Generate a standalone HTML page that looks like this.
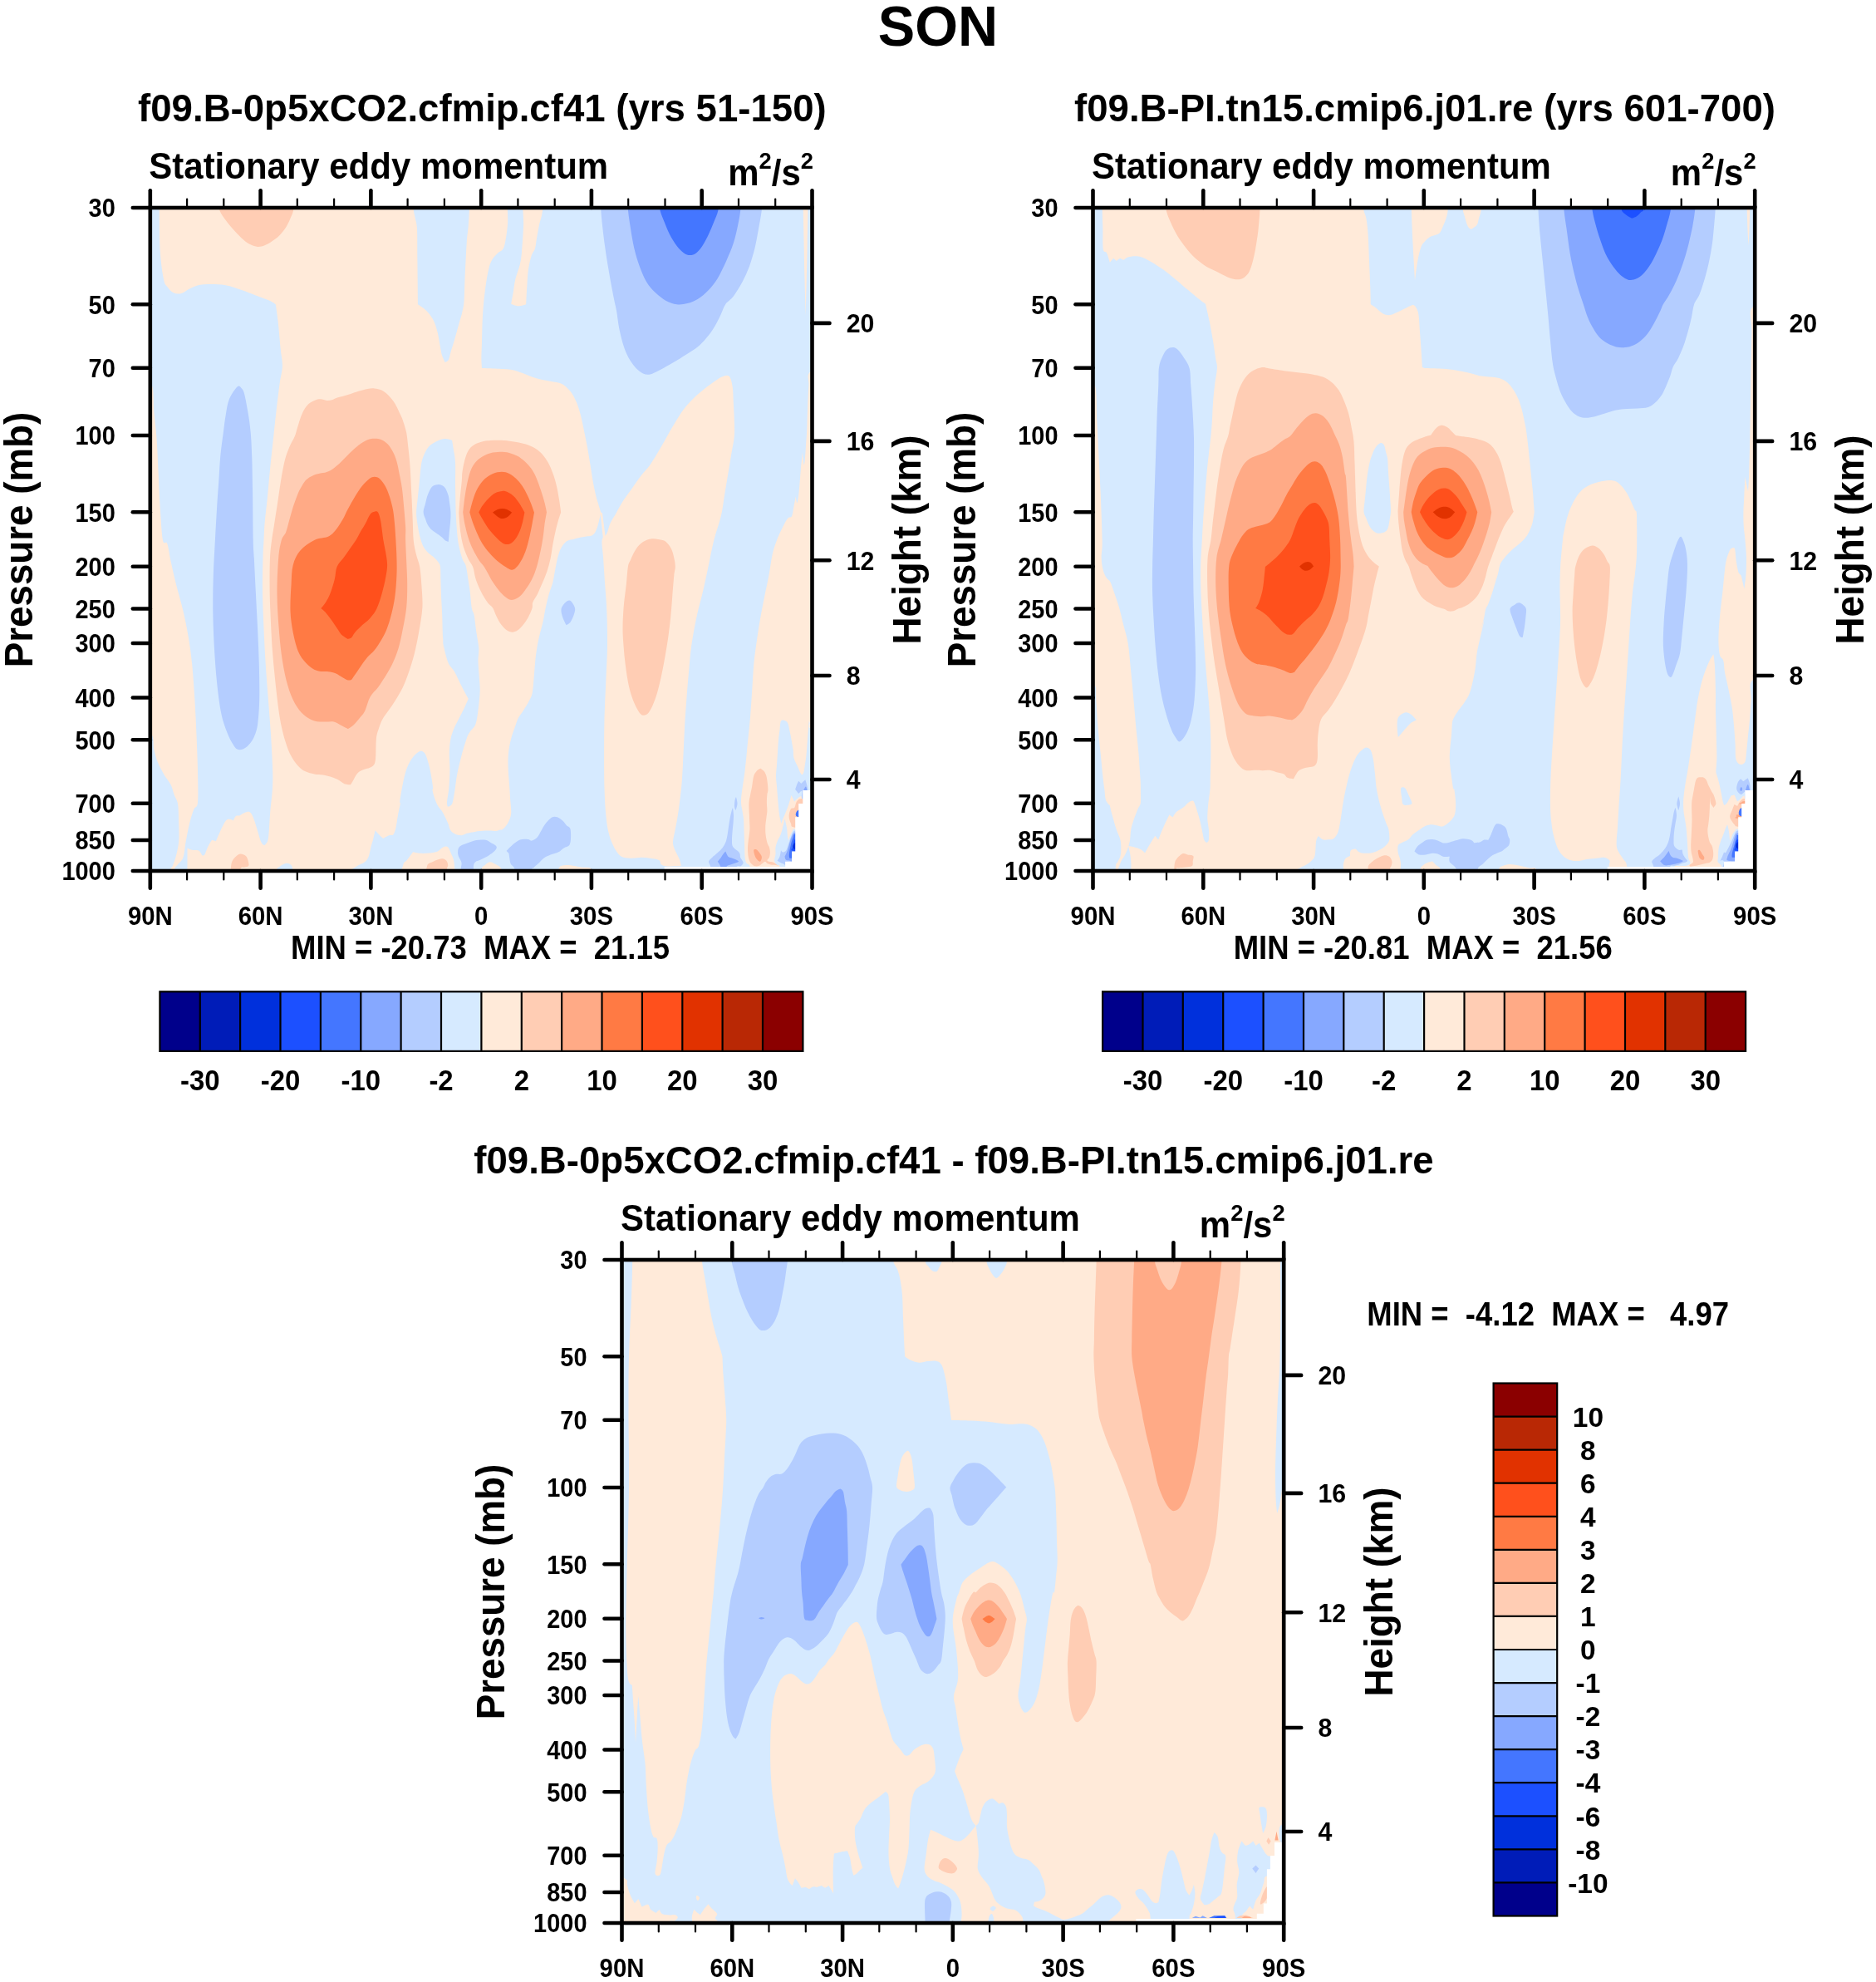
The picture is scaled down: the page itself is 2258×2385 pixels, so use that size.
<!DOCTYPE html>
<html><head><meta charset="utf-8"><title>SON</title>
<style>html,body{margin:0;padding:0;background:#fff}svg{display:block}body{will-change:transform}text{font-family:"Liberation Sans",sans-serif;font-weight:bold;fill:#000}</style></head><body>
<svg width="2258" height="2385" viewBox="0 0 2258 2385">
<rect width="2258" height="2385" fill="#fff"/>
<text transform="translate(1129 55.3) scale(0.965 1)" font-size="69" text-anchor="middle">SON</text>
<clipPath id="cp1"><rect x="180.8" y="250" width="796.7" height="798"/></clipPath>
<g clip-path="url(#cp1)">
<rect x="180.8" y="250" width="796.7" height="798" fill="#D6EAFF"/>
<path d="M191.7 237.2C242.7 234.7 446.7 234.7 497.7 237.2C548.7 239.7 497.3 247.9 497.7 252.1C498.1 256.4 499.1 258.9 499.8 262.8C500.5 266.7 501.5 267.1 502 275.6C502.4 284.1 502.2 298.9 502.4 314C502.6 329.1 503 366.2 503 366.2C503 366.2 508.2 369.6 510.5 371.5C512.8 373.5 514.9 375.4 516.9 377.9C518.8 380.4 520.6 382.9 522.2 386.5C523.8 390 525.2 394.3 526.5 399.3C527.7 404.2 528.8 411.7 529.7 416.3C530.6 420.9 530.8 423.7 531.8 427C532.8 430.2 535.7 435.9 535.7 435.9C535.7 435.9 538.8 435 539.9 432.9C541.1 430.9 541.3 427.6 542.5 423.8C543.6 419.9 545.1 415.4 546.7 409.9C548.3 404.4 550.5 396.4 552.1 390.7C553.7 385 555.3 380.4 556.3 375.8C557.4 371.2 557.9 369.8 558.5 363C559 356.3 559 347 559.5 335.3C560.1 323.6 561 303.3 561.7 292.6C562.4 282 563.3 278.1 563.8 271.3C564.3 264.6 564.7 257.8 564.9 252.1C565 246.4 557.2 239.7 564.9 237.2C572.5 234.7 603.2 234.7 610.9 237.2C618.6 239.7 610.9 246.4 610.9 252.1C610.9 257.8 611.6 263.9 610.9 271.3C610.2 278.8 608.6 291.4 606.7 296.9C604.7 302.4 601.5 301.9 599.2 304.4C596.9 306.9 594.6 308.8 592.8 311.8C591 314.9 590 316.8 588.5 322.5C587.1 328.2 585.5 336.7 584.3 345.9C583 355.2 581.8 366.9 581.1 377.9C580.4 388.9 580.3 403.2 580 412C579.7 420.9 579.4 426.1 579.4 431.2C579.4 436.4 580 443 580 443C580 443 604.2 443.6 612 444.5C619.8 445.3 621.6 446.6 626.9 448.3C632.2 450 638.3 453 644 454.7C649.7 456.4 656 457.5 661 458.5C666 459.6 670.3 459.8 673.8 461.1C677.4 462.4 679.9 464.3 682.3 466.4C684.8 468.6 686.8 470.9 688.7 473.9C690.7 476.9 692.5 480.6 694.1 484.5C695.7 488.5 696.9 492 698.3 497.3C699.8 502.7 701.2 509.8 702.6 516.5C704 523.3 705.6 530.7 706.9 537.8C708.2 545 709.3 552.1 710.5 559.2C711.7 566.3 712.7 574.1 713.9 580.5C715.1 586.9 716.4 592.9 717.5 597.5C718.7 602.2 719.8 605 720.7 608.2C721.7 611.4 723.3 616.7 723.3 616.7C723.3 616.7 723 618.5 722.4 621C721.8 623.5 720.7 628.5 719.7 631.7C718.7 634.9 717.7 638.1 716.5 640.2C715.2 642.3 714 643.6 712.2 644.5C710.4 645.3 707.9 645.2 705.8 645.5C703.7 645.9 701.9 646.1 699.4 646.6C696.9 647.1 693.7 648 690.9 648.7C688 649.5 684.8 649.4 682.3 651.1C679.9 652.7 677.7 655.5 675.9 658.5C674.2 661.5 672.9 664.9 671.7 669.2C670.4 673.5 669.6 678.8 668.5 684.1C667.4 689.4 666.5 696.2 665.3 701.2C664 706.1 662.4 709 661 714C659.6 718.9 658 725.3 656.8 731C655.5 736.7 655 741.7 653.6 748.1C652.1 754.5 649.7 762.7 648.2 769.4C646.8 776.2 645.9 781.5 645 788.6C644.1 795.7 643.6 804.6 642.9 812C642.2 819.5 641.8 828 640.8 833.4C639.7 838.7 638.3 840.5 636.5 844C634.7 847.6 632.2 851.3 630.1 854.7C628 858.1 625.5 860.7 623.7 864.3C621.9 867.8 620.9 871.9 619.4 876C618 880.1 616.4 883.8 615.2 888.8C613.9 893.8 612.6 900.2 612 905.9C611.4 911.5 611.4 916.5 611.6 922.9C611.7 929.3 612.6 937.8 613 944.2C613.5 950.6 613.8 955.6 614.1 961.3C614.5 967 615.5 973.7 615.2 978.4C614.8 983 613.4 986 612 989C610.6 992 608.4 994.7 606.7 996.5C604.9 998.3 601.8 999.4 601.3 999.7C600.8 999.9 604.2 997.9 603.5 998C602.8 998 600.3 999.6 597.1 999.9C593.9 1000.2 588.6 999.4 584.3 999.6C580.1 999.7 575.3 1000.3 571.5 1000.9C567.8 1001.4 564.6 1002.1 561.9 1002.8C559.3 1003.5 557.9 1005 555.5 1005.2C553.2 1005.3 549.8 1004.6 547.6 1003.6C545.3 1002.5 543.3 1000.8 542 998.8C540.6 996.8 540.5 994 539.6 991.6C538.6 989.2 537.7 987 536.4 984.4C535 981.7 533.2 978.1 531.6 975.6C530 973.1 528.2 971.9 526.8 969.2C525.3 966.5 523.8 962.8 522.8 959.6C521.7 956.4 520.6 951.8 520.4 950C520.1 948.2 521.4 951.2 521.2 948.5C520.9 945.8 519.9 938.6 519 933.6C518.1 928.6 517.1 923.1 515.8 918.7C514.6 914.2 513.2 909.4 511.6 906.9C510 904.4 508.2 903.6 506.2 903.7C504.3 903.9 502 905.9 499.8 908C497.7 910.1 495.4 913 493.4 916.5C491.5 920.1 489.7 924 488.1 929.3C486.5 934.6 485 942.5 483.8 948.5C482.7 954.5 481.4 962.7 481.1 965.6C480.8 968.5 482.4 963.3 482 966C481.6 968.7 479.7 976.9 478.8 982C477.9 987 477.3 992.6 476.4 996.4C475.5 1000.1 474.5 1002.9 473.2 1004.4C471.9 1005.8 470.4 1004.4 468.4 1005.2C466.4 1005.9 461.2 1008.9 461.2 1008.9C461.2 1008.9 458 1006 456.4 1004.4C454.8 1002.8 451.6 999.3 451.6 999.3C451.6 999.3 449.9 1007.1 449.1 1010.3C448.2 1013.6 447.5 1015.3 446.5 1018.9C445.6 1022.4 444.7 1028.5 443.3 1031.7C441.9 1034.9 440.3 1036.3 438 1038.1C435.7 1039.8 432.3 1040.3 429.5 1042.3C426.6 1044.3 422.4 1045.7 420.9 1050C419.5 1054.3 453.5 1064.9 420.9 1067.9C388.4 1070.9 258.4 1070.9 225.8 1067.9C193.3 1064.9 225.9 1053.7 225.8 1050C225.8 1046.3 225.6 1050.9 225.5 1046C225.5 1041 225.5 1020.4 225.5 1020.4C225.5 1020.4 228.9 1022.2 231.1 1022.8C233.4 1023.3 237.1 1022.5 239.1 1023.6C241.1 1024.6 243.1 1029.2 243.1 1029.2C243.1 1029.2 245.1 1030.1 246.3 1028.4C247.5 1026.6 248.9 1021.7 250.3 1018.8C251.8 1015.8 255.1 1010.8 255.1 1010.8C255.1 1010.8 259.9 1012.4 259.9 1012.4C259.9 1012.4 262.7 1005.3 264.7 1001.2C266.7 997 269.8 990.1 271.9 987.6C274 985 276 986 277.5 986C279 986 280.7 987.6 280.7 987.6C280.7 987.6 282.6 983.1 283.9 982C285.2 980.9 287 981.9 288.7 981.2C290.4 980.5 292.3 978.7 294.3 978C296.3 977.3 299 976.3 300.7 977.2C302.4 978.1 303.2 980.1 304.7 983.6C306.2 987 307.9 993 309.5 998C311.1 1002.9 312.8 1010 314.3 1013.2C315.8 1016.4 318.3 1017.2 318.3 1017.2C318.3 1017.2 321.4 1014.8 322.3 1011.6C323.2 1008.4 323.4 1004.2 323.9 998C324.4 991.7 324.8 982 325.5 974C326.2 966 327.4 957.8 327.9 950C328.3 942.2 328.5 938.1 328.2 927.2C327.9 916.3 326.9 898.8 326.1 884.5C325.2 870.3 323.9 856.1 322.9 841.9C321.8 827.7 320.5 813.5 319.7 799.3C318.8 785 318.1 770.8 317.5 756.6C316.9 742.4 316.2 728.2 316 714C315.9 699.8 316.2 682 316.5 671.3C316.7 660.7 317.2 657 317.5 650C317.9 643 317.9 637.9 318.6 629.5C319.3 621.1 320.7 610.3 321.8 599.7C322.9 589 323.7 578 325 565.6C326.2 553.1 328 536.8 329.3 525.1C330.5 513.3 331.2 505.9 332.5 495.2C333.7 484.5 335.5 470.1 336.7 461.1C338 452 339.7 447.6 339.9 440.8C340.1 434.1 338.7 429.6 337.8 420.6C336.9 411.5 335.6 395.5 334.6 386.5C333.6 377.4 331.8 366.2 331.8 366.2C331.8 366.2 329 363.7 325 361.9C321 360.2 313.6 357.7 307.9 355.5C302.2 353.4 296.9 351.2 290.9 349.1C284.8 347.1 277.7 344.3 271.7 343.2C265.6 342 259.8 342.2 254.6 342.1C249.5 342 245 341.9 240.8 342.8C236.5 343.6 232.8 345.3 229 347C225.3 348.7 221.8 352.1 218.4 353C215 353.9 211.6 353.7 208.8 352.3C205.9 351 203.3 347.5 201.3 344.9C199.4 342.2 198.5 343.3 197.1 336.4C195.6 329.4 193.7 317.3 192.8 303.3C191.9 289.3 191.9 263.1 191.7 252.1C191.5 241.1 140.7 239.7 191.7 237.2Z" fill="#FFEAD9"/>
<path d="M167.2 463.2C169.8 393 179.5 457.9 182.6 463.2C185.6 468.6 184.3 484.5 185.3 495.2C186.3 505.9 187.6 514.7 188.5 527.2C189.4 539.6 190 555.6 190.7 569.8C191.4 584 191.9 599.1 192.8 612.5C193.7 625.8 194.6 643 196 650C197.4 657 199.7 650 201.3 654.3C202.9 658.5 203.8 667.4 205.6 675.6C207.4 683.8 209.5 693.4 212 703.3C214.5 713.3 218 724.6 220.5 735.3C223 745.9 225.1 756.6 226.9 767.3C228.7 777.9 229.9 786.8 231.2 799.3C232.4 811.7 233.5 827.7 234.4 841.9C235.3 856.1 235.9 870.3 236.5 884.5C237.1 898.8 237.7 913.7 238 927.2C238.2 940.7 238.8 957.7 238 965.6C237.2 973.4 235 969.8 233.3 974.1C231.6 978.4 229.6 984.8 228 991.2C226.4 997.5 225 1005.7 223.7 1012.5C222.5 1019.2 222.1 1027 220.5 1031.7C218.9 1036.3 215.9 1037.7 214.1 1040.2C212.3 1042.7 210.6 1042 209.9 1046.6C209.1 1051.2 210.6 1064.4 209.9 1067.9C209.1 1071.5 206.3 1071.5 205.6 1067.9C204.9 1064.4 205.2 1050.9 205.6 1046.6C205.9 1042.3 206.7 1045.2 207.7 1042.3C208.8 1039.5 210.7 1034.5 212 1029.5C213.2 1024.6 214.6 1018.9 215.2 1012.5C215.7 1006.1 215.4 998.6 215.2 991.2C215 983.7 215 973.4 214.1 967.7C213.2 962 211.3 960.9 209.9 957C208.4 953.1 207.7 948.5 205.6 944.2C203.5 940 199.7 936.1 197.1 931.4C194.4 926.8 191.5 921.5 189.6 916.5C187.6 911.5 186.5 906.9 185.3 901.6C184.2 896.3 185.6 887.4 182.6 884.5C179.5 881.7 169.8 954.8 167.2 884.5C164.6 814.3 164.6 533.4 167.2 463.2Z" fill="#FFEAD9"/>
<path d="M877.4 452.6C875.3 450.6 872.3 452.2 868.9 453.6C865.5 455 861.3 458.2 857.2 461.1C853.1 463.9 848.7 467.1 844.4 470.7C840.1 474.2 835.5 478.3 831.6 482.4C827.7 486.5 824.5 490.2 820.9 495.2C817.4 500.2 813.5 506.9 810.3 512.3C807.1 517.6 804.6 522.2 801.7 527.2C798.9 532.2 796.4 536.8 793.2 542.1C790 547.4 786.1 554.2 782.6 559.2C779 564.1 775.5 567.3 771.9 572C768.3 576.6 764.8 581.9 761.2 586.9C757.7 591.9 753.8 596.8 750.6 601.8C747.4 606.8 744.7 612.1 742 616.7C739.4 621.4 736.5 625.3 734.6 629.5C732.6 633.8 732 638.9 730.3 642.3C728.6 645.7 725.3 645.2 724.6 650C723.9 654.8 725.5 662.4 726.1 671.3C726.7 680.2 727.5 692.6 728.2 703.3C728.9 714 729.9 722.9 730.3 735.3C730.8 747.7 731.1 763.7 731 777.9C730.8 792.1 729.8 806.4 729.3 820.6C728.7 834.8 727.9 849 727.5 863.2C727.2 877.4 727.1 891.6 727.1 905.9C727.1 920.1 727.2 936.1 727.5 948.5C727.9 960.9 728.4 971.6 729.3 980.5C730.1 989.4 731 995.8 732.5 1001.8C733.9 1007.9 735.8 1012.5 737.8 1016.7C739.7 1021 742 1024.9 744.2 1027.4C746.3 1029.9 747.7 1030.8 750.6 1031.7C753.4 1032.6 757.7 1032.7 761.2 1032.7C764.8 1032.7 768.3 1031.7 771.9 1031.7C775.5 1031.7 779 1032.2 782.6 1032.7C786.1 1033.3 791 1033.6 793.2 1034.9C795.4 1036.1 794.4 1038.9 795.8 1040.2C797.2 1041.4 799.3 1042 801.7 1042.3C804.2 1042.7 807.3 1042.4 810.3 1042.3C813.3 1042.3 819.9 1041.9 819.9 1041.9C819.9 1041.9 818.8 1036.6 817.7 1033.8C816.7 1031 814.7 1028.1 813.5 1025.3C812.2 1022.4 810.8 1019.2 810.3 1016.7C809.7 1014.3 809.9 1013.2 810.3 1010.3C810.6 1007.5 811.5 1004.3 812.4 999.7C813.3 995.1 814.5 989.4 815.6 982.6C816.7 975.9 817.9 966.6 818.8 959.2C819.7 951.7 820.3 946.7 820.9 937.8C821.6 929 822.1 916.5 822.6 905.9C823.2 895.2 823.5 884.5 824.1 873.9C824.7 863.2 825.4 853.6 826.3 841.9C827.2 830.2 828.4 814.9 829.5 803.5C830.5 792.1 831.1 784.3 832.7 773.7C834.3 763 836.8 750.2 839.1 739.6C841.4 728.9 844.2 719.7 846.5 709.7C848.8 699.8 850.8 689.8 852.9 679.9C855.1 669.9 856.8 659.8 859.3 650C861.8 640.2 865.7 630.1 867.8 621C870 611.9 870.7 603.9 872.1 595.4C873.5 586.9 875 578.4 876.4 569.8C877.8 561.3 879.4 551.7 880.6 544.2C881.9 536.8 883.3 531.4 883.8 525.1C884.4 518.7 884 512.6 883.8 505.9C883.7 499.1 883.1 491.3 882.8 484.5C882.4 477.8 882.6 470.7 881.7 465.4C880.8 460 879.6 454.5 877.4 452.6Z" fill="#FFEAD9"/>
<path d="M1006.4 437.6C1002.1 366.1 981 443 975.5 447.2C970 451.5 973.9 457 973.4 463.2C972.9 469.4 972.7 475.7 972.3 484.5C972 493.4 971.6 508.4 971.3 516.5C970.9 524.7 970.7 526.5 970.2 533.6C969.7 540.7 968.8 557.4 968.1 559.2C967.3 560.9 965.9 544.2 965.9 544.2C965.9 544.2 964.5 557.7 963.8 565.6C963.1 573.4 962.4 584.6 961.7 591.2C961 597.7 960.2 603.9 959.5 605C958.9 606.1 957.8 597.5 957.8 597.5C957.8 597.5 956.5 604.3 955.7 608.2C954.9 612.1 954.3 618.5 953.1 621C952 623.5 950.3 621.7 948.9 623.1C947.4 624.6 946 627 944.6 629.5C943.2 632 941.9 634.6 940.3 638.1C938.7 641.5 936.8 645.2 935 650C933.2 654.8 931.3 660 929.7 667.1C928.1 674.2 927 684.1 925.4 692.6C923.8 701.2 921.9 709.3 920.1 718.2C918.3 727.1 916.4 736.7 914.8 745.9C913.2 755.2 911.7 764.8 910.5 773.7C909.2 782.6 908.2 789.7 907.3 799.3C906.4 808.8 905.9 820.6 905.2 831.2C904.4 841.9 903.9 852.6 903 863.2C902.1 873.9 900.9 884.5 899.8 895.2C898.8 905.9 897.9 916.2 896.6 927.2C895.3 938.2 892.6 952.9 892.1 961C891.6 969.2 893.1 972 893.6 976.2C894.1 980.4 894.8 982.1 895.1 986.3C895.4 990.5 895.4 996.4 895.6 1001.4C895.8 1006.5 895.9 1011.5 896.1 1016.5C896.3 1021.6 896.2 1028 896.6 1031.7C897 1035.4 897.6 1036.9 898.6 1038.8C899.6 1040.6 902 1039.1 902.7 1043C903.3 1046.9 896.7 1058.8 902.7 1062C908.6 1065.1 932.5 1065.1 938.5 1062C944.5 1058.8 939.1 1046.5 938.5 1043C937.9 1039.5 936 1042 935 1040.8C933.9 1039.6 932.4 1037.9 932.1 1035.7C931.9 1033.5 933.2 1030.3 933.5 1027.7C933.7 1025 933 1022.3 933.5 1019.6C933.9 1016.9 935 1014 936 1011.5C937 1009 938.5 1007.1 939.5 1004.4C940.5 1001.7 941.9 997.6 942 995.4C942.2 993.1 940.5 990.8 940.5 990.8C940.5 990.8 939.1 986.5 938.5 983.2C937.9 980 937.4 975.2 937 971.1C936.6 967.1 936.3 963.2 936 959C935.6 954.8 935.3 950.1 935 945.9C934.6 941.7 934 938 934 933.8C934 929.6 934.6 925.4 935 920.7C935.3 915.9 935.6 910.6 936 905.5C936.3 900.5 936.6 894.9 937 890.4C937.4 885.8 938 882 938.5 878.3C939 874.5 938.9 869.5 940 867.7C941.1 865.8 943.6 866.6 945.1 867.2C946.5 867.7 947.7 869 948.6 871.2C949.5 873.4 949.9 877.1 950.6 880.3C951.3 883.5 952 886.7 952.6 890.4C953.3 894.1 954.2 899.1 954.7 902.5C955.1 905.9 954.7 908.2 955.2 910.6C955.6 912.9 956.3 914.6 957.2 916.6C958 918.6 959.2 920.5 960.2 922.7C961.2 924.9 962.4 928.1 963.2 929.7C964.1 931.3 965.3 932.3 965.3 932.3C965.3 932.3 966.7 931.7 967.3 929.7C967.9 927.8 968.3 923.9 968.8 920.7C969.3 917.5 969.9 914.3 970.3 910.6C970.7 906.9 971 902.7 971.3 898.5C971.7 894.2 972 889.2 972.3 885.3C972.6 881.5 972.9 878.3 973.1 875.2C973.4 872.2 973.8 867.2 973.8 867.2C973.8 867.2 974.5 868.7 974.8 870.2C975.2 871.7 971.4 875.2 975.9 876.2C980.3 877.3 996.5 949.3 1001.6 876.2C1006.7 803.1 1010.8 509.1 1006.4 437.6Z" fill="#FFEAD9"/>
<path d="M940.5 990.8C940.9 988.3 943.2 983.7 944.6 980.2C945.9 976.8 947.3 974 948.6 970.1C949.9 966.2 952.6 957 952.6 957C952.6 957 956.2 964.6 956.2 964.6C956.2 964.6 958.2 962.1 959.7 961C961.2 959.9 961.6 958.5 965.3 958C968.9 957.5 978.7 951.4 981.4 958C984.1 964.6 985.4 990.8 981.4 997.4C977.4 1003.9 961.8 996.9 957.2 997.4C952.6 997.9 954.7 998.9 953.6 1000.4C952.6 1001.9 951.4 1004.6 950.6 1006.5C949.9 1008.3 949.1 1011.5 949.1 1011.5C949.1 1011.5 948.2 1008 947.9 1005.4C947.6 1002.9 947.6 999.7 947.1 996.4C946.5 993 944.6 985.3 944.6 985.3C944.6 985.3 942.7 994.4 942 995.4C941.4 996.3 940.1 993.3 940.5 990.8Z" fill="#FFEAD9"/>
<path d="M967 237.2C966.2 246.4 967.4 276.3 967.6 292.6C967.9 309 968.1 320.7 968.5 335.3C968.8 349.9 969.8 380.1 969.8 380.1C969.8 380.1 970.5 349.9 970.8 335.3C971.2 320.7 971.5 309 971.7 292.6C971.9 276.3 972.9 246.4 972.1 237.2C971.3 228 967.7 228 967 237.2Z" fill="#FFEAD9"/>
<path d="M631.2 237.2C627.3 242.9 630.6 260.3 630.1 271.3C629.6 282.3 628.7 295.5 628 303.3C627.3 311.1 627.1 312.9 625.8 318.2C624.6 323.6 621.8 330 620.5 335.3C619.2 340.6 618.8 345.1 618 350.2C617.1 355.3 615.2 365.8 615.2 365.8C615.2 365.8 620.7 368.3 623.7 368.3C626.7 368.4 633.3 366.2 633.3 366.2C633.3 366.2 633.9 350.7 634.4 343.8C634.8 336.9 635 330.7 635.9 324.6C636.8 318.6 638.4 311.8 639.7 307.6C641.1 303.3 642.9 302.6 644 299C645 295.5 645.2 291.2 646.1 286.2C647 281.3 648.2 274.2 649.3 269.2C650.4 264.2 651.8 261.7 652.5 256.4C653.2 251.1 657.1 240.4 653.6 237.2C650 234 635.1 231.5 631.2 237.2Z" fill="#FFEAD9"/>
<path d="M722.4 615.7L724.1 631.7L726.3 650.9L729.3 650.9L727.1 633.8L725 617.8Z" fill="#FFEAD9"/>
<path d="M485.2 1061.9C474.8 1058.5 484.4 1045.7 485.2 1041.2C486 1036.6 488 1037.4 490 1034.8C492 1032.1 497.2 1025.2 497.2 1025.2C497.2 1025.2 502.6 1026.5 506 1026.8C509.3 1027 513.7 1026.8 517.2 1026.4C520.6 1026 524.1 1025.5 526.8 1024.4C529.4 1023.2 531.2 1020.4 533.2 1019.6C535.2 1018.7 537.2 1017.9 538.8 1019.1C540.4 1020.3 541.6 1024.2 542.8 1026.8C544 1029.4 545.2 1031.6 546 1034.8C546.7 1038 547 1041.4 547.2 1046C547.4 1050.5 557.6 1059.3 547.2 1061.9C536.9 1064.6 495.5 1065.4 485.2 1061.9Z" fill="#FFEAD9"/>
<path d="M579.5 1061.9C575.5 1059.3 578.7 1049.6 579.5 1046C580.3 1042.4 582.6 1041.8 584.3 1040.4C586.1 1038.9 588.1 1037.3 589.9 1037.2C591.8 1037 593.3 1038.1 595.5 1039.6C597.8 1041 602.2 1042.2 603.5 1046C604.9 1049.7 607.5 1059.3 603.5 1061.9C599.5 1064.6 583.5 1064.6 579.5 1061.9Z" fill="#FFEAD9"/>
<path d="M672.3 1061.9C665.6 1059.3 671.5 1049.4 672.3 1046C673.1 1042.5 674.7 1042.3 677.1 1041.5C679.5 1040.7 683 1040.8 686.7 1041.2C690.4 1041.5 695.2 1042.8 699.5 1043.6C703.7 1044.4 710.1 1042.9 712.3 1046C714.4 1049 718.9 1059.3 712.3 1061.9C705.6 1064.6 679 1064.6 672.3 1061.9Z" fill="#FFEAD9"/>
<path d="M544.1 529.7C544.1 529.7 538.2 527.9 535.3 528C532.5 528.1 529.7 529.2 526.8 530.4C524 531.6 520.7 533.3 518.4 535.3C516 537.3 514.4 539.6 512.7 542.4C511.1 545.2 509.5 548.7 508.5 552.3C507.4 555.8 506.9 559.1 506.4 563.6C505.8 568.1 505.5 573.2 504.9 579.1C504.4 585 503.5 592.6 502.8 598.9C502.2 605.3 501.1 611.6 501.1 617.3C501.1 622.9 502.1 627.9 502.8 632.8C503.6 637.8 504.5 642.7 505.7 647C506.8 651.2 508.2 655.2 509.9 658.3C511.5 661.3 513.4 663.2 515.5 665.3C517.7 667.4 520.6 669.1 522.6 671C524.6 672.9 526.3 674.7 527.6 676.6C528.8 678.5 529.5 678.7 530 682.3C530.4 685.8 530.2 691.7 530.4 697.8C530.6 703.9 530.8 712 531.1 719C531.4 726.1 531.9 733.1 532.2 740.2C532.5 747.3 532.5 754.8 532.8 761.4C533.1 768.1 534.3 782.6 533.9 780.1C533.6 777.5 530.9 747.7 530.7 745.9C530.6 744.2 532 762.7 532.9 769.4C533.8 776.2 534.8 781.5 536.1 786.5C537.3 791.4 538.6 795.7 540.3 799.3C542.1 802.8 544.8 804.6 546.7 807.8C548.7 811 550.1 814.5 552.1 818.4C554 822.4 556.5 827.5 558.5 831.2C560.4 835 563.8 840.8 563.8 840.8C563.8 840.8 561.3 846.7 559.5 850.4C557.8 854.2 555.3 859 553.1 863.2C551 867.5 548.5 871.7 546.7 876C545 880.3 543.5 883.8 542.5 888.8C541.5 893.8 540.9 899.5 540.8 905.9C540.6 912.3 541.5 920.1 541.4 927.2C541.3 934.3 540.9 942 540.3 948.5C539.8 955 538.1 962.3 538 966C537.8 969.7 539.2 970.8 539.2 970.8C539.2 970.8 543 970.3 544.4 966.8C545.7 963.3 546.6 955.5 547.6 950C548.5 944.5 548.7 940.2 549.9 933.6C551.2 926.9 553.3 917.6 555.3 910.1C557.2 902.7 559.9 893.8 561.7 888.8C563.4 883.8 564.2 883.1 565.9 880.3C567.7 877.4 570.7 876 572.3 871.7C573.9 867.5 574.6 861.4 575.5 854.7C576.4 847.9 577.5 838.3 577.7 831.2C577.8 824.1 576.9 818.1 576.6 812C576.2 806 575.6 800.3 575.5 795C575.5 789.7 576.6 785.7 576.3 780.1C576 774.5 574.4 768.1 573.5 761.4C572.5 754.8 571.6 745.2 570.7 740.2C569.7 735.3 568.6 736.4 567.8 731.7C567 727 566.4 717.6 565.7 712C565 706.3 564.4 703 563.6 697.8C562.8 692.6 561.9 685.1 560.8 680.9C559.6 676.6 557.9 676.4 556.5 672.4C555.1 668.4 553.3 662 552.3 656.8C551.2 651.7 550.8 647.9 550.2 641.3C549.6 634.7 549.1 626.7 548.7 617.3C548.4 607.9 548.2 594.9 548 584.8C547.9 574.7 548.4 563.8 548 556.5C547.7 549.2 546.6 545.5 545.9 541C545.3 536.5 544.1 529.7 544.1 529.7Z" fill="#D6EAFF"/>
<path d="M332.5 1067.9C329.1 1064.6 331.6 1052.2 332.5 1047.9C333.3 1043.5 335.7 1043.4 337.8 1041.9C339.9 1040.4 343.1 1038.8 345.2 1038.7C347.4 1038.6 349.4 1039.7 350.6 1041.3C351.7 1042.8 352 1043.4 352.3 1047.9C352.6 1052.3 355.6 1064.6 352.3 1067.9C349 1071.3 335.8 1071.3 332.5 1067.9Z" fill="#D6EAFF"/>
<path d="M264.2 237.2C249.4 239.8 263 247.9 264.2 252.6C265.5 257.2 268.7 260.7 271.7 264.9C274.7 269.1 278.8 273.8 282.3 277.7C285.9 281.6 289.8 285.6 293 288.4C296.2 291.2 298.7 292.9 301.5 294.3C304.4 295.8 307.2 296.8 310.1 296.9C312.9 297.1 315.7 296.3 318.6 295.2C321.4 294.1 324.3 292.4 327.1 290.5C330 288.7 332.8 287 335.7 284.1C338.5 281.3 341.9 277 344.2 273.5C346.5 269.9 348 266.3 349.5 262.8C351 259.3 352.5 256.8 353.1 252.6C353.7 248.3 368 239.8 353.1 237.2C338.3 234.6 279 234.6 264.2 237.2Z" fill="#FFCDB4"/>
<path d="M330.3 629.5C331.6 621.5 333.2 611.1 334.6 601.8C336 592.6 337.4 582.3 338.8 574.1C340.3 565.9 341.5 558.8 343.1 552.8C344.7 546.7 346.5 542.5 348.4 537.8C350.4 533.2 353.2 529 354.8 525.1C356.4 521.1 356.6 518.8 358 514.4C359.5 510 361.4 502.8 363.4 498.4C365.3 494 367.3 490.5 369.8 487.7C372.3 485 375.6 483.2 378.3 482C381 480.7 383.3 480.3 385.8 480.3C388.2 480.3 390.9 481.8 393.2 482C395.5 482.2 397.5 481.9 399.6 481.3C401.7 480.8 402.8 479.6 406 478.6C409.2 477.5 414.5 476.3 418.8 474.9C423.1 473.6 427.7 471.9 431.6 470.7C435.5 469.5 439.1 468.4 442.3 467.9C445.5 467.4 447.9 467.2 450.8 467.5C453.6 467.8 456.5 468.2 459.3 469.6C462.2 471 465.2 473.3 467.8 476C470.5 478.7 473.2 482.2 475.3 485.6C477.4 489 479 492.9 480.6 496.3C482.2 499.6 483.5 501.8 484.9 505.9C486.3 510 488.1 515.5 489.2 520.8C490.2 526.1 490.6 531.4 491.3 537.8C492 544.2 492.8 550.3 493.4 559.2C494.1 568.1 494.6 580.5 495.1 591.2C495.7 601.8 496.2 613.3 496.6 623.1C497.1 632.9 497 642.7 497.7 650C498.4 657.3 499.7 661.7 500.9 667.1C502.1 672.4 504.1 675.9 505.2 682C506.2 688 506.8 695.1 507.3 703.3C507.8 711.5 508.9 721.4 508.4 731C507.8 740.6 505.7 751.6 504.1 760.9C502.5 770.1 500.7 778.6 498.8 786.5C496.8 794.3 494.7 801 492.4 807.8C490.1 814.5 487.6 821.3 484.9 827C482.2 832.7 479.2 837.3 476.4 841.9C473.5 846.5 470.5 850.8 467.8 854.7C465.2 858.6 462.3 861.8 460.4 865.4C458.4 868.9 457.4 872.1 456.1 876C454.9 879.9 453.6 882.4 452.9 888.8C452.2 895.2 452.7 908.8 451.9 914.4C451 920 450.3 920.4 447.6 922.5C444.9 924.6 438.9 925.3 435.9 926.8C432.8 928.3 431.2 929.4 429.5 931.4C427.7 933.5 426.4 936.8 425.2 938.9C424 941 422 944.2 422 944.2C422 944.2 417.2 944.2 414.5 943.2C411.9 942.1 408.9 939.3 406 937.8C403.2 936.4 400.3 935.5 397.5 934.6C394.6 933.8 392.2 933 389 932.5C385.8 932 381.8 932.2 378.3 931.4C374.7 930.7 370.8 929.9 367.6 928.3C364.4 926.7 361.9 924.9 359.1 921.9C356.3 918.8 353.2 915.3 350.6 910.1C347.9 905 345.4 898.8 343.1 890.9C340.8 883.1 338.7 874.9 336.7 863.2C334.8 851.5 332.9 834.8 331.4 820.6C329.9 806.4 328.5 792.1 327.5 777.9C326.6 763.7 325.9 747.7 325.4 735.3C324.9 722.9 324.6 714 324.6 703.3C324.5 692.6 324.6 680.2 325 671.3C325.4 662.4 326.2 657 327.1 650C328 643 329.1 637.6 330.3 629.5Z" fill="#FFCDB4"/>
<path d="M598.9 529.7C601.7 529.7 603.9 529.6 607.4 530C610.9 530.3 615.9 531 620.1 531.8C624.3 532.6 628.8 533.3 632.8 534.6C636.8 535.9 640.8 537.6 644.1 539.6C647.4 541.6 650 543.8 652.6 546.6C655.2 549.5 657.6 552.8 659.7 556.5C661.8 560.3 663.7 564.8 665.3 569.2C667 573.7 668.3 578 669.6 583.4C670.9 588.8 672.2 596.2 673.1 601.7C674 607.3 675.2 616.6 675.2 616.6C675.2 616.6 672.9 623.1 671.7 627.2C670.5 631.3 669.2 636.6 668.2 641.3C667.1 646 666.3 650.3 665.3 655.4C664.4 660.6 663.7 667 662.5 672.4C661.3 677.8 659.9 683 658.3 687.9C656.6 692.9 654.5 697.6 652.6 702.1C650.7 706.5 648.8 711 647 714.8C645.1 718.5 642.4 721.8 641.3 724.7C640.2 727.5 641.5 728.7 640.6 731.7C639.7 734.8 637.4 739.7 635.7 743C633.9 746.3 632.1 748.9 630 751.5C627.9 754.1 625.2 757.1 622.9 758.6C620.7 760.1 618.7 760.7 616.6 760.7C614.5 760.7 612.5 760.1 610.2 758.6C608 757.1 605.3 754.3 603.2 751.5C601 748.7 599.1 744.9 597.5 741.6C595.9 738.3 594.9 734.3 593.3 731.7C591.6 729.1 589.5 728.4 587.6 726.1C585.7 723.7 583.8 720.9 582 717.6C580.1 714.3 578 710.1 576.3 706.3C574.7 702.5 573.2 699 572.1 695C570.9 691 570.7 686 569.2 682.3C567.8 678.5 565.5 676.4 563.6 672.4C561.7 668.4 559.5 663.4 557.9 658.3C556.4 653.1 555.3 648.1 554.4 641.3C553.5 634.5 552.3 617.3 552.3 617.3C552.3 617.3 553.1 605.3 553.7 598.9C554.3 592.6 555.3 584.3 555.8 579.1C556.3 573.9 555.9 572.1 556.5 567.8C557.1 563.6 558.2 557.9 559.3 553.7C560.5 549.5 561.7 545.5 563.6 542.4C565.5 539.3 567.6 537.2 570.7 535.3C573.7 533.4 578.7 532 582 531.1C585.3 530.2 587.6 530.2 590.4 530C593.3 529.7 596.1 529.7 598.9 529.7Z" fill="#FFCDB4"/>
<path d="M774 652.1C770.8 654.2 768 657.1 765.5 660.7C763 664.2 760.7 669.9 759.1 673.5C757.5 677 756.8 677 755.9 682C755 687 754.7 695.1 753.8 703.3C752.9 711.5 751.3 722.1 750.6 731C749.9 739.9 749.5 748.8 749.5 756.6C749.5 764.4 750 770.8 750.6 777.9C751.1 785 751.8 792.1 752.7 799.3C753.6 806.4 754.7 814.2 755.9 820.6C757.1 827 758.6 832.7 760.2 837.6C761.8 842.6 763.7 846.9 765.5 850.4C767.3 854 769.2 857.2 770.8 859C772.4 860.7 773.5 860.8 775.1 860.7C776.7 860.5 778.6 860 780.4 857.9C782.2 855.8 784 852.4 785.8 848.3C787.5 844.2 789.5 838.7 791.1 833.4C792.7 828 793.9 822.7 795.4 816.3C796.8 809.9 798.2 802.8 799.6 795C801 787.2 802.6 777.9 803.9 769.4C805.1 760.9 806.2 752.3 807.1 743.8C808 735.3 808.5 726.8 809.2 718.2C809.9 709.7 810.7 698.7 811.3 692.6C811.9 686.6 812.8 685.5 812.8 682C812.8 678.4 812.1 674.9 811.3 671.3C810.6 667.8 809.6 663.7 808.1 660.7C806.7 657.6 804.6 655 802.8 653.2C801 651.4 800.5 650.8 797.5 650C794.5 649.2 788.6 647.9 784.7 648.3C780.8 648.6 777.2 650.1 774 652.1Z" fill="#FFCDB4"/>
<path d="M914.8 924.9C913.8 925.2 912 926.2 910.8 927.7C909.5 929.2 908.1 930.8 907.2 933.8C906.3 936.8 905.9 942.2 905.2 945.9C904.5 949.6 903.8 952.6 903.2 956C902.6 959.4 901.7 961.9 901.5 966.1C901.2 970.3 901.7 976.2 901.9 981.2C902 986.3 902.5 992.2 902.5 996.4C902.4 1000.6 901.9 1003.1 901.5 1006.5C901.1 1009.8 900.4 1013.2 900.2 1016.5C899.9 1019.9 899.9 1023.6 900.2 1026.6C900.4 1029.7 900.9 1032.5 901.7 1034.7C902.4 1036.9 903.5 1038.5 904.7 1039.8C905.9 1041 907.2 1042 908.7 1042.3C910.2 1042.6 912.3 1042.4 913.8 1041.8C915.3 1041.2 916.6 1039.6 917.8 1038.8C919 1037.9 919.8 1036.7 920.8 1036.7C921.9 1036.8 922.5 1038.6 923.9 1039.3C925.2 1039.9 927.1 1040.4 928.9 1040.8C930.8 1041.1 933.5 1041 935 1041.3C936.4 1041.5 938.2 1042.9 937.5 1042.3C936.8 1041.7 932.9 1038.7 930.9 1037.7C929 1036.8 927.2 1037.2 925.9 1036.7C924.6 1036.3 923.4 1036.1 923.4 1035.2C923.4 1034.4 925.3 1033.3 925.9 1031.7C926.5 1030.1 926.9 1027.7 926.9 1025.6C926.9 1023.6 926.4 1021.3 925.9 1019.6C925.4 1017.9 924.5 1017.2 923.9 1015.5C923.3 1013.9 922.8 1011.8 922.4 1009.5C921.9 1007.1 921.5 1004.1 921.3 1001.4C921.2 998.7 921.2 996.2 921.3 993.3C921.5 990.5 922 987.1 922.4 984.2C922.7 981.4 923.3 979.2 923.4 976.2C923.5 973.1 922.9 969.4 922.9 966.1C922.9 962.7 923.1 958.5 923.4 956C923.6 953.5 924.3 953.1 924.4 950.9C924.5 948.8 924.2 945.7 923.9 942.9C923.5 940 923 936.2 922.4 933.8C921.7 931.3 920.8 929.6 919.8 928.2C918.9 926.9 917.6 926.3 916.8 925.7C916 925.1 915.8 924.6 914.8 924.9Z" fill="#FFCDB4"/>
<path d="M981.4 961C978.7 955.3 968.6 960.9 965.3 961C961.9 961.2 962.4 961.2 961.2 962C960 962.9 959 964.4 958.2 966.1C957.4 967.8 957.2 971 956.2 972.1C955.2 973.3 953.2 971.5 952.1 973.1C951 974.8 949.6 979.2 949.6 982.2C949.6 985.3 951.1 989.1 952.1 991.3C953.1 993.5 950.8 994.7 955.7 995.4C960.5 996 977.1 1001.1 981.4 995.4C985.7 989.6 984.1 966.8 981.4 961Z" fill="#FFCDB4"/>
<path d="M514 1061.9C510 1058.7 512.9 1046.6 514 1042.4C515 1038.3 517.4 1038.7 520.4 1037.2C523.3 1035.6 528.8 1033.4 531.6 1033.2C534.4 1032.9 535.9 1034.2 537.2 1035.6C538.4 1036.9 539.1 1039.4 539.2 1041.2C539.4 1042.9 538.2 1042.5 538 1046C537.7 1049.4 542 1059.3 538 1061.9C534 1064.6 518 1065.2 514 1061.9Z" fill="#FFCDB4"/>
<path d="M277.8 1061.9C276.2 1059.3 277.6 1050.2 277.8 1046C278.1 1041.7 278.3 1039 279.4 1036.4C280.6 1033.7 283 1031.4 284.7 1030C286.4 1028.5 287.6 1027.6 289.5 1027.6C291.4 1027.6 294.4 1028.5 295.9 1030C297.5 1031.4 298.3 1034.4 298.8 1036.4C299.3 1038.4 299.9 1040.8 299.1 1042C298.4 1043.2 295.9 1043 294.3 1043.6C292.7 1044.1 290.6 1042.4 289.5 1045.5C288.4 1048.5 289.9 1059.2 287.9 1061.9C286 1064.7 279.5 1064.6 277.8 1061.9Z" fill="#FFCDB4"/>
<path d="M344.2 640.2C345.8 636.1 347 630.2 348.4 625.3C349.9 620.3 351.1 615.3 352.7 610.3C354.3 605.4 356.3 599.7 358 595.4C359.8 591.2 361.6 587.8 363.4 584.8C365.1 581.7 366.6 579.4 368.7 577.3C370.8 575.2 373.5 573.6 376.2 572.4C378.8 571.1 381.8 570.5 384.7 569.8C387.5 569.1 390.4 569.2 393.2 568.1C396.1 567.1 398.9 565.5 401.7 563.4C404.6 561.4 407.1 559 410.3 556C413.5 552.9 417.4 548.7 420.9 545.3C424.5 541.9 428 538.4 431.6 535.7C435.2 533 439.1 530.6 442.3 529.3C445.5 528 447.9 527.8 450.8 527.8C453.6 527.8 456.7 528.2 459.3 529.3C462 530.5 464.5 532.2 466.8 534.6C469.1 537.1 471.4 540.9 473.2 544.2C475 547.6 476.2 550.6 477.4 554.9C478.7 559.2 479.6 564.5 480.6 569.8C481.7 575.2 482.9 580.5 483.8 586.9C484.7 593.3 485.3 600.4 486 608.2C486.7 616 487.7 626.8 488.1 633.8C488.5 640.8 487.9 643 488.1 650C488.3 657 488.8 666.7 489.2 675.6C489.5 684.5 490.2 694.1 490.2 703.3C490.2 712.5 490.1 722.1 489.2 731C488.3 739.9 486.5 748.4 484.9 756.6C483.3 764.8 481.7 773 479.6 780.1C477.4 787.2 474.8 793.6 472.1 799.3C469.4 804.9 466.4 809.6 463.6 814.2C460.7 818.8 458.1 822.9 455.1 827C452 831.1 448.1 833.9 445.5 838.7C442.8 843.5 441.2 851.5 439.1 855.8C436.9 860 435 861.4 432.7 864.3C430.4 867.1 427.5 870.7 425.2 872.8C422.9 874.9 418.8 877.1 418.8 877.1C418.8 877.1 413.1 874.2 410.3 872.8C407.4 871.4 404.9 869.3 401.7 868.6C398.6 867.8 395 868.7 391.1 868.6C387.2 868.4 382.6 868.9 378.3 867.5C374 866.1 369.4 863.6 365.5 860C361.6 856.5 358 852 354.8 846.2C351.6 840.3 348.8 833.4 346.3 824.8C343.8 816.3 341.7 806.4 339.9 795C338.1 783.6 336.7 770.1 335.7 756.6C334.6 743.1 333.6 728.2 333.5 714C333.4 699.8 334.3 682 335.2 671.3C336.1 660.7 337.4 655.2 338.8 650C340.3 644.8 342.6 644.3 344.2 640.2Z" fill="#FFAA86"/>
<path d="M601.7 543.8C605.5 543.8 609.5 544.1 613 544.9C616.6 545.8 619.9 547.1 622.9 548.7C626 550.4 628.7 552.6 631.4 555.1C634.1 557.6 636.8 560.3 639.2 563.6C641.5 566.9 643.5 570.4 645.5 574.9C647.5 579.4 649.5 585.5 651.2 590.4C652.8 595.4 654.3 600.2 655.4 604.6C656.6 608.9 658 616.6 658 616.6C658 616.6 656.2 626.1 655.4 631.4C654.7 636.7 654.3 642.5 653.3 648.4C652.4 654.3 651.1 660.8 649.8 666.7C648.5 672.6 647.2 678.5 645.5 683.7C643.9 688.9 642 693.6 639.9 697.8C637.8 702.1 635.2 705.8 632.8 709.1C630.5 712.4 628.4 715.5 625.8 717.6C623.2 719.7 619.9 721.5 617.3 721.8C614.7 722.2 612.8 721.4 610.2 719.7C607.6 718.1 604.6 715.1 601.7 712C598.9 708.8 595.9 704.7 593.3 700.6C590.7 696.6 588.1 691.2 586.2 687.9C584.3 684.6 583.6 683.2 582 680.9C580.3 678.5 578.4 677.1 576.3 673.8C574.2 670.5 571.4 665.6 569.2 661.1C567.1 656.6 565.2 652.1 563.6 647C561.9 641.8 560.4 635.1 559.3 630C558.3 624.9 557.2 616.6 557.2 616.6C557.2 616.6 558.5 604.7 559.3 598.9C560.2 593.1 561 587.4 562.2 582C563.4 576.5 564.8 570.7 566.4 566.4C568.1 562.2 569.7 559.3 572.1 556.5C574.4 553.7 577.5 551.3 580.5 549.5C583.6 547.6 586.9 546.2 590.4 545.2C594 544.3 598 543.9 601.7 543.8Z" fill="#FFAA86"/>
<path d="M907.2 1023.1C907.5 1022 908.8 1021.8 909.7 1022.1C910.7 1022.4 911.6 1023.2 912.8 1024.6C913.9 1026.1 916.3 1028.8 916.8 1030.7C917.3 1032.5 916.2 1034.7 915.8 1035.7C915.4 1036.7 915.1 1037.1 914.3 1036.7C913.4 1036.4 911.8 1035.1 910.8 1033.7C909.7 1032.4 908.8 1030.4 908.2 1028.7C907.6 1026.9 907 1024.2 907.2 1023.1Z" fill="#FFAA86"/>
<path d="M395.4 645.5C399.6 643.5 401 641.4 403.9 638.1C406.7 634.7 409.9 629.5 412.4 625.3C414.9 621 416.3 617.1 418.8 612.5C421.3 607.9 424.5 602.2 427.3 597.5C430.2 592.9 433 588.3 435.9 584.8C438.7 581.2 441.9 578.1 444.4 576.2C446.9 574.4 448.7 573.7 450.8 573.7C452.9 573.7 455.1 574.4 457.2 576.2C459.3 578.1 461.6 581.2 463.6 584.8C465.5 588.3 467.3 592.6 468.9 597.5C470.5 602.5 472.1 608.6 473.2 614.6C474.2 620.6 474.8 627.9 475.3 633.8C475.8 639.7 476 643.7 476.4 650C476.7 656.3 477.3 664.2 477.4 671.3C477.6 678.4 477.8 684.8 477.4 692.6C477.1 700.5 476.4 710.4 475.3 718.2C474.2 726 472.6 733.2 471 739.6C469.4 745.9 467.7 751.6 465.7 756.6C463.8 761.6 461.8 765.1 459.3 769.4C456.8 773.7 453.6 778.6 450.8 782.2C447.9 785.7 444.7 787.9 442.3 790.7C439.8 793.6 438 796.2 435.9 799.3C433.7 802.3 431.6 805.7 429.5 808.8C427.3 812 423.1 818 423.1 818C423.1 818 420.6 818.9 418.8 818.4C417 818 414.9 816.6 412.4 815.2C409.9 813.9 406.7 811.5 403.9 810.3C401 809.2 398.6 808.6 395.4 808.2C392.2 807.8 387.9 808.4 384.7 807.8C381.5 807.2 379 806.4 376.2 804.6C373.3 802.8 370.5 800.5 367.6 797.1C364.8 793.7 361.6 790.4 359.1 784.3C356.6 778.3 354.3 769 352.7 760.9C351.1 752.7 349.9 744.9 349.5 735.3C349.2 725.7 350 712.5 350.6 703.3C351.1 694.1 350.9 686.6 352.7 679.9C354.5 673.1 357 667.8 361.2 662.8C365.5 657.8 372.6 652.9 378.3 650C384 647.1 391.1 647.5 395.4 645.5Z" fill="#FF7A44"/>
<path d="M603.9 567.8C607.2 567.8 610.1 568.5 613 569.9C616 571.4 618.9 573.8 621.5 576.3C624.1 578.8 626.5 581.7 628.6 584.8C630.7 587.8 632.5 591.1 634.2 594.7C636 598.2 637.7 602.3 639.2 606C640.6 609.6 643 616.6 643 616.6C643 616.6 641.5 625.4 640.6 630C639.7 634.6 638.8 639.4 637.8 644.1C636.7 648.8 635.5 654 634.2 658.3C632.9 662.5 631.6 666 630 669.6C628.4 673.1 626.2 676.9 624.3 679.5C622.5 682 620.3 684.1 618.7 685.1C617 686.1 616.1 686 614.5 685.5C612.8 685.1 611.4 684 608.8 682.3C606.2 680.6 602.2 678 598.9 675.2C595.6 672.4 592.1 668.9 589 665.3C586 661.8 583.1 658.3 580.5 654C578 649.8 575.5 644.4 573.5 639.9C571.5 635.4 569.9 631.1 568.5 627.2C567.2 623.3 565.3 616.6 565.3 616.6C565.3 616.6 567.6 606.6 569.2 601.7C570.8 596.9 572.5 591.8 574.9 587.6C577.2 583.4 580.3 579.2 583.4 576.3C586.4 573.4 589.8 571.4 593.3 569.9C596.7 568.5 600.6 567.8 603.9 567.8Z" fill="#FF7A44"/>
<path d="M433.7 640.2C435.7 636.8 438.2 633.1 440.1 629.5C442.1 626 443.7 621.2 445.5 618.9C447.2 616.6 449.2 616 450.8 615.7C452.4 615.3 453.8 614.8 455.1 616.7C456.3 618.7 457.2 621.9 458.3 627.4C459.3 632.9 460.4 643.4 461.4 650C462.5 656.6 463.9 662.1 464.6 667.1C465.4 672 466.1 675.6 466.1 679.9C466.1 684.1 465.4 688 464.6 692.6C463.9 697.3 462.7 702.6 461.4 707.6C460.2 712.5 458.8 717.9 457.2 722.5C455.6 727.1 454 731.6 451.9 735.3C449.7 739 447.1 742 444.4 744.9C441.7 747.7 438.7 749.7 435.9 752.3C433 755 429.5 758.4 427.3 760.9C425.2 763.4 424.5 765.9 423.1 767.3C421.6 768.6 418.8 769 418.8 769C418.8 769 413.5 766.1 411.3 764.1C409.2 762 408 759.5 406 756.6C404.1 753.8 401.9 750.2 399.6 747C397.3 743.8 394.4 739.9 392.2 737.4C390 734.9 386.4 732.1 386.4 732.1C386.4 732.1 390.3 727.6 392.2 724.6C394 721.6 395.7 718.6 397.5 714C399.3 709.3 401.5 702.2 402.8 696.9C404.2 691.6 403.8 686.2 405.6 682C407.4 677.7 410.9 674.9 413.5 671.3C416 667.8 418.5 664.2 420.9 660.7C423.4 657.1 426.3 653.4 428.4 650C430.5 646.6 431.8 643.6 433.7 640.2Z" fill="#FF501C"/>
<path d="M604.6 590.9C607.2 590.7 609.3 591.4 611.6 592.6C614 593.7 616.6 595.5 618.7 597.5C620.8 599.5 622.7 602.2 624.3 604.6C626 606.9 627.4 609.6 628.6 611.6C629.8 613.6 631.4 616.6 631.4 616.6C631.4 616.6 630.2 623.5 629.3 627.2C628.4 630.8 627.1 635.2 625.8 638.5C624.5 641.8 623.2 644.5 621.5 647C619.9 649.4 617.8 652 615.9 653.3C614 654.7 612.1 655 610.2 655C608.3 655 606.9 654.9 604.6 653.3C602.2 651.7 598.9 648.5 596.1 645.5C593.3 642.6 590.2 639.2 587.6 635.7C585 632.1 582.4 627.5 580.5 624.3C578.7 621.2 576.3 616.6 576.3 616.6C576.3 616.6 578.7 611.5 580.5 608.8C582.4 606.1 585 602.9 587.6 600.3C590.2 597.7 593.3 594.8 596.1 593.3C598.9 591.7 602 591 604.6 590.9Z" fill="#FF501C"/>
<path d="M593 616.6C593 616.6 597 613.8 598.9 613C600.8 612.3 602.7 611.9 604.6 611.9C606.4 611.9 608.3 612.3 610.2 613C612.1 613.8 616.2 616.6 616.2 616.6C616.2 616.6 613.4 620.3 611.6 621.5C609.8 622.8 607.3 623.9 605.3 624.1C603.3 624.2 601.7 623.5 599.6 622.2C597.6 621 593 616.6 593 616.6Z" fill="#E13200"/>
<path d="M285.5 465.4C283.1 467.5 278.3 474.6 275.9 480.3C273.6 486 272.9 492.4 271.7 499.5C270.4 506.6 269.6 514.7 268.5 522.9C267.4 531.1 266.2 538.9 265.3 548.5C264.4 558.1 263.9 569.8 263.2 580.5C262.4 591.2 261.7 600.9 261 612.5C260.3 624.1 259.6 636.6 258.9 650C258.2 663.4 257.2 678.4 256.8 692.6C256.3 706.9 256.2 721.1 256.3 735.3C256.5 749.5 257 763.7 257.8 777.9C258.6 792.1 259.6 807.1 261 820.6C262.4 834.1 264.2 848.6 266.4 859C268.5 869.3 271.5 876.4 273.8 882.4C276.1 888.5 278.3 892 280.2 895.2C282.2 898.4 283.4 900.6 285.5 901.6C287.7 902.6 290.7 902.1 293 901.2C295.3 900.3 297.3 898.7 299.4 896.3C301.5 893.9 304 890.8 305.8 886.7C307.6 882.6 309 879.2 310.1 871.7C311.1 864.3 311.9 854 312.2 841.9C312.5 829.8 312.1 813.5 311.8 799.3C311.4 785 310.7 770.8 310.1 756.6C309.4 742.4 308.6 728.2 307.9 714C307.2 699.8 306.3 682 305.8 671.3C305.3 660.7 305 663.4 304.7 650C304.4 636.6 304.3 608.1 304.1 591.2C303.8 574.2 303.7 560.6 303.2 548.5C302.8 536.4 302.4 527.5 301.5 518.7C300.7 509.8 299.6 502.7 298.3 495.2C297.1 487.7 295.3 478.5 294.1 473.9C292.8 469.3 292.3 468.9 290.9 467.5C289.5 466.1 288 463.2 285.5 465.4Z" fill="#B4CDFF"/>
<path d="M527.6 583.1C525.8 583.2 523 583.6 521.2 584.8C519.4 586 518.1 588.3 517 590.4C515.8 592.6 515 594.9 514.1 597.5C513.3 600.1 512.8 602.9 512 606C511.3 609 509.6 612.8 509.6 615.9C509.6 618.9 511.1 621.8 512 624.3C512.9 626.9 513.5 629.2 514.8 631.4C516.1 633.6 517.8 635.9 519.8 637.8C521.8 639.7 524.7 641.2 526.8 642.7C529 644.2 531 645.7 532.5 647C534 648.3 534.8 649.7 536 650.5C537.3 651.3 539.8 651.9 539.8 651.9C539.8 651.9 540.3 645.4 540.7 641.3C541.1 637.2 541.8 631.4 542.1 627.2C542.4 622.9 542.6 619.6 542.4 615.9C542.2 612.1 541.4 607.9 541 604.6C540.5 601.3 540.4 598.9 539.6 596.1C538.7 593.3 537.3 589.6 536 587.6C534.7 585.6 533.2 584.8 531.8 584.1C530.4 583.3 529.3 583 527.6 583.1Z" fill="#B4CDFF"/>
<path d="M723.3 237.2C691 239.7 723 246.4 723.3 252.1C723.6 257.8 724.2 263.9 725 271.3C725.8 278.8 726.9 288 728.2 296.9C729.4 305.8 730.7 314.3 732.5 324.6C734.2 334.9 737.2 350.6 738.8 358.7C740.4 366.9 741 367.6 742 373.7C743.1 379.7 743.8 387.9 745.2 395C746.7 402.1 748.6 410.3 750.6 416.3C752.5 422.4 754.5 426.8 757 431.2C759.5 435.7 762.7 439.9 765.5 443C768.3 446 771.2 448.1 774 449.4C776.9 450.6 779.4 451 782.6 450.4C785.8 449.8 789.3 447.7 793.2 445.7C797.1 443.8 801.7 441.1 806 438.7C810.3 436.3 814.5 433.8 818.8 431.2C823.1 428.6 827.7 425.8 831.6 423.1C835.5 420.5 838.7 418.5 842.3 415.2C845.8 412 849.7 407.6 852.9 403.5C856.1 399.4 859 395 861.4 390.7C863.9 386.5 865.9 382 867.8 377.9C869.8 373.8 870.7 369.8 873.2 366.2C875.7 362.7 879.4 361.1 882.8 356.6C886.1 352.2 890.2 345.6 893.4 339.6C896.6 333.5 899.5 327.1 902 320.4C904.4 313.6 906.6 306.1 908.4 299C910.1 291.9 911.2 285.5 912.6 277.7C914 269.9 916.2 258.9 916.9 252.1C917.6 245.4 949.2 239.7 916.9 237.2C884.6 234.7 755.6 234.7 723.3 237.2Z" fill="#B4CDFF"/>
<path d="M755.9 237.2C733.3 239.7 755.4 245.7 755.9 252.1C756.4 258.5 757.9 267.8 759.1 275.6C760.3 283.4 761.6 291.6 763.4 299C765.1 306.5 767.3 313.6 769.8 320.4C772.3 327.1 775.1 334.2 778.3 339.6C781.5 344.9 785 348.6 789 352.3C792.9 356.1 797.5 359.6 801.7 361.9C806 364.3 810.3 365.7 814.5 366.2C818.8 366.7 823.1 366.2 827.3 365.1C831.6 364.1 835.9 362.5 840.1 359.8C844.4 357.1 849 353.2 852.9 349.1C856.8 345.1 860 341.2 863.6 335.3C867.1 329.4 871 321.1 874.2 314C877.4 306.9 880.5 299.8 882.8 292.6C885.1 285.5 886.7 278.1 888.1 271.3C889.5 264.6 890.8 257.8 891.3 252.1C891.8 246.4 913.9 239.7 891.3 237.2C868.7 234.7 778.5 234.7 755.9 237.2Z" fill="#86A8FF"/>
<path d="M794.3 237.2C782.6 239.7 793.4 247.2 794.3 252.1C795.2 257.1 797.7 262.1 799.6 267.1C801.6 272 803.5 277.2 806 282C808.5 286.8 811.7 292.1 814.5 295.8C817.4 299.6 820.4 302.5 823.1 304.4C825.7 306.3 828 307.1 830.5 307.1C833 307.1 835.5 306.3 838 304.4C840.5 302.5 843 299.6 845.5 295.8C847.9 292.1 850.6 286.8 852.9 282C855.2 277.2 857.4 272 859.3 267.1C861.3 262.1 863.8 257.1 864.6 252.1C865.5 247.2 876.4 239.7 864.6 237.2C852.9 234.7 806 234.7 794.3 237.2Z" fill="#4476FF"/>
<path d="M685.1 722.6C686.8 722.6 688.2 724.3 689.3 726.1C690.5 727.9 692.1 730.6 692.2 733.1C692.3 735.7 691 739 690.1 741.6C689.1 744.2 687.9 746.9 686.5 748.7C685.1 750.5 681.6 752.2 681.6 752.2C681.6 752.2 678.3 746.2 677.3 743C676.3 739.9 675.1 736 675.5 733.1C675.9 730.3 677.9 727.9 679.5 726.1C681.1 724.3 683.5 722.6 685.1 722.6Z" fill="#B4CDFF"/>
<path d="M554.7 1061.9C552.2 1059.3 554.6 1050 554.7 1046C554.9 1042 555.9 1040.4 555.5 1038C555.1 1035.6 553.1 1033.7 552.4 1031.6C551.6 1029.4 550.9 1027.3 551.1 1025.2C551.2 1023 551.3 1020.5 553.2 1018.8C555 1017 558.6 1016 561.9 1014.8C565.3 1013.5 569.4 1011.8 573.1 1011.1C576.9 1010.4 581.4 1010.3 584.3 1010.8C587.3 1011.3 588.5 1012.7 590.7 1014C592.9 1015.2 596.6 1016.8 597.4 1018.4C598.3 1020 597.5 1021.6 595.8 1023.6C594.2 1025.5 590.5 1028.1 587.5 1030C584.5 1031.8 580.5 1033.6 577.9 1034.8C575.4 1036 573.7 1035.8 572.3 1037.2C571 1038.5 570.3 1038.6 569.9 1042.8C569.5 1046.9 572.5 1058.7 569.9 1061.9C567.4 1065.1 557.3 1064.6 554.7 1061.9Z" fill="#B4CDFF"/>
<path d="M619.5 1061.9C616.1 1059.3 620.3 1049.7 619.5 1046C618.7 1042.2 615.8 1042 614.7 1039.6C613.7 1037.2 613.5 1033.7 613.1 1031.6C612.7 1029.4 612.9 1028 612.3 1026.8C611.7 1025.5 609.6 1023.9 609.6 1023.9C609.6 1023.9 613.6 1019.4 616.3 1017.2C619 1014.9 622.7 1011.7 625.9 1010.5C629.1 1009.3 633.1 1009.8 635.5 1010C637.9 1010.2 638.4 1012 640.3 1011.6C642.2 1011.2 644.8 1009.6 646.7 1007.6C648.6 1005.6 649.9 1002.2 651.5 999.6C653.1 996.9 654.2 994.2 656.3 991.6C658.4 988.9 661.9 985 664.3 983.6C666.7 982.2 668.6 982.6 670.7 983.3C672.8 983.9 675.2 985.9 677.1 987.6C679 989.2 680.3 991.6 681.9 993.2C683.4 994.8 685.5 994.5 686.4 997.2C687.2 999.8 687.2 1005.8 687 1009.2C686.8 1012.5 686.5 1015.3 685.1 1017.2C683.7 1019 680.8 1019 678.7 1020.4C676.6 1021.7 675 1023.8 672.3 1025.2C669.6 1026.5 665.6 1027.2 662.7 1028.4C659.8 1029.6 657.1 1030.6 654.7 1032.4C652.3 1034.1 650.4 1036.8 648.3 1038.8C646.2 1040.8 643.2 1043.2 641.9 1044.4C640.6 1045.6 640.6 1043 640.3 1046C640 1048.9 643.8 1059.3 640.3 1061.9C636.8 1064.6 623 1064.6 619.5 1061.9Z" fill="#B4CDFF"/>
<path d="M886 959C886 959 887.6 964.4 887.5 967.1C887.5 969.8 885.5 975.2 885.5 975.2C885.5 975.2 884.2 973.1 884 971.1C883.8 969.1 884.2 965.1 884.5 963.1C884.8 961 886 959 886 959Z" fill="#B4CDFF"/>
<path d="M882 972.1C882 972.1 882.9 978 883 981.2C883.1 984.4 882.7 987.9 882.5 991.3C882.2 994.7 881.7 998 881.5 1001.4C881.2 1004.8 881 1008.8 881 1011.5C881 1014.2 880.9 1015.9 881.5 1017.6C882.1 1019.2 883.3 1020.4 884.5 1021.6C885.7 1022.8 887.5 1023.6 888.5 1024.6C889.6 1025.6 890.1 1026.5 890.6 1027.7C891 1028.8 890.6 1030.3 891.1 1031.7C891.6 1033 893 1034.5 893.6 1035.7C894.2 1036.9 894.9 1037.7 894.6 1038.8C894.3 1039.8 892.9 1041.6 891.6 1042.3C890.2 1043 887.4 1041.4 886.5 1043C885.7 1044.6 891.7 1050.4 886.5 1051.9C881.3 1053.4 860.4 1053.4 855.2 1051.9C850 1050.4 855.6 1045.5 855.2 1043C854.9 1040.5 852.7 1038.6 853 1036.7C853.4 1034.9 855.5 1033.4 857.3 1031.7C859 1030 861.3 1028.5 863.3 1026.6C865.3 1024.8 867.7 1022.8 869.4 1020.6C871 1018.4 872.4 1016 873.4 1013.5C874.4 1011 874.8 1008.5 875.4 1005.4C876 1002.4 876.4 998.7 876.9 995.4C877.4 992 877.9 988.5 878.5 985.3C879 982.1 879.9 978.4 880.5 976.2C881.1 974 882 972.1 882 972.1Z" fill="#B4CDFF"/>
<path d="M873.4 1024.6C873.4 1024.6 875.1 1029.3 876.4 1030.7C877.8 1032 879.8 1032 881.5 1032.7C883.2 1033.4 885.3 1034 886.5 1034.7C887.8 1035.4 889.4 1036.1 889 1036.7C888.7 1037.4 886.3 1038.1 884.5 1038.8C882.7 1039.4 880.1 1040.1 878.5 1040.8C876.8 1041.5 875.1 1041.1 874.4 1043C873.7 1044.8 875.6 1050.4 874.4 1051.9C873.2 1053.4 868.5 1053.4 867.3 1051.9C866.2 1050.4 867.9 1045.5 867.3 1043C866.8 1040.5 863.8 1036.7 863.8 1036.7C863.8 1036.7 866.6 1033.4 867.9 1031.7C869.1 1030 870.5 1027.8 871.4 1026.6C872.3 1025.5 873.4 1024.6 873.4 1024.6Z" fill="#86A8FF"/>
<path d="M961.2 939.8C961.2 939.8 964.2 942.9 964.2 942.9C964.2 942.9 969.3 938.3 969.3 938.3C969.3 938.3 970.8 942.8 971.3 944.9C971.8 947 972.2 948.2 972.3 950.9C972.5 953.6 973.5 959.4 972.3 961C971.1 962.7 966.4 962.5 965.3 961C964.1 959.5 965.9 953 965.3 951.9C964.6 950.9 961.2 955 961.2 955C961.2 955 957.2 949.9 957.2 949.9C957.2 949.9 958.5 945.6 959.2 943.9C959.9 942.2 961.2 939.8 961.2 939.8Z" fill="#B4CDFF"/>
<path d="M969.8 946.4C970.5 946.4 971.7 951 971.3 951.9C970.9 952.9 967.5 952.9 967.3 951.9C967 951 969.1 946.4 969.8 946.4Z" fill="#86A8FF"/>
<path d="M940 1023.1C940 1023.1 941 1025.5 942 1025.6C943.1 1025.7 944.9 1025.3 946.1 1023.6C947.3 1021.9 947.9 1018.7 949.1 1015.5C950.3 1012.3 951.8 1007.1 953.1 1004.4C954.5 1001.7 954.2 1000.2 957.2 999.4C960.2 998.5 969 990.6 971.3 999.4C973.7 1008.1 975.7 1043.1 971.3 1051.9C966.9 1060.6 949.4 1053.6 945.1 1051.9C940.7 1050.2 945.7 1044 945.1 1041.8C944.4 1039.6 942.6 1039.8 941 1038.8C939.4 1037.7 935.5 1035.7 935.5 1035.7C935.5 1035.7 937.8 1032.8 938.5 1030.7C939.3 1028.6 940 1023.1 940 1023.1Z" fill="#B4CDFF"/>
<path d="M952.6 1007.5C951.3 1010.5 950 1016.5 949.1 1019.6C948.2 1022.6 947.8 1023.8 947.1 1025.6C946.3 1027.5 944.6 1030.7 944.6 1030.7C944.6 1030.7 945 1033.9 946.1 1034.7C947.2 1035.6 949.9 1035.4 951.1 1035.7C952.3 1036.1 949.8 1036.6 953.1 1036.7C956.5 1036.9 968.3 1042.6 971.3 1036.7C974.3 1030.8 973.7 1007.3 971.3 1001.4C969 995.5 960.3 1000.4 957.2 1001.4C954.1 1002.4 954 1004.4 952.6 1007.5Z" fill="#86A8FF"/>
<path d="M954.7 1007.5C953.8 1009.5 952.9 1012.5 952.1 1015.5C951.4 1018.6 950.5 1022.9 950.1 1025.6C949.8 1028.3 949.6 1030.5 950.1 1031.7C950.6 1032.9 949.6 1032.5 953.1 1032.7C956.7 1032.9 968.3 1037.6 971.3 1032.7C974.3 1027.8 973.7 1008.3 971.3 1003.4C969 998.5 960 1002.8 957.2 1003.4C954.4 1004.1 955.5 1005.4 954.7 1007.5Z" fill="#4476FF"/>
<path d="M955.7 1011.5C955.2 1013 954.5 1017.6 954.2 1019.6C953.8 1021.6 950.8 1022.8 953.6 1023.6C956.5 1024.5 968.4 1026.6 971.3 1024.6C974.3 1022.6 973.7 1013.9 971.3 1011.5C969 1009.1 959.8 1010.5 957.2 1010.5C954.6 1010.5 956.2 1010 955.7 1011.5Z" fill="#1C50FF"/>
<path d="M956.7 1014.5C954.1 1015.7 953.2 1020.2 955.7 1021.6C958.1 1022.9 968.7 1023.8 971.3 1022.6C973.9 1021.4 973.8 1015.9 971.3 1014.5C968.9 1013.2 959.3 1013.4 956.7 1014.5Z" fill="#0030DC"/>
<path d="M960.2 975.2C958.1 976.5 956.8 980.9 958.7 982.2C960.5 983.6 969.2 984.6 971.3 983.2C973.4 981.9 973.2 975.5 971.3 974.2C969.5 972.8 962.3 973.8 960.2 975.2Z" fill="#4476FF"/>
<path d="M966.3 950.9L991.5 950.9L991.5 1062L799.7 1062L799.7 1043L945.1 1043L945.1 1036.7L953.1 1036.7L953.1 1024.6L957.2 1024.6L957.2 983.2L961.2 983.2L961.2 967.1L966.3 967.1Z" fill="#fff"/>
</g>
<g stroke="#000" stroke-linecap="round" fill="none">
<rect x="180.8" y="250" width="796.7" height="798" stroke-width="4.6" stroke-linejoin="miter"/>
<path d="M180.8 250L180.8 229.2" stroke-width="4.6"/>
<path d="M180.8 1048L180.8 1068.8" stroke-width="4.6"/>
<path d="M225.1 250L225.1 239.6" stroke-width="2.2"/>
<path d="M225.1 1048L225.1 1058.4" stroke-width="2.2"/>
<path d="M269.3 250L269.3 239.6" stroke-width="2.2"/>
<path d="M269.3 1048L269.3 1058.4" stroke-width="2.2"/>
<path d="M313.6 250L313.6 229.2" stroke-width="4.6"/>
<path d="M313.6 1048L313.6 1068.8" stroke-width="4.6"/>
<path d="M357.8 250L357.8 239.6" stroke-width="2.2"/>
<path d="M357.8 1048L357.8 1058.4" stroke-width="2.2"/>
<path d="M402.1 250L402.1 239.6" stroke-width="2.2"/>
<path d="M402.1 1048L402.1 1058.4" stroke-width="2.2"/>
<path d="M446.4 250L446.4 229.2" stroke-width="4.6"/>
<path d="M446.4 1048L446.4 1068.8" stroke-width="4.6"/>
<path d="M490.6 250L490.6 239.6" stroke-width="2.2"/>
<path d="M490.6 1048L490.6 1058.4" stroke-width="2.2"/>
<path d="M534.9 250L534.9 239.6" stroke-width="2.2"/>
<path d="M534.9 1048L534.9 1058.4" stroke-width="2.2"/>
<path d="M579.2 250L579.2 229.2" stroke-width="4.6"/>
<path d="M579.2 1048L579.2 1068.8" stroke-width="4.6"/>
<path d="M623.4 250L623.4 239.6" stroke-width="2.2"/>
<path d="M623.4 1048L623.4 1058.4" stroke-width="2.2"/>
<path d="M667.7 250L667.7 239.6" stroke-width="2.2"/>
<path d="M667.7 1048L667.7 1058.4" stroke-width="2.2"/>
<path d="M711.9 250L711.9 229.2" stroke-width="4.6"/>
<path d="M711.9 1048L711.9 1068.8" stroke-width="4.6"/>
<path d="M756.2 250L756.2 239.6" stroke-width="2.2"/>
<path d="M756.2 1048L756.2 1058.4" stroke-width="2.2"/>
<path d="M800.5 250L800.5 239.6" stroke-width="2.2"/>
<path d="M800.5 1048L800.5 1058.4" stroke-width="2.2"/>
<path d="M844.7 250L844.7 229.2" stroke-width="4.6"/>
<path d="M844.7 1048L844.7 1068.8" stroke-width="4.6"/>
<path d="M889 250L889 239.6" stroke-width="2.2"/>
<path d="M889 1048L889 1058.4" stroke-width="2.2"/>
<path d="M933.2 250L933.2 239.6" stroke-width="2.2"/>
<path d="M933.2 1048L933.2 1058.4" stroke-width="2.2"/>
<path d="M977.5 250L977.5 229.2" stroke-width="4.6"/>
<path d="M977.5 1048L977.5 1068.8" stroke-width="4.6"/>
<path d="M180.8 250L159.8 250" stroke-width="4.6"/>
<path d="M180.8 366.3L159.8 366.3" stroke-width="4.6"/>
<path d="M180.8 442.8L159.8 442.8" stroke-width="4.6"/>
<path d="M180.8 524L159.8 524" stroke-width="4.6"/>
<path d="M180.8 616.3L159.8 616.3" stroke-width="4.6"/>
<path d="M180.8 681.7L159.8 681.7" stroke-width="4.6"/>
<path d="M180.8 732.5L159.8 732.5" stroke-width="4.6"/>
<path d="M180.8 774L159.8 774" stroke-width="4.6"/>
<path d="M180.8 839.5L159.8 839.5" stroke-width="4.6"/>
<path d="M180.8 890.3L159.8 890.3" stroke-width="4.6"/>
<path d="M180.8 966.8L159.8 966.8" stroke-width="4.6"/>
<path d="M180.8 1011L159.8 1011" stroke-width="4.6"/>
<path d="M180.8 1048L159.8 1048" stroke-width="4.6"/>
<path d="M977.5 388.9L998.5 388.9" stroke-width="4.6"/>
<path d="M977.5 530.9L998.5 530.9" stroke-width="4.6"/>
<path d="M977.5 674.2L998.5 674.2" stroke-width="4.6"/>
<path d="M977.5 813L998.5 813" stroke-width="4.6"/>
<path d="M977.5 938L998.5 938" stroke-width="4.6"/>
</g>
<text transform="translate(138.8 261.3) scale(0.905 1)" font-size="32" text-anchor="end">30</text>
<text transform="translate(138.8 377.6) scale(0.905 1)" font-size="32" text-anchor="end">50</text>
<text transform="translate(138.8 454.1) scale(0.905 1)" font-size="32" text-anchor="end">70</text>
<text transform="translate(138.8 535.3) scale(0.905 1)" font-size="32" text-anchor="end">100</text>
<text transform="translate(138.8 627.6) scale(0.905 1)" font-size="32" text-anchor="end">150</text>
<text transform="translate(138.8 693) scale(0.905 1)" font-size="32" text-anchor="end">200</text>
<text transform="translate(138.8 743.8) scale(0.905 1)" font-size="32" text-anchor="end">250</text>
<text transform="translate(138.8 785.3) scale(0.905 1)" font-size="32" text-anchor="end">300</text>
<text transform="translate(138.8 850.8) scale(0.905 1)" font-size="32" text-anchor="end">400</text>
<text transform="translate(138.8 901.6) scale(0.905 1)" font-size="32" text-anchor="end">500</text>
<text transform="translate(138.8 978.1) scale(0.905 1)" font-size="32" text-anchor="end">700</text>
<text transform="translate(138.8 1022.3) scale(0.905 1)" font-size="32" text-anchor="end">850</text>
<text transform="translate(138.8 1059.3) scale(0.905 1)" font-size="32" text-anchor="end">1000</text>
<text transform="translate(1018.7 400.2) scale(0.947 1)" font-size="32" text-anchor="start">20</text>
<text transform="translate(1018.7 542.2) scale(0.947 1)" font-size="32" text-anchor="start">16</text>
<text transform="translate(1018.7 685.5) scale(0.947 1)" font-size="32" text-anchor="start">12</text>
<text transform="translate(1018.7 824.3) scale(0.947 1)" font-size="32" text-anchor="start">8</text>
<text transform="translate(1018.7 949.3) scale(0.947 1)" font-size="32" text-anchor="start">4</text>
<text transform="translate(180.8 1112.9) scale(0.917 1)" font-size="32" text-anchor="middle">90N</text>
<text transform="translate(313.6 1112.9) scale(0.917 1)" font-size="32" text-anchor="middle">60N</text>
<text transform="translate(446.4 1112.9) scale(0.917 1)" font-size="32" text-anchor="middle">30N</text>
<text transform="translate(579.2 1112.9) scale(0.917 1)" font-size="32" text-anchor="middle">0</text>
<text transform="translate(711.9 1112.9) scale(0.917 1)" font-size="32" text-anchor="middle">30S</text>
<text transform="translate(844.7 1112.9) scale(0.917 1)" font-size="32" text-anchor="middle">60S</text>
<text transform="translate(977.5 1112.9) scale(0.917 1)" font-size="32" text-anchor="middle">90S</text>
<text x="580.4" y="145.6" font-size="45.6" text-anchor="middle">f09.B-0p5xCO2.cfmip.cf41 (yrs 51-150)</text>
<text transform="translate(179.3 215) scale(0.961 1)" font-size="43.7" text-anchor="start">Stationary eddy momentum</text>
<text transform="translate(979 223) scale(0.961 1)" font-size="43.7" text-anchor="end">m<tspan font-size="28.5" dy="-20.3">2</tspan><tspan dy="20.3">/s</tspan><tspan font-size="28.5" dy="-20.3">2</tspan></text>
<text transform="translate(39.4 649.5) rotate(-90) scale(0.965 1)" font-size="47.4" text-anchor="middle">Pressure (mb)</text>
<text transform="translate(1108.4 649.5) rotate(-90) scale(0.972 1)" font-size="47.2" text-anchor="middle">Height (km)</text>
<clipPath id="cp2"><rect x="1315.5" y="250" width="796.7" height="798"/></clipPath>
<g clip-path="url(#cp2)">
<rect x="1315.5" y="250" width="796.7" height="798" fill="#D6EAFF"/>
<path d="M1326.7 237.2C1379.1 234.7 1588.8 234.7 1641.2 237.2C1693.6 239.7 1640.7 247.9 1641.2 252.1C1641.8 256.4 1643.5 257.8 1644.4 262.8C1645.3 267.8 1646 273.5 1646.6 282C1647.2 290.5 1647.6 303.3 1648 314C1648.5 324.6 1649 337.2 1649.3 345.9C1649.6 354.7 1649.8 366.2 1649.8 366.2C1649.8 366.2 1653.7 368.6 1656.2 370.5C1658.6 372.4 1661.8 376.1 1664.7 377.5C1667.5 378.9 1670 379.5 1673.2 379C1676.4 378.5 1680.3 376.3 1683.9 374.7C1687.4 373.1 1691.7 370.7 1694.5 369.4C1697.4 368.1 1700.9 366.8 1700.9 366.8C1700.9 366.8 1703.1 367.6 1704.1 369.4C1705.2 371.3 1706.5 373 1707.3 377.9C1708.1 382.9 1708.5 392.1 1709 399.3C1709.6 406.4 1710 413.5 1710.5 420.6C1711 427.7 1712 441.9 1712 441.9C1712 441.9 1715 443 1715 443C1715 443 1726.4 443.2 1732.1 443.6C1737.7 444 1743.4 444.3 1749.1 445.1C1754.8 445.9 1760.5 447.1 1766.2 448.3C1771.9 449.5 1777.5 451.6 1783.2 452.6C1788.9 453.6 1796 453.6 1800.3 454.3C1804.6 455 1806.2 455.5 1808.8 456.8C1811.5 458.1 1814 459.8 1816.3 462.2C1818.6 464.5 1820.7 467.5 1822.7 470.7C1824.6 473.9 1826.4 477.3 1828 481.3C1829.6 485.4 1831 490.4 1832.3 495.2C1833.5 500 1834.5 504.8 1835.5 510.1C1836.5 515.5 1836.7 514.1 1838.2 527.2C1839.8 540.3 1843.4 575.6 1844.7 588.9C1846 602.3 1845.7 602.8 1846.1 607.3C1846.4 611.8 1846.8 615.8 1846.8 615.8C1846.8 615.8 1845.6 624.7 1844.7 628.5C1843.7 632.2 1842.6 635.3 1841.1 638.4C1839.7 641.4 1838.2 644.3 1836.2 646.8C1834.2 649.4 1831.7 651.6 1829.1 653.9C1826.5 656.3 1823.2 658.6 1820.6 661C1818.1 663.3 1815.7 665.7 1813.6 668C1811.5 670.4 1809.3 673 1807.9 675.1C1806.5 677.2 1805.9 678.2 1805.1 680.8C1804.3 683.3 1803.9 687.1 1803 690.6C1802 694.2 1800.7 697.7 1799.5 702C1798.2 706.2 1796.6 711.8 1795.2 716.1C1793.8 720.3 1792.2 724.6 1791 727.4C1789.8 730.2 1789 730.2 1788.2 733C1787.3 735.9 1787 740.1 1786 744.3C1785.1 748.6 1782.4 758.2 1782.5 758.5C1782.6 758.7 1786.5 744.8 1786.4 745.9C1786.4 747.1 1783.6 758.7 1782.2 765.1C1780.7 771.5 1779 777.9 1777.9 784.3C1776.8 790.7 1776.7 797.5 1775.8 803.5C1774.9 809.6 1773.8 815.2 1772.6 820.6C1771.3 825.9 1770.1 831.2 1768.3 835.5C1766.5 839.8 1764 843 1761.9 846.2C1759.8 849.4 1757.5 851.8 1755.5 854.7C1753.6 857.5 1751.4 860.7 1750.2 863.2C1748.9 865.7 1748.6 866.1 1748 869.6C1747.5 873.2 1747.4 879.2 1747 884.5C1746.5 889.9 1745.6 896.6 1745.3 901.6C1744.9 906.6 1744.6 909.4 1744.9 914.4C1745.1 919.4 1745.8 925.8 1746.6 931.4C1747.3 937.1 1748.5 945.4 1749.1 948.5C1749.8 951.6 1749.9 947.1 1750.4 950C1750.9 952.9 1752 961.2 1752.1 966C1752.3 970.8 1752 975.6 1751.3 978.8C1750.7 982 1749.6 983.2 1748.1 985.2C1746.7 987.2 1744.5 989.2 1742.5 990.8C1740.5 992.3 1738.4 994.1 1736.1 994.5C1733.9 994.9 1731.5 993.5 1728.9 993.2C1726.4 992.8 1723.2 992.2 1720.9 992.4C1718.7 992.5 1717.5 992.9 1715.3 994C1713.2 995 1710.7 997 1708.1 998.8C1705.6 1000.5 1702.3 1002.5 1700.1 1004.4C1698 1006.2 1697.5 1008.4 1695.3 1010C1693.2 1011.6 1689.4 1012.8 1687.4 1014C1685.3 1015.2 1683.7 1015.3 1682.9 1017.2C1682.1 1019 1682.2 1022.5 1682.6 1025.2C1682.9 1027.8 1684.4 1030.8 1685 1033.2C1685.5 1035.6 1685.9 1037.4 1686.1 1039.6C1686.2 1041.7 1685.8 1042.2 1685.8 1046C1685.7 1049.7 1697.2 1059.3 1685.8 1061.9C1674.3 1064.6 1628.4 1064.6 1617 1061.9C1605.5 1059.3 1617 1049.7 1617 1046C1617 1042.2 1616.6 1041.7 1617 1039.6C1617.4 1037.4 1618.1 1034.8 1619.4 1033.2C1620.7 1031.6 1625 1030 1625 1030C1625 1030 1624.7 1025 1625.8 1023.6C1626.8 1022.2 1629.9 1021.5 1631.4 1021.6C1632.8 1021.8 1633 1023.5 1634.6 1024.4C1636.2 1025.2 1638 1026.5 1641 1026.8C1643.9 1027 1648.7 1026.8 1652.2 1026C1655.6 1025.2 1659.1 1023.4 1661.8 1022C1664.4 1020.5 1666.4 1019 1668.2 1017.2C1669.9 1015.3 1671.6 1014 1672.2 1010.8C1672.7 1007.6 1672 1001.4 1671.4 998C1670.7 994.5 1669.8 994.5 1668.2 990C1666.6 985.4 1663.6 977.5 1661.8 970.8C1659.9 964.1 1658.1 956.6 1657 950C1655.9 943.4 1655.4 934.5 1655.1 931.4C1654.8 928.4 1655.4 934.3 1655.1 931.4C1654.7 928.6 1653.8 919.2 1653 914.4C1652.1 909.6 1651.2 905.2 1649.8 902.7C1648.3 900.2 1646.2 899.5 1644.4 899.5C1642.6 899.5 1641 900.9 1639.1 902.7C1637.1 904.4 1634.8 906.4 1632.7 910.1C1630.6 913.9 1628.3 919.4 1626.3 925.1C1624.3 930.7 1622.6 937.5 1621 944.2C1619.4 951 1617.9 958.5 1616.7 965.6C1615.5 972.7 1614.6 980.8 1613.5 986.9C1612.4 992.9 1611.7 998.1 1610.3 1001.8C1608.9 1005.5 1606.9 1007.9 1605 1009.3C1603 1010.7 1600.7 1010.2 1598.6 1010.3C1596.4 1010.5 1594.1 1011.1 1592.2 1010.3C1590.2 1009.6 1586.9 1006.1 1586.9 1006.1C1586.9 1006.1 1584.8 1008.6 1584.1 1012.5C1583.4 1016.4 1583.6 1025.6 1582.6 1029.5C1581.6 1033.4 1580.3 1034 1578.3 1035.9C1576.4 1037.9 1573.2 1039.8 1570.9 1041.3C1568.6 1042.7 1566.6 1043 1564.5 1044.5C1562.3 1045.9 1559.1 1046.1 1558.1 1050C1557 1053.9 1590.9 1064.9 1558.1 1067.9C1525.2 1070.9 1393.7 1070.9 1360.8 1067.9C1328 1064.9 1360.8 1053.7 1360.8 1050C1360.9 1046.3 1361.3 1048.2 1361.3 1046C1361.4 1043.7 1361.6 1039.6 1361.3 1036.4C1361.1 1033.2 1360.6 1029.8 1360.1 1026.8C1359.5 1023.7 1358.1 1018 1358.1 1018C1358.1 1018 1360.8 1018.2 1362.9 1018.8C1365.1 1019.3 1369.1 1020.5 1370.9 1021.2C1372.8 1021.8 1372.9 1021.9 1374.1 1022.8C1375.3 1023.6 1378.1 1026.4 1378.1 1026.4C1378.1 1026.4 1380 1022.7 1381.3 1020.4C1382.7 1018 1384.6 1014.8 1386.1 1012.4C1387.6 1009.9 1390.4 1005.7 1390.4 1005.7C1390.4 1005.7 1394.1 1010.5 1394.1 1010.5C1394.1 1010.5 1395.3 1007.3 1396.5 1004.4C1397.7 1001.5 1399.5 997.2 1401.3 993.2C1403.1 989.2 1407.4 980.4 1407.4 980.4C1407.4 980.4 1411.7 983.3 1411.7 983.3C1411.7 983.3 1414.2 978.7 1415.7 977.2C1417.2 975.6 1418.9 975.1 1420.5 974C1422.1 972.9 1423.7 972.1 1425.3 970.8C1426.9 969.5 1428.4 967.2 1430.1 966C1431.8 964.8 1434.4 963.3 1435.7 963.6C1437 963.9 1437.2 965.3 1438.1 967.6C1439 969.9 1440.2 973.7 1441.3 977.2C1442.4 980.7 1443.6 984.7 1444.5 988.4C1445.4 992.1 1446.1 995.8 1446.9 999.6C1447.7 1003.3 1448.4 1008.4 1449.3 1010.8C1450.2 1013.2 1452.5 1014 1452.5 1014C1452.5 1014 1454.5 1013.4 1454.9 1010.8C1455.3 1008.1 1455.2 1002.2 1454.9 998C1454.6 993.7 1453.4 990 1453.3 985.2C1453.2 980.4 1453.6 975.1 1454.1 969.2C1454.6 963.3 1456 955.2 1456.5 950C1456.9 944.8 1456.6 945.2 1456.8 937.8C1456.9 930.5 1457.4 916.5 1457.4 905.9C1457.4 895.2 1457.3 884.5 1456.8 873.9C1456.3 863.2 1455.5 852.6 1454.7 841.9C1453.8 831.2 1452.8 820.6 1451.9 809.9C1451 799.3 1450.1 788.6 1449.3 777.9C1448.5 767.3 1447.8 756.6 1447.2 745.9C1446.6 735.3 1445.8 724.6 1445.5 714C1445.1 703.3 1444.9 692.6 1445.1 682C1445.3 671.3 1446.2 659.8 1446.8 650C1447.3 640.2 1447.7 632.2 1448.3 623.1C1448.9 614 1449.7 604.3 1450.4 595.4C1451.1 586.5 1451.8 577.6 1452.5 569.8C1453.2 562 1453.8 556 1454.7 548.5C1455.5 541 1456.7 532.2 1457.4 525.1C1458.1 517.9 1458.5 512.6 1458.9 505.9C1459.3 499.1 1459.5 491.6 1460 484.5C1460.5 477.4 1461.3 470.1 1462.1 463.2C1462.9 456.3 1464.7 448.3 1464.9 443C1465.1 437.6 1464 436.7 1463.2 431.2C1462.4 425.7 1461.2 417.4 1460 409.9C1458.7 402.5 1457.2 393.8 1455.7 386.5C1454.2 379.1 1451 365.8 1451 365.8C1451 365.8 1446.4 362.6 1442.9 359.8C1439.4 357 1434.8 353.1 1430.1 349.1C1425.5 345.2 1420.2 340.4 1415.2 336.4C1410.2 332.3 1405.3 328.2 1400.3 324.6C1395.3 321.1 1389.8 317.6 1385.4 315C1380.9 312.5 1377 310.4 1373.6 309.3C1370.3 308.1 1367.9 308.1 1365.1 308.2C1362.3 308.3 1356.6 309.7 1356.6 309.7C1356.6 309.7 1352.3 312.9 1352.3 312.9C1352.3 312.9 1348 310.8 1348 310.8C1348 310.8 1343.8 314 1343.8 314C1343.8 314 1340.2 310.8 1340.2 310.8C1340.2 310.8 1335.9 315.7 1335.9 315.7C1335.9 315.7 1333.4 307 1332.1 304.4C1330.7 301.8 1328.6 304.9 1327.8 300.1C1327 295.3 1327.5 283.6 1327.4 275.6C1327.2 267.6 1326.8 258.5 1326.7 252.1C1326.6 245.7 1274.3 239.7 1326.7 237.2Z" fill="#FFEAD9"/>
<path d="M1698.8 237.2C1691.5 239.7 1698.5 242.9 1698.8 252.1C1699.1 261.4 1699.8 278.4 1700.5 292.6C1701.2 306.9 1703.1 337.4 1703.1 337.4C1703.1 337.4 1705 320.7 1706.3 314C1707.5 307.2 1709.1 300.8 1710.5 296.9C1712 293 1713.7 292.1 1715 290.5C1716.3 288.9 1716.8 288.4 1718.2 287.3C1719.6 286.2 1721.2 285.2 1723.5 284.1C1725.8 283 1729.9 282.7 1732.1 280.9C1734.2 279.1 1734.9 276.5 1736.3 273.5C1737.7 270.4 1739.5 266.3 1740.6 262.8C1741.7 259.2 1742.4 256.4 1742.7 252.1C1743.1 247.9 1750 239.7 1742.7 237.2C1735.4 234.7 1706.1 234.7 1698.8 237.2Z" fill="#FFEAD9"/>
<path d="M1760.8 237.2C1757.2 239.7 1760.5 248.2 1760.8 252.1C1761.2 256 1762.1 257.5 1763 260.7C1763.9 263.9 1765 268.8 1766.2 271.3C1767.3 273.8 1768.8 275.2 1770 275.6C1771.3 276 1772.3 274.8 1773.6 273.9C1775 273 1776.8 272.1 1777.9 270.3C1779 268.4 1779.2 265.8 1780 262.8C1780.8 259.8 1782.3 256.4 1782.8 252.1C1783.3 247.9 1786.5 239.7 1782.8 237.2C1779.1 234.7 1764.5 234.7 1760.8 237.2Z" fill="#FFEAD9"/>
<path d="M2102.6 237.2C2102.2 242.9 2103 261.5 2103.3 271.3C2103.6 281.1 2104.6 295.8 2104.6 295.8C2104.6 295.8 2105.4 281.1 2105.6 271.3C2105.9 261.5 2106.5 242.9 2106 237.2C2105.5 231.5 2103.1 231.5 2102.6 237.2Z" fill="#FFEAD9"/>
<path d="M1302.2 463.2C1304.8 402.9 1314.5 456.1 1317.6 463.2C1320.6 470.3 1319.5 491.6 1320.3 505.9C1321.1 520.1 1321.8 534.3 1322.5 548.5C1323.2 562.7 1323.9 574.2 1324.6 591.2C1325.3 608.1 1326.5 636.6 1326.7 650C1326.9 663.4 1325.5 665.3 1325.7 671.3C1325.8 677.4 1326.7 682.2 1327.8 686.2C1328.9 690.3 1330.6 693.5 1332.1 695.8C1333.5 698.2 1334.9 697.4 1336.3 700.1C1337.7 702.8 1338.8 706.7 1340.6 711.8C1342.4 717 1345 724.3 1347 731C1348.9 737.8 1350.5 745.2 1352.3 752.3C1354.1 759.5 1356.2 765.1 1357.6 773.7C1359.1 782.2 1359.8 792.9 1360.8 803.5C1361.9 814.2 1363 825.9 1364 837.6C1365.1 849.4 1366.2 862.5 1367.2 873.9C1368.3 885.3 1369.5 895.2 1370.4 905.9C1371.3 916.5 1372.1 930.7 1372.6 937.8C1373 945 1372.9 946.5 1373 948.5C1373 950.5 1372.9 947.1 1372.9 950C1372.8 952.9 1373.4 962 1372.9 966C1372.3 970 1370.7 970.5 1369.3 974C1367.9 977.5 1365.9 982.8 1364.5 986.8C1363.2 990.8 1362.1 994 1361.3 998C1360.6 1002 1360.6 1007.3 1360.1 1010.8C1359.5 1014.2 1358.9 1016.4 1358.1 1018.8C1357.4 1021.2 1356.5 1023.3 1355.7 1025.2C1354.9 1027 1354.4 1028.1 1353.3 1030C1352.3 1031.8 1350.4 1034.2 1349.3 1036.4C1348.3 1038.5 1347.5 1041.2 1346.9 1042.8C1346.4 1044.4 1346.3 1042.8 1346.1 1046C1346 1049.2 1346.7 1059.3 1346.1 1061.9C1345.6 1064.6 1343.5 1065.3 1342.9 1061.9C1342.4 1058.6 1342.5 1046.1 1342.9 1042C1343.3 1037.8 1344.4 1039.2 1345.3 1037.2C1346.3 1035.2 1347.9 1032.5 1348.5 1030C1349.2 1027.4 1349.3 1025.2 1349.3 1022C1349.3 1018.8 1349.5 1014.8 1348.5 1010.8C1347.6 1006.8 1345.3 1002.8 1343.7 998C1342.1 993.2 1340.3 986.8 1339 982C1337.6 977.2 1335.8 969.2 1335.8 969.2C1335.8 969.2 1332 966 1331 962.8C1329.9 959.6 1329.9 954.2 1329.4 950C1328.8 945.8 1328.6 945.2 1327.8 937.8C1327 930.5 1325.7 916.5 1324.6 905.9C1323.5 895.2 1322.3 884.5 1321.4 873.9C1320.5 863.2 1319.9 850.1 1319.3 841.9C1318.6 833.7 1320.4 827.7 1317.6 824.8C1314.7 822 1304.8 885.1 1302.2 824.8C1299.6 764.6 1299.6 523.5 1302.2 463.2Z" fill="#FFEAD9"/>
<path d="M1936.7 577.9C1933.2 578 1928.2 578.9 1924 580.1C1919.7 581.2 1914.7 582.9 1911.2 584.8C1907.6 586.6 1905.1 588.7 1902.6 591.2C1900.1 593.6 1898.4 596.1 1896.2 599.7C1894.1 603.2 1891.6 608.2 1889.8 612.5C1888.1 616.7 1886.8 620.6 1885.6 625.3C1884.3 629.9 1883.2 636.1 1882.4 640.2C1881.6 644.3 1881.6 643 1880.9 650C1880.2 657 1878.7 671.3 1878.1 682C1877.5 692.6 1877.5 703.3 1877.5 714C1877.5 724.6 1878.3 735.3 1878.1 745.9C1878 756.6 1877.2 767.3 1876.6 777.9C1876 788.6 1875.2 799.3 1874.5 809.9C1873.8 820.6 1873.1 831.2 1872.4 841.9C1871.6 852.6 1870.9 863.2 1870.2 873.9C1869.5 884.5 1868.7 895.2 1868.1 905.9C1867.5 916.5 1866.7 927.2 1866.4 937.8C1866 948.5 1865.8 960.9 1866 969.8C1866.1 978.7 1866.7 984.8 1867.5 991.2C1868.2 997.5 1869.2 1002.9 1870.7 1008.2C1872.1 1013.5 1873.8 1019.2 1876 1023.1C1878.1 1027 1880.8 1029.6 1883.4 1031.7C1886.1 1033.7 1889.1 1034.8 1892 1035.5C1894.8 1036.2 1897.3 1036.2 1900.5 1035.9C1903.7 1035.6 1907.6 1034.3 1911.2 1033.8C1914.7 1033.3 1918.6 1033.1 1921.8 1032.7C1925 1032.4 1928 1031.5 1930.4 1031.7C1932.7 1031.8 1934.4 1032.9 1935.7 1033.8C1936.9 1034.7 1937.6 1035.6 1937.8 1037C1938 1038.3 1936.9 1036.7 1936.7 1041.9C1936.6 1047.1 1933.2 1063.6 1936.7 1067.9C1940.3 1072.2 1954.5 1072.2 1958.1 1067.9C1961.6 1063.6 1958.8 1047.6 1958.1 1041.9C1957.4 1036.2 1955.2 1036.2 1953.8 1033.8C1952.4 1031.4 1950.8 1029.5 1949.5 1027.4C1948.3 1025.3 1947 1023.5 1946.3 1021C1945.7 1018.5 1945.6 1016.7 1945.7 1012.5C1945.8 1008.2 1946.5 1002.5 1947 995.4C1947.4 988.3 1947.9 979.4 1948.5 969.8C1949.1 960.2 1950 948.5 1950.6 937.8C1951.2 927.2 1951.6 916.5 1952.1 905.9C1952.6 895.2 1953.2 884.5 1953.8 873.9C1954.4 863.2 1955.2 852.6 1955.9 841.9C1956.6 831.2 1957.4 820.6 1958.1 809.9C1958.8 799.3 1959.5 788.6 1960.2 777.9C1960.9 767.3 1961.6 756.6 1962.3 745.9C1963.1 735.3 1964 722.9 1964.9 714C1965.8 705.1 1966.8 699.8 1967.7 692.6C1968.5 685.5 1969.4 678.4 1969.8 671.3C1970.2 664.2 1970.2 656.3 1970.2 650C1970.3 643.7 1970.3 639.3 1970.2 633.8C1970.2 628.3 1970.2 620.1 1969.8 616.7C1969.4 613.4 1968.7 615.7 1967.7 613.5C1966.6 611.4 1965 607.3 1963.4 603.9C1961.8 600.6 1960 596.5 1958.1 593.3C1956.1 590.1 1953.8 587.1 1951.7 584.8C1949.5 582.4 1947.8 580.6 1945.3 579.4C1942.8 578.3 1940.3 577.8 1936.7 577.9Z" fill="#FFEAD9"/>
<path d="M2141.4 365.1C2136.1 290.3 2115 363.7 2109.5 369.4C2103.9 375.1 2108.7 383.6 2108.4 399.3C2108 414.9 2107.7 441.9 2107.3 463.2C2107 484.5 2106.6 509.4 2106.3 527.2C2105.9 545 2105.5 559.2 2105.2 569.8C2104.8 580.5 2104.1 591.2 2104.1 591.2C2104.1 591.2 2100.5 574.1 2100.5 574.1C2100.5 574.1 2099.8 588.3 2099.4 595.4C2099.1 602.5 2098.5 610.3 2098.4 616.7C2098.3 623.1 2098.4 628.3 2098.8 633.8C2099.2 639.3 2100 643.7 2100.5 650C2101 656.3 2101.9 664.2 2102 671.3C2102.1 678.4 2101.8 686.4 2101.4 692.6C2100.9 698.9 2099.4 708.6 2099.4 708.6C2099.4 708.6 2098.4 703.8 2097.7 701.2C2097.1 698.5 2096.5 694.8 2095.6 692.6C2094.7 690.5 2093.4 691.2 2092.4 688.4C2091.4 685.5 2090.6 680.2 2089.8 675.6C2089.1 671 2089 663.3 2088.1 660.7C2087.3 658 2086 659.2 2084.9 659.6C2083.9 660 2083 660.1 2081.7 662.8C2080.5 665.5 2078.5 670.6 2077.5 675.6C2076.4 680.6 2076.1 686.2 2075.3 692.6C2074.6 699 2074 706.9 2073.2 714C2072.4 721.1 2071.4 728.2 2070.7 735.3C2069.9 742.4 2069.3 750.2 2068.9 756.6C2068.6 763 2068.3 768.3 2068.5 773.7C2068.7 779 2069.1 785 2070 788.6C2071 792.1 2073.3 791.8 2074.3 795C2075.2 798.2 2075.1 803.5 2075.8 807.8C2076.5 812 2077.5 816 2078.5 820.6C2079.5 825.2 2080.7 830.2 2081.7 835.5C2082.8 840.8 2084 846.2 2084.9 852.6C2085.8 859 2086.5 866.8 2087.1 873.9C2087.7 881 2088.2 888.8 2088.6 895.2C2088.9 901.6 2088.6 908.4 2089.2 912.3C2089.8 916.2 2091.2 917.4 2092.4 918.7C2093.6 919.9 2095.3 920.1 2096.7 919.7C2098 919.4 2099.6 918.8 2100.5 916.5C2101.4 914.2 2101.4 911.2 2102 905.9C2102.6 900.5 2103.4 891.6 2104.1 884.5C2104.8 877.4 2105.7 870.3 2106.3 863.2C2106.9 856.1 2107.2 849.4 2107.8 841.9C2108.3 834.4 2103.8 822.4 2109.5 818.4C2115.1 814.5 2136.1 894 2141.4 818.4C2146.8 742.9 2146.8 440 2141.4 365.1Z" fill="#FFEAD9"/>
<path d="M2062.4 787.3C2062.4 787.3 2059.5 791.2 2057.9 794.4C2056.3 797.6 2054.3 802.5 2052.8 806.5C2051.3 810.6 2050 814.6 2048.8 818.6C2047.6 822.7 2046.7 826.5 2045.8 830.8C2044.8 835 2043.8 840.7 2043.2 843.9C2042.6 847.1 2042.7 846.5 2042.2 850C2041.7 853.5 2040.9 860.1 2040.2 865.1C2039.5 870.2 2038.9 874.7 2038.2 880.3C2037.4 885.8 2036.4 893.1 2035.7 898.5C2034.9 903.8 2034.4 907.5 2033.6 912.6C2032.9 917.6 2032 923.7 2031.1 928.7C2030.3 933.8 2029.3 938.3 2028.6 942.9C2027.9 947.4 2027.2 952.1 2026.8 956C2026.4 959.9 2026.1 962.5 2026.1 966.1C2026 969.6 2026.2 973.8 2026.6 977.2C2026.9 980.5 2027.6 983.1 2028.1 986.3C2028.6 989.5 2029.2 993 2029.6 996.4C2030 999.7 2030.2 1003.1 2030.4 1006.5C2030.7 1009.8 2030.9 1013.2 2031.1 1016.5C2031.3 1019.9 2031.4 1023.8 2031.6 1026.6C2031.9 1029.5 2032.1 1031.9 2032.6 1033.7C2033.1 1035.6 2034.6 1036.6 2034.6 1037.7C2034.6 1038.9 2033.5 1040.1 2032.6 1040.8C2031.8 1041.4 2031.5 1041.5 2029.6 1041.8C2027.8 1042 2023.9 1042.1 2021.5 1042.3C2019.2 1042.5 2016.5 1039.7 2015.5 1043C2014.5 1046.3 2006 1058.8 2015.5 1062C2024.9 1065.1 2062.6 1065.1 2072 1062C2081.4 1058.8 2072.3 1046.7 2072 1043C2071.7 1039.3 2070.7 1040.8 2070 1039.8C2069.2 1038.7 2067.8 1038.1 2067.5 1036.7C2067.1 1035.4 2067.8 1034.2 2068 1031.7C2068.1 1029.2 2068.1 1024.3 2068.5 1021.6C2068.8 1018.9 2069.4 1017.6 2070 1015.5C2070.6 1013.5 2071.2 1011.5 2072 1009.5C2072.8 1007.5 2073.7 1005.6 2074.5 1003.4C2075.4 1001.2 2076.3 998.2 2077 996.4C2077.8 994.5 2079.1 992.3 2079.1 992.3C2079.1 992.3 2080.2 996.2 2080.6 998.4C2081 1000.6 2081.3 1003.3 2081.6 1005.4C2081.8 1007.6 2082.1 1011.5 2082.1 1011.5C2082.1 1011.5 2083 1009.8 2083.6 1008.5C2084.2 1007.1 2084.8 1004.9 2085.6 1003.4C2086.5 1001.9 2087.6 1000.4 2088.6 999.4C2089.7 998.4 2087.1 997.7 2091.7 997.4C2096.3 997 2112.3 1004 2116.4 997.4C2120.5 990.7 2119.1 964.1 2116.4 957.5C2113.7 950.9 2103.6 957.1 2100.3 957.5C2096.9 957.9 2097.4 959.1 2096.2 960C2095 960.9 2094 962.3 2093.2 963.1C2092.4 963.8 2091.2 964.6 2091.2 964.6C2091.2 964.6 2090.2 962.9 2089.7 961.5C2089.1 960.2 2087.6 956.5 2087.6 956.5C2087.6 956.5 2083.6 957.5 2083.6 957.5C2083.6 957.5 2082 960.4 2081.1 962C2080.2 963.6 2079 965.9 2078.1 967.1C2077.1 968.3 2075.2 969.1 2075.2 969.1C2075.2 969.1 2074 966.2 2073.5 964.1C2073 961.9 2072.6 959 2072 956C2071.4 953 2070.6 948.9 2070 945.9C2069.3 942.9 2068.5 940 2068 937.8C2067.4 935.6 2066.9 934.3 2066.4 932.8C2066 931.3 2065.5 930.8 2065.4 928.7C2065.3 926.7 2065.8 923.7 2065.9 920.7C2066.1 917.6 2066.4 915.6 2066.4 910.6C2066.4 905.5 2066.1 897.1 2065.9 890.4C2065.8 883.6 2065.6 876.9 2065.4 870.2C2065.3 863.5 2065 854.7 2064.9 850C2064.9 845.3 2065.1 846.8 2065.1 841.9C2065.1 837 2064.9 827.7 2064.7 820.6C2064.5 813.5 2064.2 804.8 2063.8 799.3C2063.4 793.7 2062.4 787.3 2062.4 787.3Z" fill="#FFEAD9"/>
<path d="M1709.7 1061.9C1705.7 1059.3 1709.2 1049.4 1709.7 1046C1710.3 1042.5 1711.3 1042.5 1712.9 1041.2C1714.5 1039.8 1717.5 1038.4 1719.3 1037.6C1721.2 1036.8 1724.1 1036.4 1724.1 1036.4C1724.1 1036.4 1727.3 1039.6 1728.9 1041.2C1730.5 1042.8 1732.9 1042.5 1733.7 1046C1734.5 1049.4 1737.7 1059.3 1733.7 1061.9C1729.7 1064.6 1713.7 1064.6 1709.7 1061.9Z" fill="#FFEAD9"/>
<path d="M1804.1 1061.9C1796.6 1059.3 1803.3 1049.3 1804.1 1046C1804.9 1042.6 1806.8 1043 1808.9 1042C1811 1040.9 1813.7 1040 1816.9 1039.9C1820.1 1039.8 1824.1 1040.7 1828.1 1041.5C1832.1 1042.2 1837.4 1043.6 1840.9 1044.4C1844.3 1045.1 1847.5 1043 1848.9 1046C1850.2 1048.9 1856.3 1059.3 1848.9 1061.9C1841.4 1064.6 1811.6 1064.6 1804.1 1061.9Z" fill="#FFEAD9"/>
<path d="M1661.7 533.1C1663.3 532.7 1664.9 533.7 1665.9 535.5C1667 537.3 1667.3 540.9 1668 543.7C1668.7 546.5 1669.7 548.4 1670.2 552.2C1670.6 555.9 1670.5 560.7 1670.9 566.3C1671.2 572 1671.9 580 1672.3 586.1C1672.7 592.2 1673.1 598.1 1673.4 603C1673.7 608 1674.1 612 1674 615.8C1673.8 619.5 1673.1 622.4 1672.6 625.7C1672 628.9 1671.5 633.2 1670.6 635.5C1669.7 637.9 1668.7 638.8 1667.3 639.8C1666 640.8 1664.2 641.2 1662.4 641.5C1660.6 641.7 1658.6 641.9 1656.7 641.2C1654.9 640.4 1652.7 638.8 1651.1 637C1649.4 635.1 1648 632.2 1646.8 629.9C1645.7 627.5 1644.9 625.2 1644 622.8C1643.1 620.5 1641.7 619.1 1641.5 615.8C1641.2 612.5 1642.2 607.5 1642.6 603C1643 598.6 1643.6 593.6 1644 588.9C1644.5 584.2 1644.7 580 1645.4 574.8C1646.1 569.6 1647.2 562.5 1648.3 557.8C1649.3 553.1 1650.5 549.8 1651.8 546.5C1653.1 543.2 1654.4 540.3 1656 538C1657.7 535.8 1660 533.5 1661.7 533.1Z" fill="#D6EAFF"/>
<path d="M1692.4 857.2C1694.5 857.2 1696.7 858.5 1698.8 860C1700.9 861.5 1704.8 866.4 1704.8 866.4C1704.8 866.4 1700.9 868 1698.8 869.6C1696.7 871.2 1694.5 873.7 1692.4 876C1690.3 878.3 1687.6 881.6 1686 883.5C1684.4 885.3 1682.8 887.1 1682.8 887.1C1682.8 887.1 1681.8 879.6 1681.7 876C1681.6 872.4 1681.5 868 1682.2 865.4C1682.9 862.7 1684.3 861.4 1686 860C1687.7 858.7 1690.3 857.2 1692.4 857.2Z" fill="#D6EAFF"/>
<path d="M1687.1 947.4C1688 947.1 1689.9 946.9 1691.3 948.5C1692.8 950.1 1694.2 954 1695.6 957C1696.9 960.1 1699.6 964.7 1699.4 966.6C1699.3 968.6 1696.3 968.6 1694.5 968.8C1692.7 968.9 1689.8 969.3 1688.6 967.7C1687.3 966.1 1687.5 962 1687.1 959.2C1686.6 956.3 1686 952.6 1686 950.6C1686 948.7 1686.2 947.8 1687.1 947.4Z" fill="#D6EAFF"/>
<path d="M1403.5 237.2C1384.7 239.7 1402.6 247.2 1403.5 252.1C1404.4 257.1 1406.5 261.7 1408.8 267.1C1411.1 272.4 1414.1 278.8 1417.3 284.1C1420.5 289.4 1424.5 294.6 1428 299C1431.6 303.5 1434.8 307.2 1438.7 310.8C1442.6 314.3 1447.2 317.7 1451.5 320.4C1455.7 323 1460 324.6 1464.3 326.8C1468.5 328.9 1473.5 331.6 1477 333.2C1480.6 334.7 1482.9 335.5 1485.6 335.9C1488.2 336.4 1490.9 336.4 1493 335.9C1495.2 335.5 1496.6 334.7 1498.4 333.2C1500.1 331.6 1502.1 330 1503.7 326.8C1505.3 323.6 1506.7 318.6 1508 314C1509.2 309.3 1510.1 305.1 1511.2 299C1512.2 293 1513.5 285.5 1514.4 277.7C1515.2 269.9 1516.1 258.9 1516.5 252.1C1516.8 245.4 1535.3 239.7 1516.5 237.2C1497.7 234.7 1422.3 234.7 1403.5 237.2Z" fill="#FFCDB4"/>
<path d="M1459.6 629.5C1460.3 622.6 1461.2 616 1462.1 608.2C1463.1 600.4 1464.2 590.8 1465.3 582.6C1466.5 574.4 1467.7 566.3 1468.9 559.2C1470.2 552.1 1471.3 545.7 1472.8 540C1474.3 534.3 1476.9 529.3 1478.1 525.1C1479.4 520.8 1479.4 518.7 1480.2 514.4C1481.1 510.1 1482.4 504.4 1483.4 499.5C1484.5 494.5 1485.4 489.5 1486.6 484.5C1487.9 479.6 1489.1 474.2 1490.9 469.6C1492.7 465 1495 460.4 1497.3 456.8C1499.6 453.3 1502.1 450.5 1504.8 448.3C1507.4 446.1 1510.6 444.7 1513.3 443.6C1516 442.5 1518.3 441.9 1520.8 441.9C1523.2 441.9 1524.1 442.9 1528.2 443.6C1532.3 444.3 1539.6 445.4 1545.3 446.2C1551 446.9 1556.6 447.6 1562.3 448.3C1568 449 1574.4 449.5 1579.4 450.4C1584.4 451.3 1588.3 452 1592.2 453.6C1596.1 455.2 1599.6 457.4 1602.8 460C1606 462.7 1608.9 465.9 1611.4 469.6C1613.9 473.3 1615.8 477.8 1617.8 482.4C1619.7 487 1621.6 492 1623.1 497.3C1624.6 502.7 1625.7 508.7 1626.7 514.4C1627.8 520.1 1628.9 524 1629.5 531.4C1630.1 538.9 1630.2 549.2 1630.6 559.2C1630.9 569.1 1631.7 596.8 1631.6 591.2C1631.6 585.5 1630.3 532.8 1630.2 525.3C1630 517.9 1630.4 538.3 1630.6 546.5C1630.8 554.8 1631.1 565.4 1631.3 574.8C1631.5 584.2 1631.7 594.8 1632 603C1632.4 611.3 1632.6 617.2 1633.4 624.2C1634.2 631.3 1635.7 639.5 1637 645.4C1638.3 651.3 1639.5 655.6 1641.2 659.6C1642.8 663.6 1644.8 666.6 1646.8 669.5C1648.8 672.3 1651 674.5 1653.2 676.5C1655.4 678.5 1659.8 681.5 1659.8 681.5C1659.8 681.5 1658.4 686.8 1657.4 690.6C1656.5 694.5 1655.1 699.4 1653.9 704.8C1652.7 710.2 1651.6 717 1650.4 723.1C1649.2 729.3 1648 735.6 1646.8 741.5C1645.7 747.4 1645.7 750.6 1643.3 758.5C1641 766.3 1635.9 780 1632.7 788.6C1629.5 797.2 1627 803.5 1624.2 809.9C1621.3 816.3 1618.5 821.6 1615.6 827C1612.8 832.3 1610 837.3 1607.1 841.9C1604.3 846.5 1601.4 850.8 1598.6 854.7C1595.7 858.6 1592 861.1 1590.1 865.4C1588.1 869.6 1587.6 875.3 1586.9 880.3C1586.1 885.3 1586 889.9 1585.8 895.2C1585.6 900.5 1586.3 907.9 1585.8 912.3C1585.3 916.6 1585.1 919.3 1582.6 921.2C1580.1 923.2 1574.1 923 1570.9 924C1567.7 925 1565.2 925.9 1563.4 927.2C1561.6 928.4 1561.3 929.8 1560.2 931.4C1559.1 933.1 1557 937.2 1557 937.2C1557 937.2 1551.5 936.7 1549.5 935.7C1547.6 934.8 1547.4 932.5 1545.3 931.4C1543.1 930.4 1539.6 930.1 1536.7 929.3C1533.9 928.5 1531.1 927.1 1528.2 926.8C1525.4 926.4 1522.5 927.2 1519.7 927.2C1516.8 927.2 1514.4 926.8 1511.2 926.8C1508 926.8 1503.3 927.6 1500.5 927.2C1497.7 926.7 1496.2 925.8 1494.1 924C1492 922.2 1489.7 919.5 1487.7 916.5C1485.8 913.5 1484.2 910.5 1482.4 905.9C1480.6 901.2 1478.6 895.9 1477 888.8C1475.4 881.7 1474.4 872.8 1472.8 863.2C1471.2 853.6 1469.2 841.9 1467.5 831.2C1465.7 820.6 1463.7 809.9 1462.1 799.3C1460.5 788.6 1459.1 777.9 1457.9 767.3C1456.6 756.6 1455.4 745.9 1454.7 735.3C1453.9 724.6 1453.3 714 1453.2 703.3C1453 692.6 1452.9 680.2 1453.6 671.3C1454.3 662.4 1456.4 657 1457.4 650C1458.4 643 1458.8 636.5 1459.6 629.5Z" fill="#FFCDB4"/>
<path d="M1736.6 511.9C1738.6 512.1 1741 513.4 1742.9 514.7C1744.8 516 1746.3 518.1 1747.9 519.7C1749.4 521.2 1752.1 523.9 1752.1 523.9C1752.1 523.9 1757.9 524.8 1761.3 525.3C1764.7 525.8 1769.1 526.3 1772.6 527C1776.1 527.7 1779.4 528.6 1782.5 529.6C1785.6 530.6 1788.5 531.6 1791 533.1C1793.4 534.6 1795.5 536.5 1797.3 538.7C1799.2 541 1800.7 543.6 1802.3 546.5C1803.8 549.5 1805.2 552.6 1806.5 556.4C1807.8 560.2 1808.9 564.7 1810.1 569.1C1811.2 573.6 1812.4 578.5 1813.6 583.3C1814.8 588 1816.1 592.9 1817.1 597.4C1818.2 601.9 1819.2 607 1819.9 610.1C1820.7 613.2 1821.8 615.8 1821.8 615.8C1821.8 615.8 1818.7 620.5 1817.1 622.8C1815.5 625.2 1813.7 627.3 1812.2 629.9C1810.6 632.5 1809.3 635.3 1807.9 638.4C1806.5 641.4 1805.1 644.7 1803.7 648.3C1802.3 651.8 1800.9 655.8 1799.5 659.6C1798 663.3 1796.6 667.1 1795.2 670.9C1793.8 674.6 1792.2 678.4 1791 682.2C1789.8 685.9 1789.2 689.7 1788.2 693.5C1787.1 697.2 1786 701.2 1784.6 704.8C1783.2 708.3 1781.4 711.8 1779.7 714.7C1777.9 717.5 1776.1 719.6 1774 721.7C1771.9 723.9 1769.3 725.9 1767 727.4C1764.6 728.9 1761.8 730.1 1759.9 730.9C1758 731.7 1757.1 731.7 1755.7 732.3C1754.2 732.9 1752.8 733.9 1751.4 734.5C1750 735 1748.6 735.5 1747.2 735.6C1745.8 735.7 1744.3 735.6 1742.9 735.2C1741.5 734.7 1740.3 733.7 1738.7 733C1737 732.4 1735.2 732.1 1733 731.3C1730.9 730.6 1728.3 729.9 1726 728.8C1723.6 727.7 1721.3 726.2 1718.9 724.6C1716.6 722.9 1714 721.3 1711.8 718.9C1709.7 716.6 1707.8 713.5 1706.2 710.4C1704.5 707.4 1703.3 703.8 1702 700.5C1700.7 697.2 1699.5 693.8 1698.4 690.6C1697.4 687.5 1696.8 684.3 1695.6 681.5C1694.4 678.6 1692.7 676.9 1691.4 673.7C1690.1 670.5 1688.8 666.6 1687.8 662.4C1686.9 658.2 1686.4 653.4 1685.7 648.3C1685 643.1 1684.1 636.7 1683.6 631.3C1683 625.9 1682.5 615.8 1682.5 615.8C1682.5 615.8 1683.4 602.3 1683.9 596C1684.3 589.6 1684.7 583.5 1685.3 577.6C1685.8 571.7 1686.3 565.8 1687.1 560.7C1687.9 555.5 1688.9 550.3 1689.9 546.5C1691 542.8 1691.9 540.4 1693.5 538C1695 535.7 1697 533.9 1699.1 532.4C1701.2 530.9 1703.6 530 1706.2 528.9C1708.8 527.8 1712 526.6 1714.7 525.7C1717.4 524.9 1722.4 523.6 1722.4 523.6C1722.4 523.6 1724.6 520 1726 518.3C1727.4 516.5 1729.2 514.4 1730.9 513.3C1732.7 512.3 1734.6 511.7 1736.6 511.9Z" fill="#FFCDB4"/>
<path d="M1916.5 656.4C1919.3 656.2 1921.6 657.8 1924 659.6C1926.3 661.4 1928.6 664.4 1930.4 667.1C1932.1 669.7 1933.4 673.1 1934.6 675.6C1935.9 678.1 1937.4 677.4 1937.8 682C1938.2 686.6 1937.5 696.2 1937.2 703.3C1936.8 710.4 1936.3 717.5 1935.7 724.6C1935.1 731.7 1934.4 738.8 1933.6 745.9C1932.7 753.1 1931.6 760.2 1930.4 767.3C1929.1 774.4 1927.7 781.8 1926.1 788.6C1924.5 795.3 1922.5 802.5 1920.8 807.8C1919 813.1 1917.2 817.3 1915.4 820.6C1913.6 823.8 1911.7 826.9 1910.1 827.4C1908.5 827.9 1907.3 826 1905.8 823.8C1904.4 821.6 1902.8 818.3 1901.6 814.2C1900.3 810.1 1899.3 804.6 1898.4 799.3C1897.4 793.9 1896.6 788.6 1895.8 782.2C1895 775.8 1894.2 768.7 1893.7 760.9C1893.1 753.1 1892.6 743.1 1892.6 735.3C1892.6 727.5 1893.3 721.1 1893.7 714C1894.1 706.9 1894.7 698 1895.2 692.6C1895.6 687.3 1895.3 685.9 1896.2 682C1897.1 678.1 1898.7 672.7 1900.5 669.2C1902.3 665.6 1904.2 662.8 1906.9 660.7C1909.6 658.5 1913.6 656.6 1916.5 656.4Z" fill="#FFCDB4"/>
<path d="M2047.3 935.3C2048.4 935.3 2049.7 935.2 2050.8 935.8C2051.9 936.4 2053 937.5 2053.8 938.8C2054.7 940.2 2055.2 942.4 2055.8 943.9C2056.5 945.4 2057.2 946.6 2057.9 947.9C2058.5 949.3 2059.1 950.6 2059.9 951.9C2060.6 953.3 2061.6 954.3 2062.4 956C2063.2 957.7 2063.9 960.2 2064.4 962C2064.9 963.9 2065.5 965.7 2065.4 967.1C2065.3 968.4 2064.4 969.3 2063.9 970.1C2063.4 970.9 2062.4 971.9 2062.4 971.9C2062.4 971.9 2061 970.1 2060.4 969.1C2059.8 968.1 2059.2 967.9 2058.9 966.1C2058.5 964.2 2058.4 958 2058.4 958C2058.4 958 2058 967.3 2057.9 971.1C2057.7 975 2057.6 977.9 2057.4 981.2C2057.1 984.6 2056.7 988.3 2056.3 991.3C2056 994.3 2055.3 996.7 2055.3 999.4C2055.3 1002.1 2055.9 1005.1 2056.3 1007.5C2056.8 1009.8 2057.2 1011.8 2057.9 1013.5C2058.5 1015.2 2059.7 1015.9 2060.4 1017.6C2061.1 1019.2 2061.6 1021.6 2061.9 1023.6C2062.2 1025.6 2062.3 1027.8 2062.1 1029.7C2061.9 1031.5 2061.6 1033.4 2060.9 1034.7C2060.2 1036.1 2059 1037.1 2057.9 1037.7C2056.7 1038.4 2055.2 1038.4 2053.8 1038.8C2052.5 1039.1 2051.1 1039.4 2049.8 1039.8C2048.4 1040.1 2047.1 1040.4 2045.8 1040.8C2044.4 1041.1 2043.1 1041.5 2041.7 1041.8C2040.4 1042 2038.9 1042.1 2037.7 1042.3C2036.5 1042.5 2035.3 1043 2034.6 1042.8C2034 1042.5 2033.1 1041.6 2033.6 1040.8C2034.1 1039.9 2037.1 1039.3 2037.7 1037.7C2038.3 1036.2 2037.5 1033.7 2037.2 1031.7C2036.8 1029.7 2036 1028.2 2035.7 1025.6C2035.3 1023.1 2035.2 1019.7 2035.2 1016.5C2035.2 1013.4 2035.5 1009.8 2035.7 1006.5C2035.8 1003.1 2036 999.7 2036.2 996.4C2036.3 993 2036.5 989.6 2036.5 986.3C2036.5 982.9 2036.2 979.5 2036.2 976.2C2036.1 972.8 2036 968.9 2036.2 966.1C2036.3 963.2 2036.8 961.5 2037.2 959C2037.6 956.5 2038.2 953.6 2038.7 950.9C2039.2 948.2 2039.7 945.1 2040.2 942.9C2040.7 940.7 2041 939 2041.7 937.8C2042.4 936.6 2043.3 936 2044.2 935.6C2045.2 935.2 2046.2 935.3 2047.3 935.3Z" fill="#FFCDB4"/>
<path d="M2116.4 961C2113.7 955.4 2103.6 960.8 2100.3 961C2096.9 961.3 2097.4 961.7 2096.2 962.5C2095 963.4 2094 964.8 2093.2 966.1C2092.4 967.3 2091.2 970.1 2091.2 970.1C2091.2 970.1 2087.6 968.1 2087.6 968.1C2087.6 968.1 2086 971.8 2085.1 974.2C2084.2 976.5 2082.2 979.9 2082.1 982.2C2082 984.6 2083.6 986.5 2084.6 988.3C2085.6 990.1 2087 991.7 2088.1 992.8C2089.3 993.9 2087 994.5 2091.7 994.8C2096.4 995.2 2112.3 1000.5 2116.4 994.8C2120.5 989.2 2119.1 966.7 2116.4 961Z" fill="#FFCDB4"/>
<path d="M2116.4 964.1C2113.7 963.5 2103.6 963.8 2100.3 964.1C2096.9 964.3 2097.1 965 2096.2 965.6C2095.3 966.2 2091.3 967.3 2094.7 967.6C2098.1 967.9 2112.8 968.2 2116.4 967.6C2120 967 2119.1 964.6 2116.4 964.1Z" fill="#FFAA86"/>
<path d="M2092.2 980.2C2087.8 980.5 2090.4 981.5 2090.2 982.2C2089.9 983 2086.3 984.3 2090.7 984.8C2095 985.2 2112.1 985.5 2116.4 984.8C2120.7 984 2120.4 981 2116.4 980.2C2112.4 979.5 2096.6 979.9 2092.2 980.2Z" fill="#FFAA86"/>
<path d="M1413.3 1061.9C1412.9 1059.3 1413.2 1050 1413.3 1046C1413.4 1042 1413.6 1040.1 1414.1 1038C1414.6 1035.8 1414.9 1035 1416.5 1033.2C1418.1 1031.3 1421.6 1027.9 1423.7 1027.1C1425.8 1026.3 1427.2 1027.9 1429.3 1028.4C1431.4 1028.8 1435.1 1028.6 1436.2 1030C1437.2 1031.3 1435.9 1034.4 1435.7 1036.4C1435.5 1038.4 1436.4 1040.8 1434.9 1042C1433.4 1043.2 1429.6 1043.2 1426.9 1043.6C1424.2 1044 1420.8 1044 1418.9 1044.4C1417 1044.8 1416.2 1043 1415.7 1046C1415.2 1048.9 1416.1 1059.3 1415.7 1061.9C1415.3 1064.6 1413.7 1064.6 1413.3 1061.9Z" fill="#FFCDB4"/>
<path d="M1646.6 1061.9C1642.2 1059.3 1646.4 1049.4 1646.6 1046C1646.7 1042.5 1646.4 1042.8 1647.4 1041.2C1648.3 1039.6 1650 1038 1652.2 1036.4C1654.3 1034.8 1657.8 1032.8 1660.2 1031.6C1662.6 1030.4 1664.6 1029.3 1666.6 1029.2C1668.6 1029 1670.7 1029.6 1672.2 1030.8C1673.6 1032 1675 1034.5 1675.4 1036.4C1675.8 1038.2 1675 1040.4 1674.6 1042C1674.2 1043.6 1673.2 1042.6 1673 1046C1672.7 1049.3 1677.4 1059.3 1673 1061.9C1668.6 1064.6 1651 1064.6 1646.6 1061.9Z" fill="#FFCDB4"/>
<path d="M1473.8 631.7C1475.3 625.4 1476.7 618.5 1478.1 612.5C1479.5 606.4 1481 600.7 1482.4 595.4C1483.8 590.1 1485 585.1 1486.6 580.5C1488.2 575.9 1490 571.6 1492 567.7C1493.9 563.8 1495.9 559.9 1498.4 557C1500.9 554.2 1503.7 552.4 1506.9 550.6C1510.1 548.9 1514 547.8 1517.6 546.4C1521.1 545 1525 543.9 1528.2 542.1C1531.4 540.3 1533.9 537.8 1536.7 535.7C1539.6 533.6 1542.6 531.1 1545.3 529.3C1547.9 527.5 1550.3 527.4 1552.7 525.1C1555.2 522.7 1557.7 518.5 1560.2 515.5C1562.7 512.4 1565 509.6 1567.7 506.9C1570.3 504.3 1573.5 501.1 1576.2 499.5C1578.9 497.9 1581 497.2 1583.7 497.3C1586.3 497.5 1589.5 498.6 1592.2 500.5C1594.9 502.5 1597.3 505.5 1599.6 509.1C1602 512.6 1604.1 517.8 1606 521.9C1608 525.9 1609.8 529.1 1611.4 533.6C1613 538 1614.4 542.5 1615.6 548.5C1616.9 554.5 1618.1 565.5 1618.8 569.8C1619.6 574.2 1619.3 566.9 1620 574.8C1620.7 582.7 1621.9 605.4 1622.8 617.2C1623.8 628.9 1624.7 637.2 1625.7 645.4C1626.6 653.7 1627.8 660.6 1628.5 666.6C1629.1 672.6 1629.6 681.5 1629.6 681.5C1629.6 681.5 1628.4 695 1627.8 702C1627.1 708.9 1626.5 716.1 1625.7 723.1C1624.8 730.2 1623.8 739.5 1622.8 744.3C1621.9 749.2 1621.5 747.8 1619.9 752.3C1618.4 756.9 1615.8 765.5 1613.5 771.5C1611.2 777.6 1608.5 783.3 1606 788.6C1603.6 793.9 1601.2 798.9 1598.6 803.5C1595.9 808.1 1592.9 812 1590.1 816.3C1587.2 820.6 1584.2 824.8 1581.5 829.1C1578.9 833.4 1576.4 837.6 1574.1 841.9C1571.8 846.2 1570 851.1 1567.7 854.7C1565.4 858.2 1562.3 861.3 1560.2 863.2C1558.1 865.2 1554.9 866.4 1554.9 866.4C1554.9 866.4 1552.2 866.3 1549.5 865.8C1546.9 865.2 1542.4 863.9 1538.9 863.2C1535.3 862.5 1531.8 861.7 1528.2 861.5C1524.7 861.3 1521.1 862.2 1517.6 862.2C1514 862.1 1510.1 861.8 1506.9 861.1C1503.7 860.4 1501.2 860.4 1498.4 857.9C1495.5 855.4 1492.5 851.3 1489.8 846.2C1487.2 841 1484.9 834.8 1482.4 827C1479.9 819.2 1477 809.2 1474.9 799.3C1472.8 789.3 1471.2 777.9 1469.6 767.3C1468 756.6 1466.4 745.9 1465.3 735.3C1464.3 724.6 1463.4 714 1463.2 703.3C1463 692.6 1463.2 680.2 1464.3 671.3C1465.3 662.4 1468 656.6 1469.6 650C1471.2 643.4 1472.4 637.9 1473.8 631.7Z" fill="#FFAA86"/>
<path d="M1737.3 537.8C1741 537.8 1743.9 537.9 1747.2 538.7C1750.5 539.6 1754 541.3 1757.1 543C1760.1 544.6 1762.8 546.4 1765.5 548.6C1768.3 550.9 1771 553.5 1773.3 556.4C1775.7 559.4 1777.8 562.8 1779.7 566.3C1781.6 569.8 1783.1 573.6 1784.6 577.6C1786.1 581.6 1787.6 586.1 1788.9 590.3C1790.2 594.6 1791.3 598.7 1792.4 603C1793.4 607.4 1795.2 616.2 1795.2 616.2C1795.2 616.2 1794 624.3 1793.1 628.5C1792.2 632.6 1790.9 637 1789.6 641.2C1788.3 645.4 1786.9 649.7 1785.3 653.9C1783.8 658.2 1782.1 662.6 1780.4 666.6C1778.6 670.6 1776.5 674.4 1774.7 677.9C1773 681.5 1771.5 684.8 1769.8 687.8C1768 690.9 1766.2 693.7 1764.1 696.3C1762 698.9 1759.4 701.6 1757.1 703.4C1754.7 705.1 1752.1 706.3 1750 706.9C1747.9 707.5 1746.5 707.5 1744.3 706.9C1742.2 706.3 1739.6 705.1 1737.3 703.4C1734.9 701.6 1732.6 698.9 1730.2 696.3C1727.9 693.7 1725.2 690.4 1723.2 687.8C1721.1 685.2 1718.2 680.8 1718.2 680.8C1718.2 680.8 1714.1 679.3 1711.8 677.9C1709.6 676.5 1706.9 674.6 1704.8 672.3C1702.7 669.9 1700.8 667.1 1699.1 663.8C1697.5 660.5 1696.1 656.7 1694.9 652.5C1693.7 648.3 1692.9 642.8 1692.1 638.4C1691.2 633.9 1690.4 629.3 1689.9 625.7C1689.5 622 1689.2 616.2 1689.2 616.2C1689.2 616.2 1690.7 605.2 1691.4 600.2C1692.1 595.2 1692.7 590.8 1693.5 586.1C1694.3 581.4 1695.1 576.4 1696.3 572C1697.5 567.5 1698.9 563 1700.5 559.2C1702.2 555.5 1703.8 552.1 1706.2 549.3C1708.5 546.6 1711.6 544.8 1714.7 543C1717.7 541.2 1720.8 539.6 1724.6 538.7C1728.3 537.9 1733.5 537.8 1737.3 537.8Z" fill="#FFAA86"/>
<path d="M2043.7 1023.6C2044 1022.9 2044.9 1022.4 2045.8 1023.1C2046.6 1023.8 2047.9 1026.2 2048.8 1027.7C2049.7 1029.1 2051.1 1030.5 2051.3 1031.7C2051.6 1032.9 2050.9 1034.3 2050.3 1034.7C2049.7 1035.1 2048.6 1034.7 2047.8 1034.2C2046.9 1033.7 2045.8 1032.8 2045.2 1031.7C2044.7 1030.6 2044.5 1029 2044.2 1027.7C2044 1026.3 2043.5 1024.4 2043.7 1023.6Z" fill="#FFAA86"/>
<path d="M1496.2 643.4C1498 641.2 1500.1 638.6 1502.6 637C1505.1 635.4 1508.3 634.7 1511.2 633.8C1514 632.9 1516.8 632.6 1519.7 631.7C1522.5 630.8 1525.7 630.2 1528.2 628.5C1530.7 626.7 1532.3 624.4 1534.6 621C1536.9 617.6 1539.8 612.5 1542.1 608.2C1544.4 603.9 1546.3 599.3 1548.5 595.4C1550.6 591.5 1552.7 588.3 1554.9 584.8C1557 581.2 1559 577.5 1561.3 574.1C1563.6 570.7 1566.2 567.3 1568.7 564.5C1571.2 561.7 1573.9 559 1576.2 557.5C1578.5 555.9 1580.5 555.2 1582.6 555.3C1584.7 555.4 1587 556.4 1589 558.1C1590.9 559.8 1592.5 562.2 1594.3 565.6C1596.1 568.9 1597.9 573.4 1599.6 578.4C1601.4 583.3 1603.4 589.7 1605 595.4C1606.6 601.1 1608.1 606.8 1609.2 612.5C1610.4 618.2 1611.2 623.3 1611.8 629.5C1612.4 635.8 1612.8 643.7 1613.1 650C1613.4 656.3 1613.4 660.7 1613.5 667.1C1613.6 673.5 1613.9 681.6 1613.5 688.4C1613.2 695.1 1612.3 701.5 1611.4 707.6C1610.5 713.6 1609.6 718.9 1608.2 724.6C1606.8 730.3 1604.8 736.4 1602.8 741.7C1600.9 747 1598.9 751.8 1596.4 756.6C1594 761.4 1590.8 766.2 1587.9 770.5C1585.1 774.7 1582.2 778.5 1579.4 782.2C1576.5 785.9 1573.4 789.8 1570.9 792.9C1568.4 795.9 1566.6 797.7 1564.5 800.3C1562.3 803 1558.1 808.8 1558.1 808.8C1558.1 808.8 1555.2 810.4 1552.7 809.9C1550.3 809.5 1546.5 807.3 1543.1 806.1C1539.8 804.8 1536 803.4 1532.5 802.5C1528.9 801.5 1525 800.9 1521.8 800.3C1518.6 799.8 1516.1 800.1 1513.3 799.3C1510.5 798.4 1507.6 797.1 1504.8 795C1501.9 792.9 1498.7 790 1496.2 786.5C1493.7 782.9 1491.8 778.6 1489.8 773.7C1487.9 768.7 1486.1 763 1484.5 756.6C1482.9 750.2 1481.2 743.1 1480.2 735.3C1479.3 727.5 1478.9 718.6 1478.8 709.7C1478.6 700.8 1478.4 689.1 1479.2 682C1480 674.9 1481.3 672.4 1483.4 667.1C1485.6 661.7 1489.8 653.9 1492 650C1494.1 646.1 1494.5 645.6 1496.2 643.4Z" fill="#FF7A44"/>
<path d="M1738 562.8C1740.3 562.9 1743.3 563.1 1745.8 564.2C1748.2 565.2 1750.6 567.1 1752.8 569.1C1755.1 571.1 1757.2 573.6 1759.2 576.2C1761.2 578.8 1763.1 581.6 1764.8 584.7C1766.6 587.7 1768.3 591.3 1769.8 594.6C1771.3 597.9 1772.6 600.9 1774 604.5C1775.4 608.1 1778.3 616.2 1778.3 616.2C1778.3 616.2 1776.6 624.5 1775.4 628.5C1774.3 632.4 1772.8 636 1771.2 639.8C1769.5 643.5 1767.4 647.6 1765.5 651.1C1763.7 654.6 1762 658.2 1759.9 661C1757.8 663.8 1754.9 666.4 1752.8 668C1750.7 669.7 1749.3 670.4 1747.2 670.9C1745.1 671.3 1742.7 671.5 1740.1 670.9C1737.5 670.3 1734.5 668.7 1731.6 667.3C1728.8 665.9 1725.7 664.2 1723.2 662.4C1720.6 660.6 1718.3 659.1 1716.1 656.7C1713.8 654.4 1711.6 651.3 1709.7 648.3C1707.8 645.2 1706.2 641.9 1704.8 638.4C1703.4 634.8 1702.3 630.8 1701.2 627.1C1700.2 623.4 1698.7 616.2 1698.7 616.2C1698.7 616.2 1700.2 607.1 1701.2 603C1702.3 599 1703.5 595.3 1704.8 591.7C1706.1 588.2 1707.1 584.9 1709 581.8C1710.9 578.8 1713.5 576 1716.1 573.4C1718.7 570.8 1722 568 1724.6 566.3C1727.2 564.7 1729.4 564.1 1731.6 563.5C1733.9 562.9 1735.6 562.7 1738 562.8Z" fill="#FF7A44"/>
<path d="M1558.1 635.9C1559.8 631.4 1561.4 626.9 1563.4 623.1C1565.4 619.4 1567.7 616.2 1569.8 613.5C1571.9 610.9 1574.1 608.6 1576.2 607.1C1578.3 605.7 1580.6 604.8 1582.6 605C1584.5 605.2 1586.1 606.3 1587.9 608.2C1589.7 610.2 1591.7 613.9 1593.3 616.7C1594.9 619.6 1596.4 622.4 1597.5 625.3C1598.6 628.1 1599.2 629.7 1599.6 633.8C1600.1 637.9 1600 643.7 1600.3 650C1600.5 656.3 1601.2 664.9 1601.1 671.3C1601 677.7 1600.4 683 1599.6 688.4C1598.9 693.7 1597.7 698.3 1596.4 703.3C1595.2 708.3 1593.8 713.8 1592.2 718.2C1590.6 722.7 1589 726.4 1586.9 730C1584.7 733.5 1582.1 736.7 1579.4 739.6C1576.7 742.4 1573.7 744.3 1570.9 747C1568 749.7 1564.8 752.9 1562.3 755.5C1559.8 758.2 1558.1 761.7 1555.9 763C1553.8 764.4 1549.5 763.6 1549.5 763.6C1549.5 763.6 1545.6 761.9 1543.1 759.8C1540.7 757.7 1537.5 754.3 1534.6 751.3C1531.8 748.3 1528.9 744.3 1526.1 741.7C1523.2 739 1520 736.9 1517.6 735.3C1515.1 733.7 1511.2 732.1 1511.2 732.1C1511.2 732.1 1514 728.4 1515.4 724.6C1516.8 720.9 1518.6 715 1519.7 709.7C1520.8 704.4 1521.3 697.3 1521.8 692.6C1522.4 688 1522.9 682 1522.9 682C1522.9 682 1525.9 679.7 1528.2 677.7C1530.5 675.8 1533.9 673.1 1536.7 670.3C1539.6 667.4 1542.6 664 1545.3 660.7C1547.9 657.3 1550.6 654.1 1552.7 650C1554.9 645.9 1556.3 640.4 1558.1 635.9Z" fill="#FF501C"/>
<path d="M1738 587.5C1740.1 587.5 1742.3 587.9 1744.3 588.9C1746.3 590 1748.2 592.1 1750 593.9C1751.8 595.6 1753.3 597.3 1754.9 599.5C1756.6 601.7 1758.1 604.5 1759.9 607.3C1761.7 610.1 1765.5 616.2 1765.5 616.2C1765.5 616.2 1763.4 623.6 1762 627.1C1760.6 630.5 1758.8 634.1 1757.1 637C1755.3 639.8 1753.3 642.1 1751.4 644C1749.5 645.9 1747.6 647.4 1745.8 648.3C1743.9 649.1 1742.2 649.3 1740.1 649C1738 648.6 1735.4 647.6 1733 646.1C1730.7 644.7 1728.3 642.7 1726 640.5C1723.6 638.3 1721 635.4 1718.9 632.7C1716.8 630 1714.9 627 1713.3 624.2C1711.6 621.5 1709 616.2 1709 616.2C1709 616.2 1711.6 610.1 1713.3 607.3C1714.9 604.5 1716.9 601.9 1718.9 599.5C1720.9 597.2 1723.2 594.9 1725.3 593.2C1727.4 591.4 1729.5 589.9 1731.6 588.9C1733.7 588 1735.9 587.5 1738 587.5Z" fill="#FF501C"/>
<path d="M1564 681.6C1564 681.6 1567.1 678.6 1568.7 677.7C1570.4 676.8 1572.5 676 1574.1 676C1575.7 676 1577.2 676.8 1578.3 677.7C1579.5 678.6 1581.1 681.6 1581.1 681.6C1581.1 681.6 1577.9 685 1576.2 685.8C1574.5 686.7 1572.5 686.9 1570.9 686.7C1569.3 686.5 1567.7 685.4 1566.6 684.5C1565.5 683.7 1564 681.6 1564 681.6Z" fill="#E13200"/>
<path d="M1724.8 616.2C1724.8 616.2 1728.4 613.2 1730.2 612.2C1732.1 611.2 1734 610.5 1735.9 610.1C1737.8 609.8 1739.8 609.8 1741.5 610.1C1743.3 610.5 1744.9 611.2 1746.5 612.2C1748.1 613.2 1751.1 616.2 1751.1 616.2C1751.1 616.2 1747.6 620.8 1745.8 622.1C1743.9 623.5 1742 624 1740.1 624.2C1738.2 624.5 1736.2 624.1 1734.5 623.5C1732.7 622.9 1731.1 621.9 1729.5 620.7C1727.9 619.5 1724.8 616.2 1724.8 616.2Z" fill="#E13200"/>
<path d="M1411.4 418C1409.2 418 1406.6 418.7 1404.6 420.6C1402.5 422.4 1400.8 425.6 1399.2 429.1C1397.6 432.7 1395.8 436.2 1395 441.9C1394.1 447.6 1394.7 454.3 1394.3 463.2C1394 472.1 1393.3 484.5 1392.8 495.2C1392.4 505.9 1392.1 516.5 1391.8 527.2C1391.4 537.8 1391 548.5 1390.7 559.2C1390.3 569.8 1390 580.5 1389.6 591.2C1389.3 601.8 1388.8 613.3 1388.6 623.1C1388.3 632.9 1388.2 640.2 1387.9 650C1387.7 659.8 1387.2 671.3 1387.1 682C1386.9 692.6 1386.8 703.3 1387.1 714C1387.3 724.6 1388 735.3 1388.6 745.9C1389.2 756.6 1389.8 767.3 1390.7 777.9C1391.6 788.6 1392.6 800 1393.9 809.9C1395.1 819.9 1396.6 829.5 1398.2 837.6C1399.8 845.8 1401.5 852.2 1403.5 859C1405.4 865.7 1407.9 873.3 1409.9 878.1C1411.8 882.9 1413.6 885.4 1415.2 887.7C1416.8 890.1 1417.9 892.4 1419.5 892.4C1421.1 892.4 1423 890.1 1424.8 887.7C1426.6 885.4 1428.5 882.2 1430.1 878.1C1431.7 874.1 1433.2 869.3 1434.4 863.2C1435.6 857.2 1436.8 850.8 1437.6 841.9C1438.4 833 1438.9 820.6 1439.1 809.9C1439.3 799.3 1438.9 788.6 1438.7 777.9C1438.4 767.3 1438 756.6 1437.6 745.9C1437.2 735.3 1436.8 724.6 1436.5 714C1436.3 703.3 1436.3 692.6 1436.1 682C1436 671.3 1435.7 659.8 1435.7 650C1435.7 640.2 1436 632.9 1436.1 623.1C1436.3 613.3 1436.4 601.8 1436.5 591.2C1436.7 580.5 1436.9 569.8 1437 559.2C1437 548.5 1437.2 537.8 1437 527.2C1436.7 516.5 1436.1 505.9 1435.5 495.2C1434.9 484.5 1434 471.9 1433.3 463.2C1432.7 454.5 1433.1 448.5 1431.6 443C1430.2 437.5 1427.2 433.9 1424.8 430.2C1422.4 426.4 1419.6 422.6 1417.3 420.6C1415.1 418.6 1413.5 418 1411.4 418Z" fill="#B4CDFF"/>
<path d="M1851.5 237.2C1815.9 239.7 1851.1 244.7 1851.5 252.1C1851.8 259.6 1852.7 271.7 1853.6 282C1854.5 292.3 1855.7 303.3 1856.8 314C1857.9 324.6 1858.9 335.3 1860 345.9C1861.1 356.6 1862.2 367.3 1863.2 377.9C1864.2 388.6 1865 400 1866 409.9C1866.9 419.9 1867.8 430.2 1868.9 437.6C1870.1 445.1 1871.3 449 1872.8 454.7C1874.3 460.4 1876.2 466.8 1878.1 471.7C1880.1 476.7 1882.2 480.6 1884.5 484.5C1886.8 488.5 1889.3 492.4 1892 495.2C1894.6 498 1897.7 499.9 1900.5 501.2C1903.3 502.4 1905.8 502.7 1909 502.7C1912.2 502.7 1915.8 502.1 1919.7 501.2C1923.6 500.3 1928.2 498.6 1932.5 497.3C1936.7 496.1 1941 494.4 1945.3 493.5C1949.5 492.6 1953.8 492.4 1958.1 492C1962.3 491.6 1966.6 491.7 1970.9 491.4C1975.1 491 1980.1 491 1983.7 489.9C1987.2 488.7 1989.5 486.9 1992.2 484.5C1994.9 482.2 1997.5 479.2 1999.6 476C2001.8 472.8 2003.2 469.3 2005 465.4C2006.8 461.4 2008.9 456.5 2010.3 452.6C2011.7 448.6 2011.9 445.5 2013.5 441.9C2015.1 438.3 2017.8 435.5 2019.9 431.2C2022 427 2024.3 421.6 2026.3 416.3C2028.3 411 2030 404.9 2031.6 399.3C2033.2 393.6 2034.7 387.7 2035.9 382.2C2037.1 376.7 2037.5 370.8 2039.1 366.2C2040.7 361.6 2043.4 359.6 2045.5 354.5C2047.6 349.3 2049.9 342 2051.9 335.3C2053.8 328.5 2055.6 321.8 2057.2 314C2058.8 306.1 2060.2 298.7 2061.5 288.4C2062.7 278.1 2064.1 260.7 2064.7 252.1C2065.2 243.6 2100.2 239.7 2064.7 237.2C2029.1 234.7 1887 234.7 1851.5 237.2Z" fill="#B4CDFF"/>
<path d="M1882.4 237.2C1856.1 239.7 1881.8 245.7 1882.4 252.1C1882.9 258.5 1884.3 266.7 1885.6 275.6C1886.8 284.5 1888.2 296.2 1889.8 305.4C1891.4 314.7 1893.4 323.6 1895.2 331C1896.9 338.5 1898.7 344.3 1900.5 350.2C1902.3 356.1 1904.1 360.9 1905.8 366.2C1907.6 371.5 1909.2 377.4 1911.2 382.2C1913.1 387 1915.2 391.1 1917.6 395C1919.9 398.9 1922.2 402.6 1925 405.7C1927.9 408.7 1931.2 411.2 1934.6 413.1C1938 415.1 1941.7 416.6 1945.3 417.4C1948.8 418.2 1952.4 418.4 1955.9 418C1959.5 417.7 1963.2 416.8 1966.6 415.2C1970 413.7 1973.2 411.5 1976.2 408.8C1979.2 406.2 1982.1 403 1984.7 399.3C1987.4 395.5 1989.9 390.7 1992.2 386.5C1994.5 382.2 1997 377 1998.6 373.7C2000.2 370.3 2000 369.4 2001.8 366.2C2003.6 363 2006.6 359.3 2009.2 354.5C2011.9 349.7 2015.1 343.5 2017.8 337.4C2020.4 331.4 2022.9 325 2025.2 318.2C2027.5 311.5 2029.7 304.4 2031.6 296.9C2033.6 289.4 2035.5 280.9 2037 273.5C2038.4 266 2039.6 258.2 2040.2 252.1C2040.7 246.1 2066.5 239.7 2040.2 237.2C2013.9 234.7 1908.7 234.7 1882.4 237.2Z" fill="#86A8FF"/>
<path d="M1916.5 237.2C1900.7 239.7 1915.8 246.4 1916.5 252.1C1917.2 257.8 1919.2 265.3 1920.8 271.3C1922.4 277.4 1924.1 282.7 1926.1 288.4C1928 294.1 1930.2 300.5 1932.5 305.4C1934.8 310.4 1937.3 314.3 1939.9 318.2C1942.6 322.1 1945.8 326.1 1948.5 328.9C1951.1 331.7 1953.6 333.5 1955.9 334.9C1958.2 336.2 1960 336.9 1962.3 337C1964.6 337.1 1967.1 336.6 1969.8 335.3C1972.5 333.9 1975.7 331.6 1978.3 328.9C1981 326.2 1983.3 323.2 1985.8 319.3C1988.3 315.4 1990.8 310.6 1993.3 305.4C1995.7 300.3 1998.6 294.1 2000.7 288.4C2002.8 282.7 2004.3 277.4 2006 271.3C2007.8 265.3 2010.1 257.8 2010.9 252.1C2011.8 246.4 2026.7 239.7 2010.9 237.2C1995.2 234.7 1932.2 234.7 1916.5 237.2Z" fill="#4476FF"/>
<path d="M1951.7 237.2C1947.2 239.7 1951 248.8 1951.7 252.1C1952.4 255.5 1954.2 255.9 1955.9 257.5C1957.7 259.1 1960.7 260.9 1962.3 261.7C1963.9 262.5 1964.1 262.7 1965.5 262.4C1967 262 1969.3 260.8 1970.9 259.6C1972.5 258.4 1973.9 256.6 1975.1 255.3C1976.4 254.1 1977.8 255.2 1978.3 252.1C1978.9 249.1 1982.8 239.7 1978.3 237.2C1973.9 234.7 1956.1 234.7 1951.7 237.2Z" fill="#1C50FF"/>
<path d="M1828.4 725.3C1830.1 725.4 1832 726.8 1833.4 728.1C1834.8 729.4 1836.4 730.3 1836.9 733C1837.4 735.7 1836.5 740.6 1836.2 744.3C1835.8 748.1 1835.4 751.9 1834.8 755.6C1834.2 759.4 1832.7 767 1832.7 767C1832.7 767 1830.4 767.4 1829.1 765.5C1827.8 763.7 1826.3 759.2 1824.9 755.6C1823.5 752.1 1821.9 748.2 1820.6 744.3C1819.4 740.5 1817.1 735.6 1817.5 732.8C1818 729.9 1821.7 728.6 1823.5 727.4C1825.3 726.1 1826.8 725.2 1828.4 725.3Z" fill="#B4CDFF"/>
<path d="M2023.1 645.7C2024.5 646.1 2026.2 650.7 2027.4 654.3C2028.5 657.8 2029.5 662.4 2030.1 667.1C2030.7 671.7 2031 675.9 2031 682C2031 688 2030.6 696.2 2030.1 703.3C2029.7 710.4 2029.1 717.5 2028.4 724.6C2027.8 731.7 2027 738.8 2026.3 745.9C2025.6 753.1 2024.9 760.5 2024.2 767.3C2023.5 774 2023.1 781.1 2022 786.5C2021 791.8 2019.4 794.7 2017.8 799.3C2016.2 803.8 2014 811.4 2012.4 813.8C2010.8 816.1 2009.4 814.8 2008.2 813.1C2006.9 811.4 2005.9 807.6 2005 803.5C2004.1 799.4 2003.4 793.9 2002.8 788.6C2002.3 783.3 2001.8 778.6 2001.8 771.5C2001.8 764.4 2002.4 753.8 2002.8 745.9C2003.3 738.1 2003.9 731.7 2004.6 724.6C2005.2 717.5 2005.9 710.4 2006.7 703.3C2007.5 696.2 2008.1 688 2009.2 682C2010.4 675.9 2011.9 672 2013.5 667.1C2015.1 662.1 2017.2 655.7 2018.8 652.1C2020.4 648.6 2021.7 645.4 2023.1 645.7Z" fill="#B4CDFF"/>
<path d="M1702.5 1024.4C1702.5 1024.4 1704.8 1019.8 1706.5 1018C1708.3 1016.1 1711.1 1014.4 1712.9 1013.2C1714.8 1011.9 1715.9 1011 1717.7 1010.5C1719.6 1009.9 1722 1009.8 1724.1 1010C1726.3 1010.2 1728.4 1010.8 1730.5 1011.6C1732.7 1012.3 1734.8 1014 1736.9 1014.4C1739.1 1014.8 1740.9 1014.4 1743.3 1014C1745.7 1013.5 1748.4 1012.4 1751.3 1011.6C1754.3 1010.8 1757.7 1009.3 1760.9 1009.2C1764.1 1009 1768.2 1009.9 1770.5 1010.8C1772.8 1011.7 1774.5 1014.4 1774.5 1014.4C1774.5 1014.4 1779.7 1013.8 1781.7 1013.2C1783.7 1012.5 1784.9 1010.9 1786.5 1010.5C1788.1 1010.1 1791.3 1010.8 1791.3 1010.8C1791.3 1010.8 1793.2 1007.3 1794.5 1004.4C1795.8 1001.4 1797.8 995.4 1799.3 993.2C1800.8 991 1801.7 991.3 1803.3 991.3C1804.9 991.3 1807.3 992.2 1808.9 993.2C1810.5 994.2 1811.8 995 1812.9 997.2C1814 999.3 1814.6 1003.7 1815.3 1006C1816 1008.2 1817.1 1008.9 1817.2 1010.8C1817.3 1012.6 1817.2 1015.3 1816.1 1017.2C1815 1019 1812 1020.8 1810.5 1022C1809 1023.2 1809.4 1023.3 1807.3 1024.4C1805.2 1025.4 1800.4 1026.9 1797.7 1028.4C1795 1029.8 1793.4 1031.3 1791.3 1033.2C1789.2 1035 1787 1037.4 1784.9 1039.6C1782.8 1041.7 1779.6 1042.2 1778.5 1046C1777.4 1049.7 1782.8 1059.3 1778.5 1061.9C1774.2 1064.6 1757.2 1064.6 1752.9 1061.9C1748.7 1059.3 1754.3 1050.1 1752.9 1046C1751.6 1041.8 1746.3 1039.7 1744.9 1037.2C1743.6 1034.6 1744.9 1030.8 1744.9 1030.8C1744.9 1030.8 1739.3 1031.3 1736.9 1030.8C1734.5 1030.2 1732.7 1028.2 1730.5 1027.6C1728.4 1026.9 1726.5 1026.6 1724.1 1026.8C1721.7 1026.9 1718.8 1028.1 1716.1 1028.4C1713.5 1028.6 1710.4 1029 1708.1 1028.4C1705.9 1027.7 1702.5 1024.4 1702.5 1024.4Z" fill="#B4CDFF"/>
<path d="M2020.3 958.5C2020.3 958.5 2022 964.3 2022 967.1C2022 969.9 2020.3 975.2 2020.3 975.2C2020.3 975.2 2018.3 969.9 2018.3 967.1C2018.3 964.3 2020.3 958.5 2020.3 958.5Z" fill="#B4CDFF"/>
<path d="M2016.7 972.1C2016.7 972.1 2018 978 2018 981.2C2018 984.4 2017 987.9 2016.5 991.3C2016 994.7 2015.3 998 2015 1001.4C2014.6 1004.8 2014.5 1008.8 2014.5 1011.5C2014.5 1014.2 2014.3 1015.9 2015 1017.6C2015.6 1019.2 2017.4 1020.7 2018.5 1021.6C2019.6 1022.5 2020.5 1022.9 2021.5 1023.1C2022.5 1023.3 2023.9 1022.1 2024.6 1022.8C2025.2 1023.6 2024.9 1026 2025.6 1027.7C2026.2 1029.3 2027.7 1031.4 2028.6 1032.7C2029.5 1034 2031.1 1034.9 2031.1 1035.7C2031.1 1036.6 2029.7 1037.2 2028.6 1037.7C2027.5 1038.3 2025.9 1038.3 2024.6 1038.8C2023.2 1039.3 2022 1040.3 2020.5 1040.8C2019 1041.3 2017.2 1041.5 2015.5 1041.8C2013.8 1042 2011.3 1040.6 2010.4 1042.3C2009.6 1044 2013.8 1050.3 2010.4 1051.9C2007.1 1053.5 1993.6 1053.4 1990.2 1051.9C1986.9 1050.3 1990.6 1045.1 1990.2 1042.6C1989.9 1040.1 1988 1038.4 1988.2 1036.7C1988.5 1035.1 1990.1 1034.2 1991.7 1032.7C1993.4 1031.2 1996.2 1029.7 1998.3 1027.7C2000.4 1025.6 2002.8 1022.9 2004.4 1020.6C2006 1018.2 2007 1016 2007.9 1013.5C2008.8 1011 2009.3 1008.5 2009.9 1005.4C2010.5 1002.4 2010.8 998.9 2011.4 995.4C2012 991.8 2012.9 987.4 2013.5 984.2C2014 981.1 2014.4 978.2 2015 976.2C2015.5 974.2 2016.7 972.1 2016.7 972.1Z" fill="#B4CDFF"/>
<path d="M2008.6 1024.1C2008.6 1024.1 2009.6 1027.4 2010.4 1028.7C2011.2 1029.9 2012.1 1031 2013.5 1031.7C2014.8 1032.4 2016.8 1032.2 2018.5 1032.7C2020.2 1033.2 2022.4 1034.1 2023.5 1034.7C2024.7 1035.3 2025.9 1035.6 2025.6 1036.2C2025.2 1036.8 2023.2 1037.7 2021.5 1038.3C2019.8 1038.8 2017.3 1039.3 2015.5 1039.8C2013.6 1040.2 2012.4 1040.6 2010.4 1040.8C2008.4 1041 2005.4 1041.8 2003.4 1041.1C2001.3 1040.3 1998.3 1036.2 1998.3 1036.2C1998.3 1036.2 2001.5 1033.2 2002.9 1031.7C2004.2 1030.2 2005.4 1028.4 2006.4 1027.1C2007.3 1025.9 2008.6 1024.1 2008.6 1024.1Z" fill="#86A8FF"/>
<path d="M2095.2 937.3C2095.2 937.3 2098.2 940.3 2098.2 940.3C2098.2 940.3 2103.8 936.3 2103.8 936.3C2103.8 936.3 2105.8 941.4 2106.3 943.9C2106.8 946.3 2106.7 948.1 2106.8 950.9C2106.9 953.8 2107.9 959.4 2106.8 961C2105.7 962.7 2101.4 962.4 2100.3 961C2099.2 959.7 2100.9 953.8 2100.3 953C2099.6 952.1 2097.5 955.8 2096.2 956C2095 956.2 2093.7 955.1 2092.7 954C2091.7 952.9 2090.4 951.3 2090.2 949.4C2089.9 947.6 2090.7 944.5 2091.2 942.9C2091.7 941.2 2092.5 940.3 2093.2 939.3C2093.9 938.4 2095.2 937.3 2095.2 937.3Z" fill="#B4CDFF"/>
<path d="M2095.7 946.9C2096.2 946.8 2097.2 948.6 2097.2 949.4C2097.2 950.3 2096.2 951.9 2095.7 951.9C2095.2 952 2094.2 950.8 2094.2 949.9C2094.2 949.1 2095.2 947 2095.7 946.9Z" fill="#86A8FF"/>
<path d="M2103.8 943.9C2104.5 943.9 2105.5 948.4 2105.8 949.9C2106.1 951.4 2106.6 952.5 2105.8 953C2105.1 953.5 2102 953.5 2101.3 953C2100.5 952.5 2100.8 951.4 2101.3 949.9C2101.7 948.4 2103 943.9 2103.8 943.9Z" fill="#86A8FF"/>
<path d="M2075 1025.6C2075 1025.6 2076.3 1026.8 2077 1026.1C2077.8 1025.5 2078.7 1023.2 2079.6 1021.6C2080.4 1020 2081.2 1018.4 2082.1 1016.5C2083 1014.7 2084.2 1012.5 2085.1 1010.5C2086 1008.5 2086.5 1006.3 2087.6 1004.4C2088.7 1002.6 2088.6 1000.2 2091.7 999.4C2094.8 998.5 2103.9 990.6 2106.3 999.4C2108.8 1008.1 2111.5 1043.1 2106.3 1051.9C2101.1 1060.6 2080.2 1054.4 2075 1051.9C2069.8 1049.4 2075.8 1039.4 2075 1036.7C2074.3 1034 2070.5 1035.7 2070.5 1035.7C2070.5 1035.7 2072.2 1032.4 2073 1030.7C2073.8 1029 2075 1025.6 2075 1025.6Z" fill="#B4CDFF"/>
<path d="M2088.6 1005.4C2087.7 1007.3 2087 1010.8 2086.1 1013.5C2085.3 1016.2 2084.5 1019.2 2083.6 1021.6C2082.7 1024 2081.3 1026 2080.6 1027.7C2079.8 1029.3 2079.3 1030.4 2079.1 1031.7C2078.8 1033 2077.6 1034.5 2079.1 1035.2C2080.5 1036 2083.1 1036.1 2087.6 1036.2C2092.2 1036.4 2103.2 1041.7 2106.3 1036.2C2109.4 1030.8 2108.8 1009.1 2106.3 1003.4C2103.9 997.8 2094.6 1002.1 2091.7 1002.4C2088.7 1002.8 2089.6 1003.6 2088.6 1005.4Z" fill="#86A8FF"/>
<path d="M2090.2 1007.5C2089.5 1009.4 2088.4 1013.9 2087.6 1016.5C2086.9 1019.2 2086.1 1021.3 2085.6 1023.6C2085.1 1026 2084.3 1029.3 2084.6 1030.7C2084.9 1032 2084 1031.5 2087.6 1031.7C2091.3 1031.9 2103.2 1036.1 2106.3 1031.7C2109.4 1027.3 2108.8 1009.9 2106.3 1005.4C2103.9 1001 2094.4 1004.6 2091.7 1004.9C2089 1005.3 2090.8 1005.5 2090.2 1007.5Z" fill="#4476FF"/>
<path d="M2091.2 1010.5C2088.3 1011.8 2089.6 1016.4 2089.2 1018.6C2088.7 1020.8 2085.8 1022.7 2088.6 1023.6C2091.5 1024.5 2103.4 1026.3 2106.3 1024.1C2109.3 1021.9 2108.8 1012.8 2106.3 1010.5C2103.8 1008.2 2094 1009.1 2091.2 1010.5Z" fill="#1C50FF"/>
<path d="M2091.7 1013.5C2089 1014.7 2087.7 1019.1 2090.2 1020.6C2092.6 1022.1 2103.6 1023.8 2106.3 1022.6C2109 1021.4 2108.8 1015 2106.3 1013.5C2103.9 1012 2094.4 1012.3 2091.7 1013.5Z" fill="#0030DC"/>
<path d="M2095.2 972.6C2093.1 974.1 2091.8 979.5 2093.7 981.2C2095.5 982.9 2104.2 984.2 2106.3 982.7C2108.4 981.3 2108.2 974.3 2106.3 972.6C2104.5 971 2097.3 971.2 2095.2 972.6Z" fill="#4476FF"/>
<path d="M2100.3 950.9L2126.5 950.9L2126.5 1062L1934.7 1062L1934.7 1043L2075 1043L2075 1036.7L2088.1 1036.7L2088.1 1024.6L2092.2 1024.6L2092.2 983.2L2096.2 983.2L2096.2 967.1L2100.3 967.1Z" fill="#fff"/>
</g>
<g stroke="#000" stroke-linecap="round" fill="none">
<rect x="1315.5" y="250" width="796.7" height="798" stroke-width="4.6" stroke-linejoin="miter"/>
<path d="M1315.5 250L1315.5 229.2" stroke-width="4.6"/>
<path d="M1315.5 1048L1315.5 1068.8" stroke-width="4.6"/>
<path d="M1359.8 250L1359.8 239.6" stroke-width="2.2"/>
<path d="M1359.8 1048L1359.8 1058.4" stroke-width="2.2"/>
<path d="M1404 250L1404 239.6" stroke-width="2.2"/>
<path d="M1404 1048L1404 1058.4" stroke-width="2.2"/>
<path d="M1448.3 250L1448.3 229.2" stroke-width="4.6"/>
<path d="M1448.3 1048L1448.3 1068.8" stroke-width="4.6"/>
<path d="M1492.5 250L1492.5 239.6" stroke-width="2.2"/>
<path d="M1492.5 1048L1492.5 1058.4" stroke-width="2.2"/>
<path d="M1536.8 250L1536.8 239.6" stroke-width="2.2"/>
<path d="M1536.8 1048L1536.8 1058.4" stroke-width="2.2"/>
<path d="M1581.1 250L1581.1 229.2" stroke-width="4.6"/>
<path d="M1581.1 1048L1581.1 1068.8" stroke-width="4.6"/>
<path d="M1625.3 250L1625.3 239.6" stroke-width="2.2"/>
<path d="M1625.3 1048L1625.3 1058.4" stroke-width="2.2"/>
<path d="M1669.6 250L1669.6 239.6" stroke-width="2.2"/>
<path d="M1669.6 1048L1669.6 1058.4" stroke-width="2.2"/>
<path d="M1713.8 250L1713.8 229.2" stroke-width="4.6"/>
<path d="M1713.8 1048L1713.8 1068.8" stroke-width="4.6"/>
<path d="M1758.1 250L1758.1 239.6" stroke-width="2.2"/>
<path d="M1758.1 1048L1758.1 1058.4" stroke-width="2.2"/>
<path d="M1802.4 250L1802.4 239.6" stroke-width="2.2"/>
<path d="M1802.4 1048L1802.4 1058.4" stroke-width="2.2"/>
<path d="M1846.6 250L1846.6 229.2" stroke-width="4.6"/>
<path d="M1846.6 1048L1846.6 1068.8" stroke-width="4.6"/>
<path d="M1890.9 250L1890.9 239.6" stroke-width="2.2"/>
<path d="M1890.9 1048L1890.9 1058.4" stroke-width="2.2"/>
<path d="M1935.2 250L1935.2 239.6" stroke-width="2.2"/>
<path d="M1935.2 1048L1935.2 1058.4" stroke-width="2.2"/>
<path d="M1979.4 250L1979.4 229.2" stroke-width="4.6"/>
<path d="M1979.4 1048L1979.4 1068.8" stroke-width="4.6"/>
<path d="M2023.7 250L2023.7 239.6" stroke-width="2.2"/>
<path d="M2023.7 1048L2023.7 1058.4" stroke-width="2.2"/>
<path d="M2067.9 250L2067.9 239.6" stroke-width="2.2"/>
<path d="M2067.9 1048L2067.9 1058.4" stroke-width="2.2"/>
<path d="M2112.2 250L2112.2 229.2" stroke-width="4.6"/>
<path d="M2112.2 1048L2112.2 1068.8" stroke-width="4.6"/>
<path d="M1315.5 250L1294.5 250" stroke-width="4.6"/>
<path d="M1315.5 366.3L1294.5 366.3" stroke-width="4.6"/>
<path d="M1315.5 442.8L1294.5 442.8" stroke-width="4.6"/>
<path d="M1315.5 524L1294.5 524" stroke-width="4.6"/>
<path d="M1315.5 616.3L1294.5 616.3" stroke-width="4.6"/>
<path d="M1315.5 681.7L1294.5 681.7" stroke-width="4.6"/>
<path d="M1315.5 732.5L1294.5 732.5" stroke-width="4.6"/>
<path d="M1315.5 774L1294.5 774" stroke-width="4.6"/>
<path d="M1315.5 839.5L1294.5 839.5" stroke-width="4.6"/>
<path d="M1315.5 890.3L1294.5 890.3" stroke-width="4.6"/>
<path d="M1315.5 966.8L1294.5 966.8" stroke-width="4.6"/>
<path d="M1315.5 1011L1294.5 1011" stroke-width="4.6"/>
<path d="M1315.5 1048L1294.5 1048" stroke-width="4.6"/>
<path d="M2112.2 388.9L2133.2 388.9" stroke-width="4.6"/>
<path d="M2112.2 530.9L2133.2 530.9" stroke-width="4.6"/>
<path d="M2112.2 674.2L2133.2 674.2" stroke-width="4.6"/>
<path d="M2112.2 813L2133.2 813" stroke-width="4.6"/>
<path d="M2112.2 938L2133.2 938" stroke-width="4.6"/>
</g>
<text transform="translate(1273.5 261.3) scale(0.905 1)" font-size="32" text-anchor="end">30</text>
<text transform="translate(1273.5 377.6) scale(0.905 1)" font-size="32" text-anchor="end">50</text>
<text transform="translate(1273.5 454.1) scale(0.905 1)" font-size="32" text-anchor="end">70</text>
<text transform="translate(1273.5 535.3) scale(0.905 1)" font-size="32" text-anchor="end">100</text>
<text transform="translate(1273.5 627.6) scale(0.905 1)" font-size="32" text-anchor="end">150</text>
<text transform="translate(1273.5 693) scale(0.905 1)" font-size="32" text-anchor="end">200</text>
<text transform="translate(1273.5 743.8) scale(0.905 1)" font-size="32" text-anchor="end">250</text>
<text transform="translate(1273.5 785.3) scale(0.905 1)" font-size="32" text-anchor="end">300</text>
<text transform="translate(1273.5 850.8) scale(0.905 1)" font-size="32" text-anchor="end">400</text>
<text transform="translate(1273.5 901.6) scale(0.905 1)" font-size="32" text-anchor="end">500</text>
<text transform="translate(1273.5 978.1) scale(0.905 1)" font-size="32" text-anchor="end">700</text>
<text transform="translate(1273.5 1022.3) scale(0.905 1)" font-size="32" text-anchor="end">850</text>
<text transform="translate(1273.5 1059.3) scale(0.905 1)" font-size="32" text-anchor="end">1000</text>
<text transform="translate(2153.4 400.2) scale(0.947 1)" font-size="32" text-anchor="start">20</text>
<text transform="translate(2153.4 542.2) scale(0.947 1)" font-size="32" text-anchor="start">16</text>
<text transform="translate(2153.4 685.5) scale(0.947 1)" font-size="32" text-anchor="start">12</text>
<text transform="translate(2153.4 824.3) scale(0.947 1)" font-size="32" text-anchor="start">8</text>
<text transform="translate(2153.4 949.3) scale(0.947 1)" font-size="32" text-anchor="start">4</text>
<text transform="translate(1315.5 1112.9) scale(0.917 1)" font-size="32" text-anchor="middle">90N</text>
<text transform="translate(1448.3 1112.9) scale(0.917 1)" font-size="32" text-anchor="middle">60N</text>
<text transform="translate(1581.1 1112.9) scale(0.917 1)" font-size="32" text-anchor="middle">30N</text>
<text transform="translate(1713.9 1112.9) scale(0.917 1)" font-size="32" text-anchor="middle">0</text>
<text transform="translate(1846.6 1112.9) scale(0.917 1)" font-size="32" text-anchor="middle">30S</text>
<text transform="translate(1979.4 1112.9) scale(0.917 1)" font-size="32" text-anchor="middle">60S</text>
<text transform="translate(2112.2 1112.9) scale(0.917 1)" font-size="32" text-anchor="middle">90S</text>
<text x="1715" y="145.6" font-size="45.6" text-anchor="middle">f09.B-PI.tn15.cmip6.j01.re (yrs 601-700)</text>
<text transform="translate(1314 215) scale(0.961 1)" font-size="43.7" text-anchor="start">Stationary eddy momentum</text>
<text transform="translate(2113.7 223) scale(0.961 1)" font-size="43.7" text-anchor="end">m<tspan font-size="28.5" dy="-20.3">2</tspan><tspan dy="20.3">/s</tspan><tspan font-size="28.5" dy="-20.3">2</tspan></text>
<text transform="translate(1174.1 649.5) rotate(-90) scale(0.965 1)" font-size="47.4" text-anchor="middle">Pressure (mb)</text>
<text transform="translate(2243.1 649.5) rotate(-90) scale(0.972 1)" font-size="47.2" text-anchor="middle">Height (km)</text>
<clipPath id="cp3"><rect x="748.5" y="1516" width="796.7" height="798"/></clipPath>
<g clip-path="url(#cp3)">
<rect x="748.5" y="1516" width="796.7" height="798" fill="#FFEAD9"/>
<path d="M735.2 1503.2C739.5 1363.7 756.9 1500.7 761.2 1503.2C765.6 1505.7 761.3 1512.4 761.2 1518.1C761.1 1523.8 761 1528.8 760.8 1537.3C760.5 1545.9 760.2 1558.6 759.7 1569.3C759.3 1580 758.7 1590.6 758.2 1601.3C757.8 1611.9 757.2 1622.6 757 1633.3C756.7 1643.9 756.6 1652.8 756.5 1665.3C756.5 1677.7 756.5 1693.7 756.5 1707.9C756.6 1722.1 756.9 1736.3 757 1750.5C757 1764.8 757.1 1779 757 1793.2C756.8 1807.4 756.5 1821.6 756.1 1835.8C755.7 1850 755.2 1865.1 754.8 1878.5C754.5 1891.8 754.2 1902.6 754 1916C753.7 1929.4 753.3 1944.4 753.3 1958.6C753.4 1972.9 753.9 1990.6 754.4 2001.3C754.9 2011.9 755.5 2018.2 756.5 2022.6C757.6 2027.1 760.8 2027.9 760.8 2027.9C760.8 2027.9 762.6 2053.7 763.4 2065.3C764.1 2076.8 765.1 2097.2 765.1 2097.2C765.1 2097.2 766.2 2074.7 766.8 2065.3C767.3 2055.8 768.3 2040.7 768.3 2040.7C768.3 2040.7 769.7 2056.9 770.4 2065.3C771.1 2073.6 771.8 2083.7 772.5 2090.8C773.2 2097.9 773.9 2102.2 774.7 2107.9C775.4 2113.6 776.3 2117.8 776.8 2125C777.3 2132.1 777.3 2141.7 777.9 2150.5C778.4 2159.4 779.1 2170.1 780 2178.3C780.9 2186.4 782.1 2194.3 783.2 2199.6C784.2 2204.9 785.1 2208.1 786.4 2210.2C787.6 2212.4 789.8 2210.2 790.6 2212.4C791.5 2214.5 791.7 2218.4 791.7 2223C791.7 2227.7 791.2 2234.9 790.6 2240.1C790.1 2245.2 788.3 2251.1 788.5 2254C788.7 2256.8 791.7 2257.2 791.7 2257.2C791.7 2257.2 794 2257.2 794.9 2255C795.8 2252.9 796.3 2248.3 797 2244.4C797.8 2240.4 798.3 2235.5 799.2 2231.6C800.1 2227.6 800.9 2223.1 802.4 2220.5C803.8 2217.8 806.1 2217.6 807.7 2215.6C809.3 2213.5 810.5 2211.1 812 2208.1C813.4 2205.1 814.8 2201.4 816.2 2197.4C817.7 2193.5 819.3 2189.6 820.5 2184.7C821.7 2179.7 822.8 2173.3 823.7 2167.6C824.6 2161.9 825 2156.2 825.8 2150.5C826.6 2144.9 827.5 2138.8 828.6 2133.5C829.7 2128.2 830.9 2123 832.2 2118.6C833.5 2114.1 835.1 2109.7 836.5 2106.8C837.9 2104 839.5 2104.9 840.8 2101.5C842 2098.1 843.1 2092.6 843.9 2086.6C844.8 2080.5 845.4 2074.1 846.1 2065.3C846.8 2056.4 847.5 2043.9 848.2 2033.3C848.9 2022.6 849.5 2011.9 850.3 2001.3C851.2 1990.6 852.5 1980 853.5 1969.3C854.6 1958.6 855.9 1946.2 856.7 1937.3C857.6 1928.4 858.2 1924 858.9 1916C859.6 1908 860.1 1898.9 861 1889.1C861.9 1879.3 863.1 1867.8 864.2 1857.2C865.3 1846.5 866.4 1835.8 867.4 1825.2C868.4 1814.5 869.3 1803.8 870 1793.2C870.7 1782.5 871.1 1771.9 871.7 1761.2C872.2 1750.5 872.9 1738.1 873.4 1729.2C873.8 1720.3 874.3 1715.7 874.2 1707.9C874.1 1700.1 873.3 1691.2 872.7 1682.3C872.1 1673.4 871.1 1662.9 870.6 1654.6C870.1 1646.2 869.5 1632.2 869.5 1632.2C869.5 1632.2 868.6 1628.8 867.4 1624.7C866.2 1620.7 863.8 1614.1 862.1 1607.7C860.3 1601.3 858.3 1593.8 856.7 1586.4C855.1 1578.9 853.9 1571.1 852.5 1562.9C851.1 1554.7 849.5 1544.8 848.2 1537.3C847 1529.9 845.5 1523.8 845 1518.1C844.5 1512.4 806.6 1505.7 845 1503.2C883.4 1500.7 1036.9 1500.7 1075.3 1503.2C1113.7 1505.7 1074.4 1513.9 1075.3 1518.1C1076.2 1522.4 1079.2 1524.9 1080.6 1528.8C1082 1532.7 1082.9 1536.6 1083.8 1541.6C1084.7 1546.6 1085.4 1551.2 1086 1558.6C1086.5 1566.1 1086.7 1577.5 1087 1586.4C1087.4 1595.2 1087.7 1604.3 1088.1 1611.9C1088.4 1619.6 1089.2 1632.2 1089.2 1632.2C1089.2 1632.2 1092.7 1635.2 1095.5 1636.5C1098.4 1637.7 1102.7 1639.4 1106.2 1639.7C1109.8 1639.9 1113.3 1638.2 1116.9 1638C1120.4 1637.7 1124.9 1637.3 1127.5 1638C1130.2 1638.6 1131.4 1639.7 1132.9 1641.8C1134.3 1643.9 1135 1646.4 1136.1 1650.3C1137.1 1654.2 1138.4 1659.9 1139.3 1665.3C1140.1 1670.6 1140.7 1677 1141.4 1682.3C1142.1 1687.6 1142.9 1692.8 1143.5 1697.2C1144.1 1701.7 1145 1709 1145 1709C1145 1709 1148 1709 1148 1709C1148 1709 1162.2 1709.2 1169.3 1709.6C1176.4 1710 1184.2 1710.5 1190.6 1711.1C1197 1711.7 1203.1 1712.8 1207.7 1713.2C1212.3 1713.7 1214.8 1713.9 1218.4 1713.9C1221.9 1713.9 1225.8 1713.2 1229 1713.2C1232.2 1713.3 1234.7 1713.4 1237.6 1714.3C1240.4 1715.2 1243.6 1716.6 1246.1 1718.6C1248.6 1720.5 1250.5 1723 1252.5 1726C1254.4 1729 1256.2 1732.6 1257.8 1736.7C1259.4 1740.8 1260.8 1746.1 1262.1 1750.5C1263.3 1755 1264.3 1758.7 1265.3 1763.3C1266.2 1768 1267 1773.3 1267.8 1778.3C1268.6 1783.2 1269.4 1787.1 1270 1793.2C1270.5 1799.2 1270.7 1807.4 1271 1814.5C1271.3 1821.6 1271.5 1828.7 1271.7 1835.8C1271.8 1842.9 1271.9 1850 1272.1 1857.2C1272.3 1864.3 1272.9 1872.1 1272.7 1878.5C1272.6 1884.9 1271.8 1889.3 1271.2 1895.5C1270.6 1901.8 1269.7 1912.6 1269.1 1916C1268.5 1919.4 1268.2 1913.2 1267.4 1916C1266.6 1918.8 1265.3 1926.7 1264.2 1933.1C1263.1 1939.5 1262.1 1946.6 1261 1954.4C1259.9 1962.2 1258.9 1971.4 1257.8 1980C1256.7 1988.5 1255.7 1997.7 1254.6 2005.6C1253.5 2013.4 1252.7 2020.5 1251.4 2026.9C1250.2 2033.3 1248.7 2039.3 1247.1 2043.9C1245.5 2048.6 1243.6 2051.9 1241.8 2054.6C1240 2057.3 1238.1 2059 1236.5 2059.9C1234.9 2060.8 1233.6 2061.2 1232.2 2059.9C1230.8 2058.7 1229.1 2055.8 1228 2052.5C1226.8 2049.1 1225.4 2044.6 1225.4 2039.7C1225.4 2034.7 1227.2 2029 1228 2022.6C1228.7 2016.2 1229.4 2008.4 1230.1 2001.3C1230.8 1994.2 1231.5 1987.1 1232.2 1980C1232.9 1972.9 1233.7 1964 1234.4 1958.6C1235 1953.3 1236 1951.5 1235.8 1948C1235.7 1944.4 1234.2 1941.2 1233.3 1937.3C1232.3 1933.4 1231.1 1928.1 1230.1 1924.5C1229.1 1921 1228.7 1919.4 1227.3 1916C1225.9 1912.6 1223.4 1907.5 1221.6 1904.1C1219.7 1900.6 1218.2 1898.2 1216.2 1895.5C1214.3 1892.9 1212.3 1890.4 1209.8 1888.1C1207.3 1885.8 1203.8 1883.2 1201.3 1881.7C1198.8 1880.1 1197 1879 1194.9 1878.9C1192.8 1878.8 1191.4 1879.5 1188.5 1881C1185.7 1882.6 1181.4 1885.7 1177.9 1888.1C1174.3 1890.5 1170.4 1892.9 1167.2 1895.5C1164 1898.2 1160.8 1900.6 1158.7 1904.1C1156.5 1907.5 1155.7 1912.4 1154.4 1916C1153.1 1919.6 1152.3 1919.6 1151 1925.4C1149.7 1931.2 1146.7 1941 1146.7 1951C1146.7 1960.9 1149.9 1973.7 1151 1985.1C1152.1 1996.5 1153.6 2010 1153.1 2019.2C1152.6 2028.4 1148.5 2034.6 1148 2040.5C1147.5 2046.4 1149.2 2048.7 1150.1 2054.6C1151 2060.5 1152.3 2069.5 1153.3 2075.9C1154.4 2082.3 1155.5 2088.2 1156.5 2093C1157.6 2097.8 1159.7 2104.7 1159.7 2104.7C1159.7 2104.7 1156.2 2112 1154.4 2116.4C1152.6 2120.9 1149.1 2131.4 1149.1 2131.4C1149.1 2131.4 1151.7 2138.1 1153.3 2142C1154.9 2145.9 1156.9 2149.8 1158.7 2154.8C1160.4 2159.8 1162.4 2166.5 1164 2171.9C1165.6 2177.2 1167 2183.2 1168.3 2186.8C1169.5 2190.3 1170.4 2191.5 1171.5 2193.2C1172.5 2194.9 1174.7 2197 1174.7 2197C1174.7 2197 1177 2195.2 1177.9 2193.2C1178.7 2191.1 1179.3 2187.5 1180 2184.7C1180.7 2181.8 1181.2 2178.6 1182.1 2176.1C1183 2173.6 1184.1 2171.4 1185.3 2169.7C1186.6 2168 1188 2166.8 1189.6 2165.9C1191.2 2165 1193.3 2164.1 1194.9 2164.4C1196.5 2164.7 1197.9 2166.5 1199.2 2167.6C1200.4 2168.7 1202.4 2170.8 1202.4 2170.8C1202.4 2170.8 1205.2 2168.8 1206.6 2169.3C1208.1 2169.8 1210 2171.4 1210.9 2174C1211.8 2176.6 1211.8 2180.7 1212 2184.7C1212.1 2188.6 1211.6 2193.2 1212 2197.4C1212.3 2201.7 1213.2 2206 1214.1 2210.2C1215 2214.5 1216.1 2219.5 1217.3 2223C1218.5 2226.6 1219.6 2229.4 1221.6 2231.6C1223.5 2233.7 1226.4 2234.8 1229 2235.8C1231.7 2236.9 1235.1 2236.7 1237.6 2238C1240 2239.2 1241.8 2241.3 1243.9 2243.3C1246.1 2245.2 1248.7 2247.4 1250.3 2249.7C1251.9 2252 1252.5 2254.5 1253.5 2257.2C1254.6 2259.8 1255.9 2262.1 1256.7 2265.7C1257.6 2269.2 1258.8 2275.3 1258.4 2278.5C1258.1 2281.7 1256.1 2283.3 1254.6 2284.9C1253.1 2286.5 1250.9 2287.4 1249.3 2288.1C1247.7 2288.7 1245 2288.7 1245 2288.7C1245 2288.7 1243.9 2293.4 1243.9 2293.4C1243.9 2293.4 1247.9 2295.5 1250.3 2296.6C1252.8 2297.7 1256 2298.6 1258.9 2299.8C1261.7 2301 1264.6 2302.6 1267.4 2304.1C1270.2 2305.5 1273.8 2307.3 1275.9 2308.3C1278.1 2309.3 1278.1 2310 1280.2 2310C1282.3 2310 1285.9 2309.1 1288.7 2308.3C1291.6 2307.5 1294.8 2306.2 1297.3 2305.1C1299.7 2304.1 1301.5 2303.3 1303.7 2301.9C1305.8 2300.5 1307.9 2298.4 1310 2296.6C1312.2 2294.8 1314.3 2293.2 1316.4 2291.3C1318.6 2289.3 1320.7 2286.6 1322.8 2284.9C1325 2283.2 1327.1 2281.7 1329.2 2281C1331.4 2280.3 1333.5 2280.1 1335.6 2280.6C1337.8 2281.1 1340.1 2282.4 1342 2283.8C1344 2285.2 1346.1 2287.4 1347.4 2289.1C1348.6 2290.9 1349.5 2292.7 1349.5 2294.5C1349.5 2296.2 1348.6 2298 1347.4 2299.8C1346.1 2301.6 1344 2303.3 1342 2305.1C1340.1 2306.9 1337.4 2308.6 1335.6 2310.5C1333.9 2312.3 1332.1 2311 1331.4 2316C1330.7 2321 1430.7 2336.3 1331.4 2340.3C1232 2344.4 834.6 2479.8 735.2 2340.3C635.8 2200.8 730.9 1642.7 735.2 1503.2Z" fill="#D6EAFF"/>
<path d="M1030.5 1951.8C1032.5 1951.6 1033.4 1953.2 1034.8 1955.4C1036.2 1957.6 1037.6 1961.3 1039 1965C1040.5 1968.8 1041.9 1973.2 1043.3 1977.8C1044.7 1982.5 1046.3 1987.8 1047.6 1992.8C1048.8 1997.7 1049.7 2002.7 1050.8 2007.7C1051.8 2012.7 1052.7 2017.3 1054 2022.6C1055.2 2027.9 1056.8 2034 1058.2 2039.7C1059.7 2045.4 1060.9 2051.4 1062.5 2056.7C1064.1 2062.1 1066.2 2066.7 1067.8 2071.7C1069.4 2076.6 1070.9 2082.7 1072.1 2086.6C1073.3 2090.5 1073.9 2092.6 1075.3 2095.1C1076.7 2097.6 1079 2099.5 1080.6 2101.5C1082.2 2103.5 1083.5 2105.1 1084.9 2106.8C1086.3 2108.6 1087.6 2111.3 1089.2 2112.2C1090.8 2113 1092.7 2112.8 1094.5 2111.7C1096.3 2110.7 1097.9 2107.5 1099.8 2105.8C1101.8 2104.1 1104.1 2102.6 1106.2 2101.5C1108.3 2100.4 1110.5 2099.3 1112.6 2098.9C1114.7 2098.6 1117.2 2098.4 1119 2099.4C1120.8 2100.3 1122.3 2101.9 1123.3 2104.7C1124.3 2107.5 1124.5 2112 1125 2116.4C1125.4 2120.9 1126.5 2127.4 1125.8 2131.4C1125.2 2135.3 1123 2137.6 1121.1 2139.9C1119.3 2142.2 1116.9 2143.8 1114.7 2145.2C1112.6 2146.6 1110.5 2147 1108.3 2148.4C1106.2 2149.8 1103.5 2151.6 1101.9 2153.7C1100.3 2155.9 1099.6 2158.2 1098.7 2161.2C1097.9 2164.2 1097.2 2168 1096.6 2171.9C1096 2175.8 1095.5 2179.3 1095.1 2184.7C1094.8 2190 1094.8 2197.1 1094.5 2203.8C1094.2 2210.6 1094.1 2218.8 1093.4 2225.2C1092.7 2231.6 1091.3 2237.3 1090.2 2242.2C1089.2 2247.2 1088.1 2251.1 1087 2255C1086 2258.9 1084.8 2262.8 1083.8 2265.7C1082.8 2268.6 1081 2272.5 1081 2272.5C1081 2272.5 1078.6 2270 1077.4 2267.8C1076.3 2265.6 1075.3 2262.5 1074.2 2259.3C1073.2 2256.1 1071.8 2253.2 1071 2248.6C1070.2 2244 1069.7 2238 1069.5 2231.6C1069.4 2225.2 1069.7 2217.4 1070 2210.2C1070.2 2203.1 1071 2196 1071 2188.9C1071 2181.8 1070.3 2172.6 1070 2167.6C1069.6 2162.6 1069.6 2161 1068.9 2159.1C1068.2 2157.1 1065.7 2155.9 1065.7 2155.9C1065.7 2155.9 1061.8 2159.2 1059.3 2161.2C1056.8 2163.2 1053.4 2165.5 1050.8 2167.6C1048.1 2169.7 1045.3 2171.9 1043.3 2174C1041.4 2176.1 1040.3 2178.1 1039 2180.4C1037.8 2182.7 1037.1 2185.5 1035.8 2187.9C1034.6 2190.2 1032.7 2192.3 1031.6 2194.3C1030.4 2196.2 1029.4 2196.2 1029 2199.6C1028.7 2203 1028.8 2209.5 1029.4 2214.5C1030.1 2219.5 1031.6 2225.2 1032.6 2229.4C1033.7 2233.7 1034.9 2237.1 1035.8 2240.1C1036.8 2243.1 1038.4 2247.6 1038.4 2247.6C1038.4 2247.6 1035 2250.6 1033.7 2251.8C1032.4 2253.1 1031.6 2254.2 1030.5 2255C1029.4 2255.8 1027.3 2256.7 1027.3 2256.7C1027.3 2256.7 1025.9 2252.1 1025.2 2248.6C1024.5 2245.1 1023.9 2239.4 1023.1 2235.8C1022.2 2232.3 1019.9 2227.3 1019.9 2227.3C1019.9 2227.3 1015.1 2227.8 1012.4 2228.4C1009.7 2228.9 1003.9 2230.5 1003.9 2230.5C1003.9 2230.5 1003 2240.3 1002.8 2246.5C1002.6 2252.7 1002.7 2262.5 1002.8 2267.8C1002.9 2273.1 1003.2 2278.5 1003.2 2278.5C1003.2 2278.5 1001.6 2275.8 1000.7 2274.2C999.7 2272.6 997.5 2268.9 997.5 2268.9C997.5 2268.9 993.2 2271.7 993.2 2271.7C993.2 2271.7 988.9 2268.9 988.9 2268.9C988.9 2268.9 982.5 2271 982.5 2271C982.5 2271 979.7 2270 978.3 2270.4C976.9 2270.7 974 2273.1 974 2273.1C974 2273.1 969.7 2271 969.7 2271C969.7 2271 964.4 2271.7 964.4 2271.7C964.4 2271.7 962.5 2267.6 961.2 2265.7C960 2263.8 957 2260.3 957 2260.3C957 2260.3 953.8 2268.9 953.8 2268.9C953.8 2268.9 951.6 2267.3 950.6 2265.7C949.5 2264.1 948.2 2262.5 947.4 2259.3C946.5 2256.1 946.1 2251.1 945.2 2246.5C944.3 2241.9 943.3 2236.9 942 2231.6C940.8 2226.2 939 2220.9 937.8 2214.5C936.5 2208.1 935.6 2200.3 934.6 2193.2C933.5 2186.1 932.3 2179 931.4 2171.9C930.4 2164.8 929.4 2157.6 928.8 2150.5C928.2 2143.4 927.8 2136.3 927.5 2129.2C927.2 2122.1 927.1 2115 927.1 2107.9C927.1 2100.8 927.2 2093.7 927.5 2086.6C927.8 2079.5 928.2 2071.7 928.8 2065.3C929.4 2058.9 930.2 2052.8 930.9 2048.2C931.7 2043.6 931.9 2041.4 933.1 2037.5C934.2 2033.6 936.1 2028.1 937.8 2024.7C939.4 2021.4 941.3 2019 943.1 2017.3C944.9 2015.6 946.6 2015 948.4 2014.5C950.2 2014 952 2013.9 953.8 2014.5C955.5 2015.1 957.1 2016.4 959.1 2017.9C961 2019.4 963.5 2022.3 965.5 2023.7C967.4 2025.1 969 2026.3 970.8 2026.4C972.6 2026.6 974.4 2026.1 976.1 2024.7C977.9 2023.4 979.7 2020.8 981.5 2018.3C983.3 2015.9 984.9 2012.3 986.8 2009.8C988.8 2007.3 991.4 2005.6 993.2 2003.4C995 2001.3 995.7 1999.3 997.5 1997C999.2 1994.7 1001.7 1992.8 1003.9 1989.6C1006 1986.4 1008.1 1981.7 1010.3 1977.8C1012.4 1973.9 1014.5 1969.7 1016.7 1966.1C1018.8 1962.6 1020.7 1958.9 1023.1 1956.5C1025.4 1954.1 1028.6 1952 1030.5 1951.8Z" fill="#FFEAD9"/>
<path d="M1091.7 1745.9C1093.2 1745.1 1094.1 1746.6 1095.1 1748.4C1096.1 1750.3 1097 1753 1097.7 1756.9C1098.4 1760.8 1098.9 1766.5 1099.4 1771.9C1099.9 1777.2 1101.2 1785.4 1100.9 1788.9C1100.6 1792.5 1099.3 1792.2 1097.7 1793.2C1096.1 1794.2 1093.6 1794.9 1091.3 1794.9C1089 1794.9 1085.8 1794.2 1083.8 1793.2C1081.8 1792.2 1079.7 1791.8 1079.1 1788.9C1078.6 1786.1 1080 1780.4 1080.6 1776.1C1081.2 1771.9 1081.9 1767.2 1082.8 1763.3C1083.6 1759.4 1084.5 1755.6 1086 1752.7C1087.4 1749.8 1090.2 1746.6 1091.7 1745.9Z" fill="#FFEAD9"/>
<path d="M735.2 2257.2C738.2 2244 750.1 2259.6 753.3 2261.4C756.6 2263.2 754.3 2265.7 754.8 2267.8C755.4 2269.9 755.7 2271.7 756.5 2274.2C757.3 2276.7 758.5 2280.1 759.7 2282.7C761 2285.4 764 2290.2 764 2290.2C764 2290.2 768.3 2284.9 768.3 2284.9C768.3 2284.9 772.5 2294.5 772.5 2294.5C772.5 2294.5 778.2 2291.2 780 2291.7C781.8 2292.2 781.6 2296 783.2 2297.7C784.8 2299.4 789.6 2301.9 789.6 2301.9C789.6 2301.9 793.8 2297.7 793.8 2297.7C793.8 2297.7 795.1 2301.9 797 2303C799 2304.1 803.1 2304.3 805.6 2304.5C808.1 2304.7 810.3 2303.6 812 2304.1C813.7 2304.5 815.8 2306 815.8 2307.3C815.8 2308.5 813.7 2310.5 812 2311.5C810.3 2312.6 806.6 2308.9 805.6 2313.7C804.5 2318.5 817.3 2335.9 805.6 2340.3C793.8 2344.7 746.9 2354.2 735.2 2340.3C723.5 2326.4 732.2 2270.3 735.2 2257.2Z" fill="#FFEAD9"/>
<path d="M833.3 2340.3C828 2336.3 833.4 2321.7 833.3 2316C833.2 2310.3 832.5 2309.2 832.9 2306.2C833.2 2303.1 835.4 2297.7 835.4 2297.7C835.4 2297.7 837.4 2299.8 838.6 2300.9C839.9 2301.9 842.9 2304.1 842.9 2304.1C842.9 2304.1 845.5 2299.8 847.1 2297.7C848.7 2295.5 852.5 2291.3 852.5 2291.3C852.5 2291.3 855 2294.6 856.7 2296.6C858.5 2298.6 862.4 2301 863.1 2303C863.8 2304.9 860.7 2306.2 861 2308.3C861.4 2310.5 864.6 2310.7 865.3 2316C866 2321.3 870.6 2336.3 865.3 2340.3C859.9 2344.4 838.6 2344.4 833.3 2340.3Z" fill="#FFEAD9"/>
<path d="M838.6 2281C839.3 2280.8 841.6 2282.2 841.8 2283.2C842.1 2284.2 840.8 2286.8 840.1 2287C839.5 2287.2 838.2 2285.4 838 2284.4C837.7 2283.4 838 2281.2 838.6 2281Z" fill="#FFEAD9"/>
<path d="M1120.1 2201.7C1120.1 2201.7 1117.8 2209.5 1116.9 2214.5C1116 2219.5 1115.4 2225.9 1114.7 2231.6C1114 2237.3 1112.4 2244.4 1112.6 2248.6C1112.8 2252.9 1114 2254.8 1115.8 2257.2C1117.6 2259.5 1120.6 2261.1 1123.3 2262.5C1125.9 2263.9 1129 2264.4 1131.8 2265.7C1134.6 2266.9 1137.6 2268.3 1140.3 2269.9C1143 2271.5 1145.8 2273.1 1148 2275.3C1150.2 2277.4 1151.9 2280.1 1153.3 2282.7C1154.8 2285.4 1155.8 2287.7 1156.5 2291.3C1157.2 2294.8 1157.6 2299.9 1157.6 2304.1C1157.6 2308.2 1156.7 2310 1156.5 2316C1156.4 2322 1144.6 2336.3 1156.5 2340.3C1168.4 2344.4 1216.1 2344.4 1228 2340.3C1239.9 2336.3 1227.4 2320.6 1228 2316C1228.5 2311.4 1230.8 2314.2 1231.2 2312.6C1231.5 2311 1231.5 2308.5 1230.1 2306.2C1228.7 2303.9 1225.6 2300.3 1222.6 2298.7C1219.6 2297.1 1215.3 2297.8 1212 2296.6C1208.6 2295.4 1204.9 2293.2 1202.4 2291.3C1199.9 2289.3 1199 2288.4 1197 2284.9C1195.1 2281.3 1193.1 2274.2 1190.6 2269.9C1188.2 2265.7 1184.4 2262.8 1182.1 2259.3C1179.8 2255.7 1177.5 2253.2 1176.8 2248.6C1176.1 2244 1177.9 2237.3 1177.9 2231.6C1177.9 2225.9 1177.3 2220.3 1176.8 2214.5C1176.3 2208.8 1174.7 2197 1174.7 2197C1174.7 2197 1172.7 2199.2 1171.5 2200.6C1170.2 2202.1 1169 2204 1167.2 2206C1165.4 2207.9 1162.9 2210.8 1160.8 2212.4C1158.7 2214 1156.5 2215.2 1154.4 2215.6C1152.3 2215.9 1150.7 2215.4 1148 2214.5C1145.3 2213.6 1141.6 2211.8 1138.2 2210.2C1134.8 2208.6 1130.6 2206.3 1127.5 2204.9C1124.5 2203.5 1120.1 2201.7 1120.1 2201.7Z" fill="#FFEAD9"/>
<path d="M1113.7 1503.2C1110.4 1505.7 1113 1514.6 1113.7 1518.1C1114.4 1521.7 1116.5 1522.7 1117.9 1524.5C1119.4 1526.4 1120.6 1528.3 1122.2 1529.2C1123.8 1530.1 1126.1 1530.6 1127.5 1529.9C1129 1529.1 1129.7 1526.5 1130.7 1524.5C1131.7 1522.6 1133 1521.7 1133.5 1518.1C1134 1514.6 1136.8 1505.7 1133.5 1503.2C1130.2 1500.7 1117 1500.7 1113.7 1503.2Z" fill="#D6EAFF"/>
<path d="M1187.4 1503.2C1183.4 1505.7 1186.9 1514.2 1187.4 1518.1C1188 1522 1189.4 1524 1190.6 1526.7C1191.9 1529.3 1193.5 1532.2 1194.9 1534.1C1196.3 1536 1197.7 1538 1199.2 1538C1200.7 1538 1202.3 1536 1203.9 1534.1C1205.5 1532.2 1207.4 1529.3 1208.8 1526.7C1210.1 1524 1211.4 1522 1212 1518.1C1212.5 1514.2 1216.1 1505.7 1212 1503.2C1207.9 1500.7 1191.5 1500.7 1187.4 1503.2Z" fill="#D6EAFF"/>
<path d="M1542 1503.2C1540.1 1516 1541.7 1556.5 1541.4 1580C1541.1 1603.4 1540.9 1626.2 1540.3 1643.9C1539.7 1661.7 1538.5 1672.4 1537.8 1686.6C1537.1 1700.8 1536.5 1715 1536.1 1729.2C1535.6 1743.4 1535.1 1759.4 1535 1771.9C1534.9 1784.3 1535.3 1795.7 1535.6 1803.8C1536 1812 1537.1 1820.9 1537.1 1820.9C1537.1 1820.9 1539.4 1814.9 1540.3 1810.2C1541.3 1805.6 1540.8 1806.7 1542.9 1793.2C1545 1779.7 1551.4 1777.5 1553.1 1729.2C1554.8 1680.9 1555 1540.9 1553.1 1503.2C1551.3 1465.5 1544 1490.4 1542 1503.2Z" fill="#D6EAFF"/>
<path d="M1366.6 2276.3C1367.1 2275.1 1369.2 2273.5 1370.8 2273.1C1372.4 2272.8 1374.4 2273 1376.1 2274.2C1377.9 2275.5 1379.7 2278.3 1381.5 2280.6C1383.3 2282.9 1385.2 2286.5 1386.8 2288.1C1388.4 2289.7 1389.8 2290 1391.1 2290.2C1392.3 2290.4 1394.3 2289.1 1394.3 2289.1C1394.3 2289.1 1395.7 2283.1 1396.4 2278.5C1397.1 2273.9 1397.6 2267.1 1398.5 2261.4C1399.4 2255.7 1400.7 2249.3 1401.7 2244.4C1402.8 2239.4 1403.9 2234.5 1404.9 2231.6C1406 2228.7 1406.9 2227.6 1408.1 2226.9C1409.4 2226.2 1411 2225.8 1412.4 2227.3C1413.8 2228.8 1415.2 2232.3 1416.7 2235.8C1418.1 2239.4 1419.7 2244.4 1420.9 2248.6C1422.2 2252.9 1423.1 2257.2 1424.1 2261.4C1425.2 2265.7 1426.1 2271 1427.3 2274.2C1428.6 2277.4 1431.6 2280.6 1431.6 2280.6C1431.6 2280.6 1433.9 2276.3 1434.8 2274.2C1435.7 2272.1 1436.9 2267.8 1436.9 2267.8C1436.9 2267.8 1438.4 2274.6 1438.4 2278.5C1438.4 2282.4 1437.7 2287.4 1436.9 2291.3C1436.1 2295.2 1434.6 2299.2 1433.7 2301.9C1432.8 2304.7 1431.9 2301.5 1431.6 2307.9C1431.2 2314.3 1439.4 2334.9 1431.6 2340.3C1423.8 2345.7 1392.5 2345.7 1384.7 2340.3C1376.9 2334.9 1385 2314.6 1384.7 2307.9C1384.3 2301.1 1383.8 2302.6 1382.5 2299.8C1381.3 2297 1379.2 2293.8 1377.2 2291.3C1375.3 2288.8 1372.4 2286.6 1370.8 2284.9C1369.2 2283.1 1368.3 2282 1367.6 2280.6C1366.9 2279.2 1366 2277.6 1366.6 2276.3Z" fill="#D6EAFF"/>
<path d="M1461.4 2204.9C1461.4 2204.9 1464.6 2207.2 1465.7 2210.2C1466.8 2213.3 1466.9 2219.8 1467.8 2223C1468.7 2226.2 1469.8 2227.7 1471 2229.4C1472.3 2231.2 1474.8 2230.5 1475.3 2233.7C1475.8 2236.9 1474.3 2243.3 1473.8 2248.6C1473.3 2254 1472.7 2260.7 1472.1 2265.7C1471.5 2270.7 1471 2275.6 1470 2278.5C1468.9 2281.3 1467.3 2281.3 1465.7 2282.7C1464.1 2284.2 1462.1 2285.6 1460.4 2287C1458.6 2288.4 1456.8 2290.4 1455 2291.3C1453.3 2292.2 1449.7 2292.3 1449.7 2292.3C1449.7 2292.3 1445.3 2287.5 1444.8 2284.9C1444.3 2282.2 1445.7 2280.3 1446.5 2276.3C1447.3 2272.4 1448.6 2266.7 1449.7 2261.4C1450.8 2256.1 1451.8 2250 1452.9 2244.4C1454 2238.7 1455.2 2232.3 1456.1 2227.3C1457 2222.3 1457.3 2218.2 1458.2 2214.5C1459.1 2210.8 1461.4 2204.9 1461.4 2204.9Z" fill="#D6EAFF"/>
<path d="M1494.5 2215.6C1494.5 2215.6 1498.7 2220.9 1498.7 2220.9C1498.7 2220.9 1501.4 2220.7 1503 2219.8C1504.6 2218.9 1508.3 2215.6 1508.3 2215.6C1508.3 2215.6 1511.5 2220.9 1511.5 2220.9C1511.5 2220.9 1515.8 2217.7 1515.8 2217.7C1515.8 2217.7 1518.6 2222.9 1520.1 2225.2C1521.5 2227.5 1522.7 2230.1 1524.3 2231.6C1525.9 2233 1524.9 2233.3 1529.7 2233.7C1534.5 2234.1 1549.2 2229.8 1553.1 2233.7C1557 2237.6 1557.7 2253.2 1553.1 2257.2C1548.5 2261.1 1530.7 2255.7 1525.4 2257.2C1520.1 2258.6 1522.6 2262.1 1521.1 2265.7C1519.7 2269.2 1518.5 2274.9 1516.9 2278.5C1515.3 2282 1513 2283.8 1511.5 2287C1510.1 2290.2 1508.3 2297.7 1508.3 2297.7C1508.3 2297.7 1504.1 2293.4 1504.1 2293.4C1504.1 2293.4 1501.4 2297.4 1499.8 2299.8C1498.2 2302.2 1495.4 2301.1 1494.5 2307.9C1493.6 2314.6 1495.7 2334.9 1494.5 2340.3C1493.2 2345.7 1488.3 2345.7 1487 2340.3C1485.8 2334.9 1487.4 2315 1487 2307.9C1486.6 2300.8 1484.6 2300.4 1484.5 2297.7C1484.3 2294.9 1485.2 2293.8 1486 2291.3C1486.7 2288.8 1488.7 2286.6 1489.2 2282.7C1489.6 2278.8 1488.4 2272.8 1488.7 2267.8C1489.1 2262.8 1491.2 2257.5 1491.3 2252.9C1491.4 2248.3 1489.3 2244.4 1489.2 2240.1C1489 2235.8 1489.3 2231.4 1490.2 2227.3C1491.1 2223.2 1494.5 2215.6 1494.5 2215.6Z" fill="#D6EAFF"/>
<path d="M1507.3 2248.6L1511.5 2244.4L1515.2 2248.6L1511.5 2254Z" fill="#B4CDFF"/>
<path d="M1515.8 2175.1C1516.9 2173.9 1521.7 2174.1 1523.3 2175.7C1524.8 2177.3 1524.9 2181 1525 2184.7C1525 2188.3 1524.5 2193.9 1523.7 2197.4C1522.9 2201 1520.1 2206 1520.1 2206C1520.1 2206 1518.5 2197.1 1517.9 2193.2C1517.3 2189.3 1516.8 2185.5 1516.4 2182.5C1516.1 2179.5 1514.7 2176.2 1515.8 2175.1Z" fill="#D6EAFF"/>
<path d="M1540.8 2197.4C1542.7 2194.3 1551.1 2194.3 1553.1 2197.4C1555.2 2200.6 1555.1 2213.4 1553.1 2216.6C1551.2 2219.8 1543.5 2219.8 1541.4 2216.6C1539.3 2213.4 1538.8 2200.6 1540.8 2197.4Z" fill="#D6EAFF"/>
<path d="M1189.6 2316C1188.8 2314.4 1189.9 2308.4 1190.6 2306.2C1191.4 2304 1193 2302.6 1193.8 2303C1194.7 2303.3 1195.7 2306.2 1196 2308.3C1196.2 2310.5 1196.4 2314.7 1195.3 2316C1194.3 2317.3 1190.4 2317.6 1189.6 2316Z" fill="#D6EAFF"/>
<path d="M1191.7 2296.6C1191.8 2295.5 1194.2 2293.5 1195.3 2293.4C1196.5 2293.3 1198.8 2294.9 1198.7 2296C1198.7 2297 1196.1 2299.7 1194.9 2299.8C1193.7 2299.9 1191.6 2297.7 1191.7 2296.6Z" fill="#D6EAFF"/>
<path d="M880.6 1503.2C869.4 1505.7 880 1513.2 880.6 1518.1C881.3 1523.1 883.1 1527.7 884.5 1533.1C885.8 1538.4 887.1 1544.8 888.7 1550.1C890.3 1555.4 892.3 1560.4 894.1 1565C895.8 1569.7 897.4 1573.7 899.4 1577.8C901.3 1581.9 903.7 1586.2 905.8 1589.6C907.9 1592.9 910.4 1596.2 912.2 1598.1C914 1600 914.7 1600.5 916.4 1600.9C918.2 1601.2 920.9 1601 922.8 1600.2C924.8 1599.4 926.4 1598.1 928.2 1596C929.9 1593.8 931.9 1590.8 933.5 1587.4C935.1 1584.1 936.5 1580.1 937.8 1575.7C939 1571.3 939.9 1566.1 941 1560.8C942 1555.4 943.3 1549 944.2 1543.7C945.1 1538.4 945.7 1533.1 946.3 1528.8C946.9 1524.5 947.5 1522.4 947.8 1518.1C948 1513.9 959 1505.7 947.8 1503.2C936.6 1500.7 891.8 1500.7 880.6 1503.2Z" fill="#B4CDFF"/>
<path d="M1000.7 1724.5C1004.6 1724.6 1008.7 1724.9 1012.4 1726C1016.1 1727.2 1019.7 1729 1023.1 1731.4C1026.4 1733.7 1030 1736.7 1032.6 1739.9C1035.3 1743.1 1037.1 1746.3 1039 1750.5C1041 1754.8 1043 1760.8 1044.4 1765.5C1045.8 1770.1 1046.6 1774.2 1047.6 1778.3C1048.5 1782.3 1050 1784.7 1050.1 1790C1050.3 1795.3 1049.2 1802.6 1048.6 1810.2C1048 1817.9 1047.4 1827.3 1046.5 1835.8C1045.6 1844.4 1044.4 1853.6 1043.3 1861.4C1042.2 1869.2 1041.5 1876.7 1040.1 1882.7C1038.7 1888.8 1036.6 1893.4 1034.8 1897.7C1033 1901.9 1031 1905.3 1029.4 1908.3C1027.9 1911.4 1026.6 1913.7 1025.2 1916C1023.8 1918.3 1022.7 1919.9 1020.9 1922.4C1019.1 1924.9 1016.7 1928.1 1014.5 1930.9C1012.4 1933.8 1009.7 1936.6 1008.1 1939.5C1006.5 1942.3 1006 1945.1 1004.9 1948C1003.9 1950.8 1003 1953.7 1001.7 1956.5C1000.5 1959.4 999.2 1962.4 997.5 1965C995.7 1967.7 993.2 1970.2 991.1 1972.5C988.9 1974.8 986.8 1977 984.7 1978.9C982.5 1980.8 980.2 1982.6 978.3 1983.8C976.3 1985 974.7 1985.9 972.9 1985.9C971.2 1986 969.4 1985.2 967.6 1984.2C965.8 1983.2 964.1 1981.6 962.3 1980C960.5 1978.4 958.7 1976.1 957 1974.6C955.2 1973.1 953.4 1971.7 951.6 1971C949.8 1970.3 948.1 1969.9 946.3 1970.4C944.5 1970.8 942.7 1972 941 1973.6C939.2 1975.2 937.4 1977.5 935.6 1980C933.9 1982.5 932.1 1985.7 930.3 1988.5C928.5 1991.3 926.6 1993.8 925 1997C923.4 2000.2 922.5 2003.8 920.7 2007.7C918.9 2011.6 916.4 2016.6 914.3 2020.5C912.2 2024.4 909.9 2027.8 907.9 2031.1C906 2034.5 904.2 2036.8 902.6 2040.7C901 2044.6 899.7 2049.8 898.3 2054.6C896.9 2059.4 895.5 2064.5 894.1 2069.5C892.6 2074.5 891.2 2080.6 889.8 2084.4C888.4 2088.3 885.5 2092.5 885.5 2092.5C885.5 2092.5 883.6 2091.8 882.3 2089.8C881.1 2087.7 879.3 2084.3 878.1 2080.2C876.8 2076.1 875.8 2071.3 874.9 2065.3C874 2059.2 873.3 2051 872.7 2043.9C872.2 2036.8 871.9 2029.7 871.7 2022.6C871.4 2015.5 871.2 2007.7 871.2 2001.3C871.3 1994.9 871.5 1991.3 872.1 1984.2C872.7 1977.1 873.9 1967.2 874.9 1958.6C875.9 1950.1 877 1940.2 878.1 1933.1C879.1 1926 879.5 1923 881.3 1916C883 1909 886.8 1898.9 888.7 1891.3C890.7 1883.6 891.6 1877.1 893 1869.9C894.4 1862.8 895.7 1855.7 897.3 1848.6C898.9 1841.5 900.8 1833.7 902.6 1827.3C904.4 1820.9 906.1 1815.2 907.9 1810.2C909.7 1805.3 911.5 1800.8 913.2 1797.4C915 1794.1 917.2 1792.3 918.6 1790C920 1787.7 920.4 1785.7 921.8 1783.6C923.2 1781.5 925.1 1778.8 927.1 1777.2C929.1 1775.6 931.2 1774.6 933.5 1774C935.8 1773.4 938.7 1774.6 941 1773.6C943.3 1772.5 945.4 1770 947.4 1767.6C949.3 1765.2 950.9 1762.3 952.7 1759.1C954.5 1755.9 956.4 1751.8 958 1748.4C959.6 1745 960.7 1741.5 962.3 1738.8C963.9 1736.1 965.3 1734.2 967.6 1732.4C969.9 1730.6 972.6 1729.3 976.1 1728.2C979.7 1727 984.9 1726 988.9 1725.4C993 1724.8 996.8 1724.4 1000.7 1724.5Z" fill="#B4CDFF"/>
<path d="M1117.9 1814.5C1119 1814.5 1119.2 1814.2 1120.1 1815.6C1121 1817 1122.6 1818.9 1123.3 1823C1124 1827.1 1123.9 1833.7 1124.3 1840.1C1124.8 1846.5 1125.3 1855 1125.8 1861.4C1126.4 1867.8 1126.9 1872.8 1127.5 1878.5C1128.2 1884.2 1128.8 1889.3 1129.7 1895.5C1130.6 1901.8 1131.8 1910.5 1132.9 1916C1133.9 1921.5 1135.2 1924.2 1136.1 1928.8C1136.9 1933.4 1137.6 1938.7 1137.8 1943.7C1137.9 1948.7 1137.6 1952.6 1137.1 1958.6C1136.7 1964.7 1135.7 1973.4 1135 1980C1134.3 1986.5 1133.9 1994 1132.9 1998.1C1131.8 2002.2 1130.2 2002.4 1128.6 2004.5C1127 2006.6 1125 2009.3 1123.3 2010.9C1121.5 2012.5 1119.7 2013.7 1117.9 2014.1C1116.2 2014.4 1114.4 2014.1 1112.6 2013C1110.8 2011.9 1108.9 2010.3 1107.3 2007.7C1105.7 2005 1104.4 2000.4 1103 1997C1101.6 1993.6 1100.2 1990.6 1098.7 1987.4C1097.3 1984.2 1095.9 1980.9 1094.5 1977.8C1093.1 1974.8 1091.8 1971.5 1090.2 1969.3C1088.6 1967.1 1086.8 1965.5 1084.9 1964.6C1082.9 1963.7 1080.6 1963.7 1078.5 1964C1076.4 1964.2 1074.2 1965.6 1072.1 1966.1C1070 1966.6 1067.5 1967.3 1065.7 1966.7C1063.9 1966.2 1062.9 1965 1061.4 1962.9C1060 1960.8 1058.2 1957.2 1057.2 1954.4C1056.1 1951.5 1055.2 1950.1 1055 1945.9C1054.9 1941.6 1055.5 1933.8 1056.1 1928.8C1056.7 1923.8 1057.8 1920.1 1058.9 1916C1059.9 1911.9 1061.5 1908.5 1062.5 1904.1C1063.5 1899.6 1063.9 1893.8 1064.6 1889.1C1065.3 1884.5 1065.9 1880.6 1066.8 1876.3C1067.7 1872.1 1068.7 1867.5 1070 1863.5C1071.2 1859.6 1072.6 1856.1 1074.2 1852.9C1075.8 1849.7 1077.4 1846.8 1079.6 1844.4C1081.7 1841.9 1084.4 1840.1 1087 1838C1089.7 1835.8 1093.1 1833.5 1095.5 1831.6C1098 1829.6 1099.8 1828.2 1101.9 1826.2C1104.1 1824.3 1106.4 1821.6 1108.3 1819.8C1110.3 1818.1 1112.1 1816.5 1113.7 1815.6C1115.3 1814.7 1116.9 1814.5 1117.9 1814.5Z" fill="#B4CDFF"/>
<path d="M1148 1780.4C1146.2 1783.6 1143.9 1786.8 1143.5 1790C1143.1 1793.2 1144.9 1796.2 1145.7 1799.6C1146.4 1803 1147.3 1807.4 1148 1810.2C1148.7 1813.1 1149.1 1814 1150.1 1816.6C1151.2 1819.3 1152.6 1823.4 1154.4 1826.2C1156.2 1829.1 1158.7 1832.1 1160.8 1833.7C1162.9 1835.3 1165.1 1835.8 1167.2 1835.8C1169.3 1835.8 1171.5 1835.3 1173.6 1833.7C1175.7 1832.1 1177.9 1828.9 1180 1826.2C1182.1 1823.6 1183.9 1820.7 1186.4 1817.7C1188.9 1814.7 1192.1 1811.3 1194.9 1808.1C1197.8 1804.9 1200.7 1801.6 1203.4 1798.5C1206.2 1795.4 1211.3 1789.6 1211.3 1789.6C1211.3 1789.6 1204.4 1782.5 1201.3 1779.3C1198.2 1776.2 1195.4 1773.3 1192.8 1770.8C1190.1 1768.3 1187.8 1766.1 1185.3 1764.4C1182.8 1762.7 1180.5 1761.4 1177.9 1760.8C1175.2 1760.1 1172 1760.1 1169.3 1760.6C1166.7 1761 1164.3 1761.6 1161.9 1763.3C1159.4 1765 1156.7 1768 1154.4 1770.8C1152.1 1773.6 1149.8 1777.2 1148 1780.4Z" fill="#B4CDFF"/>
<path d="M1113.7 2340.3C1108.9 2336.3 1113.8 2324.2 1113.7 2316C1113.6 2307.8 1112.9 2296.8 1113 2291.3C1113.2 2285.7 1113.6 2284.9 1114.7 2282.7C1115.9 2280.6 1117.9 2279.5 1120.1 2278.5C1122.2 2277.4 1125 2276.5 1127.5 2276.3C1130 2276.2 1132.7 2276.5 1135 2277.4C1137.3 2278.3 1139.7 2279.7 1141.4 2281.7C1143.1 2283.6 1144.5 2286.1 1145 2289.1C1145.5 2292.2 1145 2295.3 1144.6 2299.8C1144.2 2304.3 1142.8 2309.2 1142.5 2316C1142.1 2322.8 1147.3 2336.3 1142.5 2340.3C1137.7 2344.4 1118.5 2344.4 1113.7 2340.3Z" fill="#B4CDFF"/>
<path d="M1011.3 1791.5C1011.3 1791.5 1014 1792.5 1015 1795.3C1015.9 1798.1 1016.4 1804.2 1017.1 1808.1C1017.8 1812 1018.8 1813.4 1019.2 1818.8C1019.7 1824.1 1019.6 1833 1019.9 1840.1C1020.1 1847.2 1020.3 1854.3 1020.5 1861.4C1020.7 1868.5 1020.9 1882.7 1020.9 1882.7C1020.9 1882.7 1017.5 1889.8 1015.6 1893.4C1013.6 1897 1011.3 1900.3 1009.2 1904.1C1007.1 1907.8 1004.9 1912.6 1002.8 1916C1000.7 1919.4 998.4 1921.9 996.4 1924.5C994.4 1927.2 992.8 1929.5 991.1 1932C989.3 1934.5 987.3 1937 985.7 1939.5C984.1 1941.9 982.9 1945.1 981.5 1946.9C980.1 1948.7 978.8 1949.7 977.2 1950.1C975.6 1950.6 973.4 1950.2 971.9 1949.7C970.4 1949.2 968.9 1950.4 968 1946.9C967.2 1943.4 967 1933.9 966.6 1928.8C966.1 1923.6 965.4 1920.8 965.1 1916C964.7 1911.2 964.6 1905.3 964.4 1899.8C964.2 1894.3 963.5 1887 963.8 1882.7C964 1878.5 964.9 1878.5 965.9 1874.2C966.9 1869.9 968.4 1862.5 969.7 1857.2C971.1 1851.8 972.4 1846.8 974 1842.2C975.6 1837.6 977.4 1833.3 979.3 1829.4C981.3 1825.5 983.4 1822.1 985.7 1818.8C988 1815.4 990.7 1812.2 993.2 1809.2C995.7 1806.2 998.5 1803.1 1000.7 1800.6C1002.8 1798.2 1004.2 1795.8 1006 1794.3C1007.8 1792.7 1011.3 1791.5 1011.3 1791.5Z" fill="#86A8FF"/>
<path d="M1107.3 1859.3C1108.9 1859.5 1110.3 1860.3 1111.5 1862.5C1112.8 1864.6 1113.8 1868.3 1114.7 1872.1C1115.6 1875.8 1116.2 1880.3 1116.9 1884.9C1117.6 1889.5 1118.3 1894.6 1119 1899.8C1119.7 1905 1120.4 1911.5 1121.1 1916C1121.8 1920.5 1122.6 1923.1 1123.3 1926.7C1124 1930.2 1124.7 1933.8 1125.4 1937.3C1126.1 1940.9 1127.5 1948 1127.5 1948C1127.5 1948 1125.4 1954.6 1124.3 1957.6C1123.3 1960.6 1122.2 1964.2 1121.1 1966.1C1120.1 1968.1 1119.2 1969.1 1117.9 1969.3C1116.7 1969.5 1115.3 1968.9 1113.7 1967.2C1112.1 1965.4 1109.9 1961.8 1108.3 1958.6C1106.7 1955.4 1105.3 1951.5 1104.1 1948C1102.8 1944.4 1101.9 1941.2 1100.9 1937.3C1099.8 1933.4 1098.6 1928.1 1097.7 1924.5C1096.7 1921 1096.2 1919.4 1095.1 1916C1094.1 1912.6 1092.6 1908.2 1091.3 1904.1C1089.9 1899.9 1088.2 1894.8 1087 1891.3C1085.9 1887.7 1084.5 1882.7 1084.5 1882.7C1084.5 1882.7 1087.3 1878.8 1089.2 1876.3C1091 1873.9 1093.4 1870.3 1095.5 1867.8C1097.7 1865.3 1100 1862.8 1101.9 1861.4C1103.9 1860 1105.7 1859.1 1107.3 1859.3Z" fill="#86A8FF"/>
<path d="M913.2 1947.3C913.2 1946.9 915.3 1945.9 916.4 1945.9C917.6 1945.8 920.2 1946.7 920.3 1947.1C920.4 1947.6 918 1948.6 916.9 1948.6C915.7 1948.7 913.3 1947.8 913.2 1947.3Z" fill="#86A8FF"/>
<path d="M1319.6 1503.2C1290.7 1505.7 1319.8 1510.7 1319.6 1518.1C1319.5 1525.6 1318.9 1537.7 1318.6 1548C1318.2 1558.3 1317.8 1569.3 1317.5 1580C1317.2 1590.6 1317 1603.2 1316.9 1611.9C1316.7 1620.7 1316.3 1625.1 1316.4 1632.2C1316.6 1639.3 1317 1647.3 1317.5 1654.6C1318 1661.9 1318.9 1668.8 1319.6 1675.9C1320.4 1683 1321.1 1691.7 1321.8 1697.2C1322.5 1702.7 1322.7 1704.3 1323.9 1709C1325.1 1713.6 1327.3 1719.4 1329.2 1725C1331.2 1730.5 1333.1 1736 1335.6 1742C1338.1 1748.1 1341.7 1755.2 1344.2 1761.2C1346.6 1767.2 1348.4 1772.6 1350.6 1778.3C1352.7 1783.9 1354.8 1789.3 1357 1795.3C1359.1 1801.4 1361.2 1807.8 1363.4 1814.5C1365.5 1821.3 1367.6 1828.7 1369.7 1835.8C1371.9 1842.9 1374 1850 1376.1 1857.2C1378.3 1864.3 1381.1 1874.2 1382.5 1878.5C1384 1882.7 1383.8 1879.2 1384.7 1882.7C1385.6 1886.3 1386.6 1894.3 1387.9 1899.8C1389.1 1905.3 1390.7 1911.9 1392.1 1916C1393.6 1920.1 1394.8 1921.7 1396.4 1924.5C1398 1927.4 1399.6 1930.4 1401.7 1933.1C1403.9 1935.7 1406.7 1938.4 1409.2 1940.5C1411.7 1942.7 1414.5 1944.3 1416.7 1945.9C1418.8 1947.4 1420.6 1949.5 1422 1950.1C1423.4 1950.8 1423.8 1950.6 1425.2 1949.7C1426.6 1948.8 1428.7 1947.2 1430.5 1944.8C1432.3 1942.4 1434.2 1938.6 1435.8 1935.2C1437.4 1931.8 1438.8 1927.7 1440.1 1924.5C1441.5 1921.3 1442.5 1919.4 1443.9 1916C1445.4 1912.6 1446.8 1908.9 1448.6 1904.1C1450.5 1899.2 1453.3 1893 1455 1887C1456.8 1881 1457.9 1874.6 1459.3 1867.8C1460.7 1861.1 1462.3 1855.4 1463.6 1846.5C1464.8 1837.6 1465.7 1826.9 1466.8 1814.5C1467.8 1802.1 1469.1 1784.3 1470 1771.9C1470.9 1759.4 1471.4 1750.5 1472.1 1739.9C1472.8 1729.2 1473.5 1718.6 1474.2 1707.9C1474.9 1697.2 1475.7 1684.8 1476.4 1675.9C1477 1667 1477.6 1661.9 1478.1 1654.6C1478.5 1647.3 1478.5 1637.5 1478.9 1632.2C1479.3 1626.9 1479.8 1627.8 1480.6 1622.6C1481.4 1617.5 1482.8 1608.4 1483.8 1601.3C1484.9 1594.2 1486 1587.1 1487 1580C1488.1 1572.9 1489.3 1565.8 1490.2 1558.6C1491.1 1551.5 1491.8 1544.1 1492.3 1537.3C1492.9 1530.6 1493.2 1523.8 1493.4 1518.1C1493.6 1512.4 1522.4 1505.7 1493.4 1503.2C1464.5 1500.7 1348.6 1500.7 1319.6 1503.2Z" fill="#FFCDB4"/>
<path d="M1365.1 1503.2C1347.5 1505.7 1365.3 1510.7 1365.1 1518.1C1364.8 1525.6 1364.1 1537.7 1363.8 1548C1363.4 1558.3 1363.2 1569.3 1362.9 1580C1362.7 1590.6 1362.4 1603.2 1362.3 1611.9C1362.2 1620.7 1361.8 1625.1 1362.3 1632.2C1362.8 1639.3 1364.2 1647.3 1365.5 1654.6C1366.7 1661.9 1368.3 1668.8 1369.7 1675.9C1371.2 1683 1372.9 1691.7 1374 1697.2C1375.1 1702.7 1375.1 1703.6 1376.1 1709C1377.2 1714.3 1379 1723 1380.4 1729.2C1381.8 1735.4 1383.3 1740.2 1384.7 1746.3C1386.1 1752.3 1387.5 1759.1 1388.9 1765.5C1390.4 1771.9 1391.6 1779 1393.2 1784.7C1394.8 1790.3 1396.8 1795.3 1398.5 1799.6C1400.3 1803.8 1402.1 1807.4 1403.9 1810.2C1405.6 1813.1 1407.6 1815.3 1409.2 1816.6C1410.8 1818 1411.9 1818.3 1413.5 1818.1C1415.1 1818 1417 1817.2 1418.8 1815.6C1420.6 1813.9 1422.3 1811.5 1424.1 1808.1C1425.9 1804.7 1427.9 1799.9 1429.4 1795.3C1431 1790.7 1432.3 1786.1 1433.7 1780.4C1435.1 1774.7 1436.6 1768 1438 1761.2C1439.3 1754.5 1440.6 1748.6 1441.8 1739.9C1443.1 1731.2 1444.3 1718.6 1445.4 1709C1446.6 1699.4 1447.6 1691.4 1448.6 1682.3C1449.7 1673.2 1450.8 1662.9 1451.8 1654.6C1452.9 1646.2 1454 1640 1455 1632.2C1456.1 1624.4 1457 1616.4 1458.2 1607.7C1459.5 1599 1461.1 1589.6 1462.5 1580C1463.9 1570.4 1465.4 1560.4 1466.8 1550.1C1468.1 1539.8 1469.8 1526 1470.4 1518.1C1471 1510.3 1487.9 1505.7 1470.4 1503.2C1452.8 1500.7 1382.6 1500.7 1365.1 1503.2Z" fill="#FFAA86"/>
<path d="M1390 1503.2C1384.7 1505.7 1389.5 1513.9 1390 1518.1C1390.5 1522.4 1392 1525.1 1393.2 1528.8C1394.4 1532.5 1395.9 1537.1 1397.5 1540.5C1399.1 1543.9 1401.2 1547.1 1402.8 1549C1404.4 1551 1405.6 1552.1 1407.1 1552.2C1408.5 1552.4 1409.9 1551.5 1411.3 1549.7C1412.7 1547.9 1414.3 1544.9 1415.6 1541.6C1416.9 1538.3 1418.1 1533.8 1419.2 1529.9C1420.3 1526 1421.5 1522.6 1422 1518.1C1422.4 1513.7 1427.3 1505.7 1422 1503.2C1416.7 1500.7 1395.3 1500.7 1390 1503.2Z" fill="#FFCDB4"/>
<path d="M1157.6 1948C1157.6 1948 1158.8 1954.4 1159.7 1958.6C1160.6 1962.9 1161.7 1968.9 1162.9 1973.6C1164.2 1978.2 1165.6 1982.3 1167.2 1986.4C1168.8 1990.4 1170.9 1994.2 1172.5 1998.1C1174.1 2002 1175.2 2006.8 1176.8 2009.8C1178.4 2012.8 1180.3 2014.9 1182.1 2016.2C1183.9 2017.6 1185.5 2018.1 1187.4 2017.9C1189.4 2017.7 1191.9 2016.3 1193.8 2015.1C1195.8 2014 1197.5 2012.5 1199.2 2010.9C1200.8 2009.3 1202.4 2007.7 1203.9 2005.6C1205.3 2003.4 1206.4 2000.4 1207.7 1998.1C1209.1 1995.8 1210.5 1994.4 1212 1991.7C1213.4 1989 1215 1985.8 1216.2 1982.1C1217.5 1978.4 1218.5 1973.6 1219.4 1969.3C1220.3 1965 1221 1960.1 1221.6 1956.5C1222.2 1953 1223.1 1948 1223.1 1948C1223.1 1948 1220.7 1940.7 1219.4 1937.3C1218.1 1933.9 1216.6 1930.7 1215.2 1927.7C1213.7 1924.7 1212 1921.2 1210.9 1919.2C1209.8 1917.2 1209.8 1917.5 1208.8 1916C1207.7 1914.5 1206.1 1912.1 1204.5 1910.5C1202.9 1908.8 1201.1 1907.2 1199.2 1906.2C1197.2 1905.2 1194.7 1904.6 1192.8 1904.5C1190.8 1904.4 1189.6 1904.8 1187.4 1905.8C1185.3 1906.8 1182.1 1908.8 1180 1910.5C1177.9 1912.2 1176.1 1915.1 1174.7 1916C1173.2 1916.9 1172.9 1914.6 1171.5 1916C1170 1917.4 1167.9 1921.3 1166.1 1924.5C1164.3 1927.7 1162.2 1931.3 1160.8 1935.2C1159.4 1939.1 1157.6 1948 1157.6 1948Z" fill="#FFCDB4"/>
<path d="M1168.3 1948C1168.3 1948 1170.7 1942.1 1172.5 1939.5C1174.3 1936.8 1176.8 1934.1 1178.9 1932C1181 1929.9 1183.4 1928.2 1185.3 1927.1C1187.3 1926 1188.9 1925.5 1190.6 1925.6C1192.4 1925.7 1194 1926.3 1196 1927.7C1197.9 1929.1 1200.4 1931.8 1202.4 1934.1C1204.3 1936.4 1206.1 1939.3 1207.7 1941.6C1209.3 1943.9 1212 1948 1212 1948C1212 1948 1210 1955.3 1208.8 1958.6C1207.5 1962 1206.1 1965.2 1204.5 1968.2C1202.9 1971.3 1200.9 1974.6 1199.2 1976.8C1197.4 1978.9 1195.6 1980.1 1193.8 1981C1192.1 1981.9 1190.3 1982.5 1188.5 1982.1C1186.7 1981.7 1185 1980.7 1183.2 1978.9C1181.4 1977.1 1179.4 1974.3 1177.9 1971.4C1176.3 1968.6 1174.8 1964.7 1173.6 1961.8C1172.3 1959 1171.3 1956.7 1170.4 1954.4C1169.5 1952.1 1168.3 1948 1168.3 1948Z" fill="#FFAA86"/>
<path d="M1182.5 1948C1182.5 1948 1185.1 1946.1 1186.4 1945.4C1187.7 1944.8 1189 1944.1 1190.2 1944.1C1191.5 1944.1 1192.6 1944.8 1193.8 1945.4C1195.1 1946.1 1197.5 1948 1197.5 1948C1197.5 1948 1195.1 1950.9 1193.8 1951.8C1192.6 1952.7 1191.5 1953.3 1190.2 1953.3C1189 1953.3 1187.7 1952.7 1186.4 1951.8C1185.1 1950.9 1182.5 1948 1182.5 1948Z" fill="#FF7A44"/>
<path d="M1298.3 1932C1299.6 1932.3 1301.3 1933.6 1302.6 1935.2C1303.8 1936.8 1304.8 1939.1 1305.8 1941.6C1306.7 1944.1 1307.5 1946.6 1308.3 1950.1C1309.2 1953.7 1310.1 1958.3 1311.1 1962.9C1312.1 1967.5 1313.2 1973.2 1314.3 1977.8C1315.4 1982.5 1316.6 1987.1 1317.5 1990.6C1318.4 1994.2 1319.4 1994.5 1319.6 1999.2C1319.9 2003.8 1319.5 2011.9 1319.2 2018.3C1319 2024.7 1319 2032.6 1318.1 2037.5C1317.3 2042.5 1315.8 2044.6 1314.3 2048.2C1312.8 2051.7 1310.8 2055.8 1309 2058.9C1307.2 2061.9 1305.4 2064.2 1303.7 2066.3C1301.9 2068.5 1299.9 2070.8 1298.3 2071.7C1296.7 2072.5 1295.4 2072.6 1294.1 2071.2C1292.7 2069.8 1291.5 2066.6 1290.4 2063.1C1289.4 2059.6 1288.4 2054.9 1287.7 2050.3C1286.9 2045.7 1286.5 2040.7 1286.2 2035.4C1285.8 2030.1 1285.7 2024 1285.5 2018.3C1285.3 2012.7 1284.8 2007 1284.9 2001.3C1285 1995.6 1285.7 1989.9 1286.2 1984.2C1286.6 1978.5 1287.2 1972.9 1287.7 1967.2C1288.1 1961.5 1288.1 1954.7 1288.7 1950.1C1289.3 1945.5 1290.2 1942.2 1291.3 1939.5C1292.3 1936.7 1293.9 1934.7 1295.1 1933.5C1296.3 1932.2 1297.1 1931.7 1298.3 1932Z" fill="#FFCDB4"/>
<path d="M1129.7 2247.6C1129.3 2245.7 1130.7 2242 1131.8 2240.1C1132.9 2238.2 1134.5 2236.8 1136.1 2236.3C1137.7 2235.7 1139.4 2235.9 1141.4 2236.9C1143.4 2237.9 1146.2 2240.3 1148 2242.2C1149.8 2244.2 1152.1 2246.7 1152.1 2248.6C1152.1 2250.6 1149.8 2253.1 1148 2254C1146.2 2254.8 1143.7 2254.4 1141.4 2254C1139 2253.5 1135.9 2252.2 1133.9 2251.2C1132 2250.1 1130 2249.4 1129.7 2247.6Z" fill="#FFCDB4"/>
<path d="M1434.8 2307.9L1439 2305.8L1444.4 2307.5L1447.6 2305.3L1452.9 2307.9Z" fill="#86A8FF"/>
<path d="M1455 2307.9L1461.4 2305.3L1474.2 2304.9L1476.4 2307.9Z" fill="#4476FF"/>
<path d="M1461.4 2307.9L1465.7 2306L1474.2 2305.8L1475.3 2307.9Z" fill="#1C50FF"/>
<path d="M1488.1 2307.9L1492.3 2305.3L1499.8 2304.5L1508.3 2307.9Z" fill="#FFCDB4"/>
<path d="M1494.5 2307.9L1497.7 2306L1504.1 2306.6L1506.2 2307.9Z" fill="#FFAA86"/>
<path d="M1526.5 2211.3L1529.7 2215.6L1527.1 2219.8L1524.3 2215.6Z" fill="#FFCDB4"/>
<path d="M1534.4 2214.5L1536.5 2203.8L1538.6 2214.5Z" fill="#FFAA86"/>
<path d="M1525.4 2269.9C1524.3 2269.9 1521.5 2274.9 1520.1 2278.5C1518.6 2282 1516.3 2289.8 1516.9 2291.3C1517.4 2292.7 1521.7 2289.1 1523.3 2287C1524.9 2284.9 1526.1 2281.3 1526.5 2278.5C1526.8 2275.6 1526.5 2269.9 1525.4 2269.9Z" fill="#FFCDB4"/>
<path d="M1534 2216.9L1559.2 2216.9L1559.2 2328L1367.4 2328L1367.4 2309L1512.8 2309L1512.8 2302.7L1520.8 2302.7L1520.8 2290.6L1524.9 2290.6L1524.9 2249.2L1528.9 2249.2L1528.9 2233.1L1534 2233.1Z" fill="#fff"/>
</g>
<g stroke="#000" stroke-linecap="round" fill="none">
<rect x="748.5" y="1516" width="796.7" height="798" stroke-width="4.6" stroke-linejoin="miter"/>
<path d="M748.5 1516L748.5 1495.2" stroke-width="4.6"/>
<path d="M748.5 2314L748.5 2334.8" stroke-width="4.6"/>
<path d="M792.8 1516L792.8 1505.6" stroke-width="2.2"/>
<path d="M792.8 2314L792.8 2324.4" stroke-width="2.2"/>
<path d="M837 1516L837 1505.6" stroke-width="2.2"/>
<path d="M837 2314L837 2324.4" stroke-width="2.2"/>
<path d="M881.3 1516L881.3 1495.2" stroke-width="4.6"/>
<path d="M881.3 2314L881.3 2334.8" stroke-width="4.6"/>
<path d="M925.5 1516L925.5 1505.6" stroke-width="2.2"/>
<path d="M925.5 2314L925.5 2324.4" stroke-width="2.2"/>
<path d="M969.8 1516L969.8 1505.6" stroke-width="2.2"/>
<path d="M969.8 2314L969.8 2324.4" stroke-width="2.2"/>
<path d="M1014.1 1516L1014.1 1495.2" stroke-width="4.6"/>
<path d="M1014.1 2314L1014.1 2334.8" stroke-width="4.6"/>
<path d="M1058.3 1516L1058.3 1505.6" stroke-width="2.2"/>
<path d="M1058.3 2314L1058.3 2324.4" stroke-width="2.2"/>
<path d="M1102.6 1516L1102.6 1505.6" stroke-width="2.2"/>
<path d="M1102.6 2314L1102.6 2324.4" stroke-width="2.2"/>
<path d="M1146.8 1516L1146.8 1495.2" stroke-width="4.6"/>
<path d="M1146.8 2314L1146.8 2334.8" stroke-width="4.6"/>
<path d="M1191.1 1516L1191.1 1505.6" stroke-width="2.2"/>
<path d="M1191.1 2314L1191.1 2324.4" stroke-width="2.2"/>
<path d="M1235.4 1516L1235.4 1505.6" stroke-width="2.2"/>
<path d="M1235.4 2314L1235.4 2324.4" stroke-width="2.2"/>
<path d="M1279.6 1516L1279.6 1495.2" stroke-width="4.6"/>
<path d="M1279.6 2314L1279.6 2334.8" stroke-width="4.6"/>
<path d="M1323.9 1516L1323.9 1505.6" stroke-width="2.2"/>
<path d="M1323.9 2314L1323.9 2324.4" stroke-width="2.2"/>
<path d="M1368.2 1516L1368.2 1505.6" stroke-width="2.2"/>
<path d="M1368.2 2314L1368.2 2324.4" stroke-width="2.2"/>
<path d="M1412.4 1516L1412.4 1495.2" stroke-width="4.6"/>
<path d="M1412.4 2314L1412.4 2334.8" stroke-width="4.6"/>
<path d="M1456.7 1516L1456.7 1505.6" stroke-width="2.2"/>
<path d="M1456.7 2314L1456.7 2324.4" stroke-width="2.2"/>
<path d="M1500.9 1516L1500.9 1505.6" stroke-width="2.2"/>
<path d="M1500.9 2314L1500.9 2324.4" stroke-width="2.2"/>
<path d="M1545.2 1516L1545.2 1495.2" stroke-width="4.6"/>
<path d="M1545.2 2314L1545.2 2334.8" stroke-width="4.6"/>
<path d="M748.5 1516L727.5 1516" stroke-width="4.6"/>
<path d="M748.5 1632.3L727.5 1632.3" stroke-width="4.6"/>
<path d="M748.5 1708.8L727.5 1708.8" stroke-width="4.6"/>
<path d="M748.5 1790L727.5 1790" stroke-width="4.6"/>
<path d="M748.5 1882.3L727.5 1882.3" stroke-width="4.6"/>
<path d="M748.5 1947.7L727.5 1947.7" stroke-width="4.6"/>
<path d="M748.5 1998.5L727.5 1998.5" stroke-width="4.6"/>
<path d="M748.5 2040L727.5 2040" stroke-width="4.6"/>
<path d="M748.5 2105.5L727.5 2105.5" stroke-width="4.6"/>
<path d="M748.5 2156.3L727.5 2156.3" stroke-width="4.6"/>
<path d="M748.5 2232.8L727.5 2232.8" stroke-width="4.6"/>
<path d="M748.5 2277L727.5 2277" stroke-width="4.6"/>
<path d="M748.5 2314L727.5 2314" stroke-width="4.6"/>
<path d="M1545.2 1654.9L1566.2 1654.9" stroke-width="4.6"/>
<path d="M1545.2 1796.9L1566.2 1796.9" stroke-width="4.6"/>
<path d="M1545.2 1940.2L1566.2 1940.2" stroke-width="4.6"/>
<path d="M1545.2 2079L1566.2 2079" stroke-width="4.6"/>
<path d="M1545.2 2204L1566.2 2204" stroke-width="4.6"/>
</g>
<text transform="translate(706.5 1527.3) scale(0.905 1)" font-size="32" text-anchor="end">30</text>
<text transform="translate(706.5 1643.6) scale(0.905 1)" font-size="32" text-anchor="end">50</text>
<text transform="translate(706.5 1720.1) scale(0.905 1)" font-size="32" text-anchor="end">70</text>
<text transform="translate(706.5 1801.3) scale(0.905 1)" font-size="32" text-anchor="end">100</text>
<text transform="translate(706.5 1893.6) scale(0.905 1)" font-size="32" text-anchor="end">150</text>
<text transform="translate(706.5 1959) scale(0.905 1)" font-size="32" text-anchor="end">200</text>
<text transform="translate(706.5 2009.8) scale(0.905 1)" font-size="32" text-anchor="end">250</text>
<text transform="translate(706.5 2051.3) scale(0.905 1)" font-size="32" text-anchor="end">300</text>
<text transform="translate(706.5 2116.8) scale(0.905 1)" font-size="32" text-anchor="end">400</text>
<text transform="translate(706.5 2167.6) scale(0.905 1)" font-size="32" text-anchor="end">500</text>
<text transform="translate(706.5 2244.1) scale(0.905 1)" font-size="32" text-anchor="end">700</text>
<text transform="translate(706.5 2288.3) scale(0.905 1)" font-size="32" text-anchor="end">850</text>
<text transform="translate(706.5 2325.3) scale(0.905 1)" font-size="32" text-anchor="end">1000</text>
<text transform="translate(1586.4 1666.2) scale(0.947 1)" font-size="32" text-anchor="start">20</text>
<text transform="translate(1586.4 1808.2) scale(0.947 1)" font-size="32" text-anchor="start">16</text>
<text transform="translate(1586.4 1951.5) scale(0.947 1)" font-size="32" text-anchor="start">12</text>
<text transform="translate(1586.4 2090.3) scale(0.947 1)" font-size="32" text-anchor="start">8</text>
<text transform="translate(1586.4 2215.3) scale(0.947 1)" font-size="32" text-anchor="start">4</text>
<text transform="translate(748.5 2378.9) scale(0.917 1)" font-size="32" text-anchor="middle">90N</text>
<text transform="translate(881.3 2378.9) scale(0.917 1)" font-size="32" text-anchor="middle">60N</text>
<text transform="translate(1014.1 2378.9) scale(0.917 1)" font-size="32" text-anchor="middle">30N</text>
<text transform="translate(1146.9 2378.9) scale(0.917 1)" font-size="32" text-anchor="middle">0</text>
<text transform="translate(1279.6 2378.9) scale(0.917 1)" font-size="32" text-anchor="middle">30S</text>
<text transform="translate(1412.4 2378.9) scale(0.917 1)" font-size="32" text-anchor="middle">60S</text>
<text transform="translate(1545.2 2378.9) scale(0.917 1)" font-size="32" text-anchor="middle">90S</text>
<text x="1148" y="1411.6" font-size="45.6" text-anchor="middle">f09.B-0p5xCO2.cfmip.cf41 - f09.B-PI.tn15.cmip6.j01.re</text>
<text transform="translate(747 1481) scale(0.961 1)" font-size="43.7" text-anchor="start">Stationary eddy momentum</text>
<text transform="translate(1546.7 1489) scale(0.961 1)" font-size="43.7" text-anchor="end">m<tspan font-size="28.5" dy="-20.3">2</tspan><tspan dy="20.3">/s</tspan><tspan font-size="28.5" dy="-20.3">2</tspan></text>
<text transform="translate(607.1 1915.5) rotate(-90) scale(0.965 1)" font-size="47.4" text-anchor="middle">Pressure (mb)</text>
<text transform="translate(1676.1 1915.5) rotate(-90) scale(0.972 1)" font-size="47.2" text-anchor="middle">Height (km)</text>
<rect x="192.4" y="1193.3" width="48.9" height="71.6" fill="#00008B"/>
<rect x="240.8" y="1193.3" width="48.9" height="71.6" fill="#001CB8"/>
<rect x="289.1" y="1193.3" width="48.9" height="71.6" fill="#0030DC"/>
<rect x="337.5" y="1193.3" width="48.9" height="71.6" fill="#1C50FF"/>
<rect x="385.9" y="1193.3" width="48.9" height="71.6" fill="#4476FF"/>
<rect x="434.3" y="1193.3" width="48.9" height="71.6" fill="#86A8FF"/>
<rect x="482.6" y="1193.3" width="48.9" height="71.6" fill="#B4CDFF"/>
<rect x="531" y="1193.3" width="48.9" height="71.6" fill="#D6EAFF"/>
<rect x="579.4" y="1193.3" width="48.9" height="71.6" fill="#FFEAD9"/>
<rect x="627.8" y="1193.3" width="48.9" height="71.6" fill="#FFCDB4"/>
<rect x="676.1" y="1193.3" width="48.9" height="71.6" fill="#FFAA86"/>
<rect x="724.5" y="1193.3" width="48.9" height="71.6" fill="#FF7A44"/>
<rect x="772.9" y="1193.3" width="48.9" height="71.6" fill="#FF501C"/>
<rect x="821.3" y="1193.3" width="48.9" height="71.6" fill="#E13200"/>
<rect x="869.6" y="1193.3" width="48.9" height="71.6" fill="#B92805"/>
<rect x="918" y="1193.3" width="48.4" height="71.6" fill="#8B0000"/>
<g stroke="#000" stroke-width="2.2" fill="none">
<rect x="192.4" y="1193.3" width="774" height="71.6"/>
<path d="M240.8 1193.3V1264.9"/>
<path d="M289.1 1193.3V1264.9"/>
<path d="M337.5 1193.3V1264.9"/>
<path d="M385.9 1193.3V1264.9"/>
<path d="M434.3 1193.3V1264.9"/>
<path d="M482.6 1193.3V1264.9"/>
<path d="M531 1193.3V1264.9"/>
<path d="M579.4 1193.3V1264.9"/>
<path d="M627.8 1193.3V1264.9"/>
<path d="M676.1 1193.3V1264.9"/>
<path d="M724.5 1193.3V1264.9"/>
<path d="M772.9 1193.3V1264.9"/>
<path d="M821.3 1193.3V1264.9"/>
<path d="M869.6 1193.3V1264.9"/>
<path d="M918 1193.3V1264.9"/>
</g>
<text transform="translate(240.8 1311.6) scale(0.94 1)" font-size="35" text-anchor="middle">-30</text>
<text transform="translate(337.5 1311.6) scale(0.94 1)" font-size="35" text-anchor="middle">-20</text>
<text transform="translate(434.3 1311.6) scale(0.94 1)" font-size="35" text-anchor="middle">-10</text>
<text transform="translate(531 1311.6) scale(0.94 1)" font-size="35" text-anchor="middle">-2</text>
<text transform="translate(627.8 1311.6) scale(0.94 1)" font-size="35" text-anchor="middle">2</text>
<text transform="translate(724.5 1311.6) scale(0.94 1)" font-size="35" text-anchor="middle">10</text>
<text transform="translate(821.3 1311.6) scale(0.94 1)" font-size="35" text-anchor="middle">20</text>
<text transform="translate(918 1311.6) scale(0.94 1)" font-size="35" text-anchor="middle">30</text>
<rect x="1327.1" y="1193.3" width="48.9" height="71.6" fill="#00008B"/>
<rect x="1375.5" y="1193.3" width="48.9" height="71.6" fill="#001CB8"/>
<rect x="1423.8" y="1193.3" width="48.9" height="71.6" fill="#0030DC"/>
<rect x="1472.2" y="1193.3" width="48.9" height="71.6" fill="#1C50FF"/>
<rect x="1520.6" y="1193.3" width="48.9" height="71.6" fill="#4476FF"/>
<rect x="1569" y="1193.3" width="48.9" height="71.6" fill="#86A8FF"/>
<rect x="1617.3" y="1193.3" width="48.9" height="71.6" fill="#B4CDFF"/>
<rect x="1665.7" y="1193.3" width="48.9" height="71.6" fill="#D6EAFF"/>
<rect x="1714.1" y="1193.3" width="48.9" height="71.6" fill="#FFEAD9"/>
<rect x="1762.5" y="1193.3" width="48.9" height="71.6" fill="#FFCDB4"/>
<rect x="1810.8" y="1193.3" width="48.9" height="71.6" fill="#FFAA86"/>
<rect x="1859.2" y="1193.3" width="48.9" height="71.6" fill="#FF7A44"/>
<rect x="1907.6" y="1193.3" width="48.9" height="71.6" fill="#FF501C"/>
<rect x="1956" y="1193.3" width="48.9" height="71.6" fill="#E13200"/>
<rect x="2004.3" y="1193.3" width="48.9" height="71.6" fill="#B92805"/>
<rect x="2052.7" y="1193.3" width="48.4" height="71.6" fill="#8B0000"/>
<g stroke="#000" stroke-width="2.2" fill="none">
<rect x="1327.1" y="1193.3" width="774" height="71.6"/>
<path d="M1375.5 1193.3V1264.9"/>
<path d="M1423.8 1193.3V1264.9"/>
<path d="M1472.2 1193.3V1264.9"/>
<path d="M1520.6 1193.3V1264.9"/>
<path d="M1569 1193.3V1264.9"/>
<path d="M1617.3 1193.3V1264.9"/>
<path d="M1665.7 1193.3V1264.9"/>
<path d="M1714.1 1193.3V1264.9"/>
<path d="M1762.5 1193.3V1264.9"/>
<path d="M1810.8 1193.3V1264.9"/>
<path d="M1859.2 1193.3V1264.9"/>
<path d="M1907.6 1193.3V1264.9"/>
<path d="M1956 1193.3V1264.9"/>
<path d="M2004.3 1193.3V1264.9"/>
<path d="M2052.7 1193.3V1264.9"/>
</g>
<text transform="translate(1375.5 1311.6) scale(0.94 1)" font-size="35" text-anchor="middle">-30</text>
<text transform="translate(1472.2 1311.6) scale(0.94 1)" font-size="35" text-anchor="middle">-20</text>
<text transform="translate(1569 1311.6) scale(0.94 1)" font-size="35" text-anchor="middle">-10</text>
<text transform="translate(1665.7 1311.6) scale(0.94 1)" font-size="35" text-anchor="middle">-2</text>
<text transform="translate(1762.5 1311.6) scale(0.94 1)" font-size="35" text-anchor="middle">2</text>
<text transform="translate(1859.2 1311.6) scale(0.94 1)" font-size="35" text-anchor="middle">10</text>
<text transform="translate(1956 1311.6) scale(0.94 1)" font-size="35" text-anchor="middle">20</text>
<text transform="translate(2052.7 1311.6) scale(0.94 1)" font-size="35" text-anchor="middle">30</text>
<rect x="1797.6" y="1664.5" width="76.6" height="40.6" fill="#8B0000"/>
<rect x="1797.6" y="1704.6" width="76.6" height="40.6" fill="#B92805"/>
<rect x="1797.6" y="1744.6" width="76.6" height="40.6" fill="#E13200"/>
<rect x="1797.6" y="1784.7" width="76.6" height="40.6" fill="#FF501C"/>
<rect x="1797.6" y="1824.8" width="76.6" height="40.6" fill="#FF7A44"/>
<rect x="1797.6" y="1864.8" width="76.6" height="40.6" fill="#FFAA86"/>
<rect x="1797.6" y="1904.9" width="76.6" height="40.6" fill="#FFCDB4"/>
<rect x="1797.6" y="1944.9" width="76.6" height="40.6" fill="#FFEAD9"/>
<rect x="1797.6" y="1985" width="76.6" height="40.6" fill="#D6EAFF"/>
<rect x="1797.6" y="2025.1" width="76.6" height="40.6" fill="#B4CDFF"/>
<rect x="1797.6" y="2065.1" width="76.6" height="40.6" fill="#86A8FF"/>
<rect x="1797.6" y="2105.2" width="76.6" height="40.6" fill="#4476FF"/>
<rect x="1797.6" y="2145.2" width="76.6" height="40.6" fill="#1C50FF"/>
<rect x="1797.6" y="2185.3" width="76.6" height="40.6" fill="#0030DC"/>
<rect x="1797.6" y="2225.4" width="76.6" height="40.6" fill="#001CB8"/>
<rect x="1797.6" y="2265.4" width="76.6" height="40.1" fill="#00008B"/>
<g stroke="#000" stroke-width="2.2" fill="none">
<rect x="1797.6" y="1664.5" width="76.6" height="641"/>
<path d="M1797.6 1704.6H1874.2"/>
<path d="M1797.6 1744.6H1874.2"/>
<path d="M1797.6 1784.7H1874.2"/>
<path d="M1797.6 1824.8H1874.2"/>
<path d="M1797.6 1864.8H1874.2"/>
<path d="M1797.6 1904.9H1874.2"/>
<path d="M1797.6 1944.9H1874.2"/>
<path d="M1797.6 1985H1874.2"/>
<path d="M1797.6 2025.1H1874.2"/>
<path d="M1797.6 2065.1H1874.2"/>
<path d="M1797.6 2105.2H1874.2"/>
<path d="M1797.6 2145.2H1874.2"/>
<path d="M1797.6 2185.3H1874.2"/>
<path d="M1797.6 2225.4H1874.2"/>
<path d="M1797.6 2265.4H1874.2"/>
</g>
<text transform="translate(1911.4 1716.8) scale(0.985 1)" font-size="34" text-anchor="middle">10</text>
<text transform="translate(1911.4 1756.8) scale(0.985 1)" font-size="34" text-anchor="middle">8</text>
<text transform="translate(1911.4 1796.9) scale(0.985 1)" font-size="34" text-anchor="middle">6</text>
<text transform="translate(1911.4 1837) scale(0.985 1)" font-size="34" text-anchor="middle">4</text>
<text transform="translate(1911.4 1877) scale(0.985 1)" font-size="34" text-anchor="middle">3</text>
<text transform="translate(1911.4 1917.1) scale(0.985 1)" font-size="34" text-anchor="middle">2</text>
<text transform="translate(1911.4 1957.1) scale(0.985 1)" font-size="34" text-anchor="middle">1</text>
<text transform="translate(1911.4 1997.2) scale(0.985 1)" font-size="34" text-anchor="middle">0</text>
<text transform="translate(1911.4 2037.3) scale(0.985 1)" font-size="34" text-anchor="middle">-1</text>
<text transform="translate(1911.4 2077.3) scale(0.985 1)" font-size="34" text-anchor="middle">-2</text>
<text transform="translate(1911.4 2117.4) scale(0.985 1)" font-size="34" text-anchor="middle">-3</text>
<text transform="translate(1911.4 2157.4) scale(0.985 1)" font-size="34" text-anchor="middle">-4</text>
<text transform="translate(1911.4 2197.5) scale(0.985 1)" font-size="34" text-anchor="middle">-6</text>
<text transform="translate(1911.4 2237.6) scale(0.985 1)" font-size="34" text-anchor="middle">-8</text>
<text transform="translate(1911.4 2277.6) scale(0.985 1)" font-size="34" text-anchor="middle">-10</text>
<text transform="translate(350.0 1154) scale(0.912 1)" font-size="40" xml:space="preserve">MIN = -20.73  MAX =  21.15</text>
<text transform="translate(1484.7 1154) scale(0.912 1)" font-size="40" xml:space="preserve">MIN = -20.81  MAX =  21.56</text>
<text transform="translate(1645.3 1594.6) scale(0.912 1)" font-size="40" xml:space="preserve">MIN =  -4.12  MAX =   4.97</text>
</svg></body></html>
